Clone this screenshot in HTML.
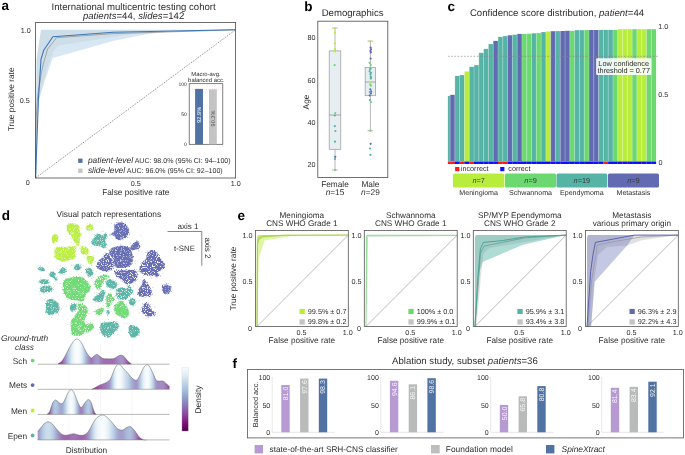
<!DOCTYPE html>
<html><head><meta charset="utf-8"><style>html,body{margin:0;padding:0;background:#fff;}svg{display:block;}</style></head>
<body>
<svg width="685" height="455" viewBox="0 0 685 455" font-family='"Liberation Sans", sans-serif' text-rendering="geometricPrecision">
<style>text{opacity:0.995}text[font-weight=bold],text.ns{stroke:none}</style>
<rect width="685" height="455" fill="#fff"/>
<text x="1.60" y="9.60" font-size="13.5" text-anchor="start" fill="#000" font-weight="bold">a</text>
<text x="133.60" y="9.90" font-size="9.6" text-anchor="middle" fill="#2e2e2e">International multicentric testing cohort</text>
<text x="133.60" y="19.20" font-size="9.6" text-anchor="middle" fill="#2e2e2e"><tspan font-style="italic">patients</tspan>=44, <tspan font-style="italic">slides</tspan>=142</text>
<polygon points="35.60,178.00 36.20,103.90 36.60,59.44 41.00,29.80 235.60,29.80 235.60,29.80 167.60,31.28 141.00,35.14 113.00,40.91 52.80,57.96 45.00,80.19 39.00,99.45 36.80,126.13 35.80,178.00" fill="#d7e7f3" stroke="none" stroke-width="1"/>
<polygon points="35.60,178.00 36.00,103.90 36.60,59.44 41.00,29.80 235.60,29.80 235.60,29.80 135.60,33.51 58.00,45.51 53.40,51.44 47.60,66.85 39.60,96.49 36.60,126.13 35.80,178.00" fill="#a0acb6" stroke="none" stroke-width="1" fill-opacity="0.16"/>
<line x1="35.60" y1="178.00" x2="235.60" y2="29.80" stroke="#555" stroke-width="0.6" stroke-dasharray="1.6,1.2"/>
<polyline points="35.60,178.00 36.20,118.72 37.60,96.49 41.60,71.30 44.60,59.44 47.60,49.07 56.60,37.65 113.00,33.65 235.60,29.80" fill="none" stroke="#959595" stroke-width="0.8" stroke-linejoin="round"/>
<polyline points="35.60,178.00 38.40,99.45 41.00,59.44 43.60,50.55 52.80,36.77 113.00,32.32 235.60,29.80" fill="none" stroke="#3c77b5" stroke-width="1.1" stroke-linejoin="round"/>
<rect x="35.60" y="22.50" width="200.00" height="155.50" fill="none" stroke="#4a4a4a" stroke-width="0.8"/>
<text x="30.80" y="32.60" font-size="7.2" text-anchor="end" fill="#2e2e2e">1.0</text>
<text x="29.80" y="102.60" font-size="7.2" text-anchor="end" fill="#2e2e2e">0.5</text>
<text x="27.70" y="185.30" font-size="7.2" text-anchor="middle" fill="#2e2e2e">0</text>
<text x="135.80" y="186.10" font-size="7.2" text-anchor="middle" fill="#2e2e2e">0.5</text>
<text x="235.80" y="186.10" font-size="7.2" text-anchor="middle" fill="#2e2e2e">1.0</text>
<text x="135.80" y="194.60" font-size="8.3" text-anchor="middle" fill="#2e2e2e">False positive rate</text>
<text x="13.80" y="99.40" font-size="8.3" text-anchor="middle" fill="#2e2e2e" transform="rotate(-90 13.80 99.40)">True positive rate</text>
<text x="206.00" y="76.00" font-size="5.9" text-anchor="middle" fill="#2e2e2e">Macro-avg.</text>
<text x="206.30" y="82.20" font-size="5.9" text-anchor="middle" fill="#2e2e2e">balanced acc.</text>
<rect x="189.20" y="83.70" width="33.60" height="60.60" fill="#fff" stroke="#4a4a4a" stroke-width="0.7"/>
<line x1="190.00" y1="89.20" x2="222.00" y2="89.20" stroke="#f3b0b0" stroke-width="0.4" stroke-dasharray="1,1"/>
<rect x="195.10" y="88.90" width="7.90" height="55.40" fill="#5073a3" stroke="none" stroke-width="0.8"/>
<rect x="209.00" y="89.30" width="7.80" height="55.00" fill="#c4c4c4" stroke="none" stroke-width="0.8"/>
<text x="186.80" y="85.80" font-size="5.0" text-anchor="end" fill="#2e2e2e">100</text>
<text x="186.80" y="116.30" font-size="5.0" text-anchor="end" fill="#2e2e2e">50</text>
<text x="186.80" y="146.00" font-size="5.0" text-anchor="end" fill="#2e2e2e">0</text>
<text x="201.20" y="114.80" font-size="5.6" text-anchor="middle" fill="#fff" transform="rotate(-90 201.20 114.80)" class="ns">92.9%</text>
<text x="215.00" y="118.50" font-size="5.6" text-anchor="middle" fill="#555" transform="rotate(-90 215.00 118.50)" class="ns">90.3%</text>
<rect x="78.20" y="158.60" width="4.30" height="4.30" fill="#5073a3" stroke="none" stroke-width="0.8"/>
<rect x="78.20" y="168.60" width="4.30" height="4.30" fill="#c4c4c4" stroke="none" stroke-width="0.8"/>
<text x="87.90" y="163.00" font-size="7.05" text-anchor="start" fill="#2e2e2e"><tspan font-style="italic" font-size="8.4">patient-level</tspan> AUC: 98.0% (95% CI: 94–100)</text>
<text x="87.90" y="172.80" font-size="7.05" text-anchor="start" fill="#2e2e2e"><tspan font-style="italic" font-size="8.4">slide-level</tspan> AUC: 96.0% (95% CI: 92–100)</text>
<text x="304.30" y="11.20" font-size="13.5" text-anchor="start" fill="#000" font-weight="bold">b</text>
<text x="352.60" y="15.90" font-size="9.6" text-anchor="middle" fill="#2e2e2e">Demographics</text>
<text x="315.60" y="40.40" font-size="7.2" text-anchor="end" fill="#2e2e2e">80</text>
<text x="315.60" y="82.60" font-size="7.2" text-anchor="end" fill="#2e2e2e">60</text>
<text x="315.60" y="124.80" font-size="7.2" text-anchor="end" fill="#2e2e2e">40</text>
<text x="315.60" y="167.00" font-size="7.2" text-anchor="end" fill="#2e2e2e">20</text>
<text x="308.60" y="102.00" font-size="8.3" text-anchor="middle" fill="#2e2e2e" transform="rotate(-90 308.60 102.00)">Age</text>
<line x1="335.00" y1="28.10" x2="335.00" y2="50.90" stroke="#999" stroke-width="0.7"/>
<line x1="335.00" y1="149.30" x2="335.00" y2="170.00" stroke="#999" stroke-width="0.7"/>
<line x1="332.20" y1="28.10" x2="337.80" y2="28.10" stroke="#999" stroke-width="0.7"/>
<line x1="332.20" y1="170.00" x2="337.80" y2="170.00" stroke="#999" stroke-width="0.7"/>
<rect x="329.20" y="50.90" width="11.60" height="98.40" fill="#e7eef2" stroke="#999" stroke-width="0.7"/>
<line x1="329.20" y1="115.00" x2="340.80" y2="115.00" stroke="#888" stroke-width="0.7"/>
<line x1="370.40" y1="41.10" x2="370.40" y2="67.50" stroke="#999" stroke-width="0.7"/>
<line x1="370.40" y1="95.70" x2="370.40" y2="130.70" stroke="#999" stroke-width="0.7"/>
<line x1="367.60" y1="41.10" x2="373.20" y2="41.10" stroke="#999" stroke-width="0.7"/>
<line x1="367.60" y1="130.70" x2="373.20" y2="130.70" stroke="#999" stroke-width="0.7"/>
<rect x="365.15" y="67.50" width="10.50" height="28.20" fill="#e7eef2" stroke="#999" stroke-width="0.7"/>
<line x1="365.15" y1="82.00" x2="375.65" y2="82.00" stroke="#888" stroke-width="0.7"/>
<circle cx="334.79" cy="28.00" r="1.1" fill="#b9ed3b"/>
<circle cx="335.04" cy="32.60" r="1.1" fill="#b9ed3b"/>
<circle cx="334.90" cy="43.40" r="1.1" fill="#b9ed3b"/>
<circle cx="335.08" cy="49.40" r="1.1" fill="#b9ed3b"/>
<circle cx="335.10" cy="51.50" r="1.1" fill="#b9ed3b"/>
<circle cx="334.65" cy="50.50" r="1.1" fill="#b9ed3b"/>
<circle cx="334.61" cy="65.20" r="1.1" fill="#6cd870"/>
<circle cx="335.27" cy="113.10" r="1.1" fill="#6cd870"/>
<circle cx="334.81" cy="115.50" r="1.1" fill="#56b4a6"/>
<circle cx="334.79" cy="126.20" r="1.1" fill="#56b4a6"/>
<circle cx="335.40" cy="131.00" r="1.1" fill="#56b4a6"/>
<circle cx="334.98" cy="141.70" r="1.1" fill="#56b4a6"/>
<circle cx="335.27" cy="156.80" r="1.1" fill="#626ab2"/>
<circle cx="334.98" cy="159.00" r="1.1" fill="#56b4a6"/>
<circle cx="335.11" cy="170.10" r="1.1" fill="#6cd870"/>
<circle cx="369.84" cy="41.00" r="1.1" fill="#b9ed3b"/>
<circle cx="370.62" cy="47.60" r="1.1" fill="#626ab2"/>
<circle cx="370.99" cy="49.30" r="1.1" fill="#626ab2"/>
<circle cx="370.44" cy="51.00" r="1.1" fill="#626ab2"/>
<circle cx="370.79" cy="52.40" r="1.1" fill="#626ab2"/>
<circle cx="370.67" cy="58.60" r="1.1" fill="#626ab2"/>
<circle cx="369.70" cy="62.90" r="1.1" fill="#6cd870"/>
<circle cx="370.81" cy="65.00" r="1.1" fill="#6cd870"/>
<circle cx="370.55" cy="68.60" r="1.1" fill="#56b4a6"/>
<circle cx="370.08" cy="69.30" r="1.1" fill="#56b4a6"/>
<circle cx="369.65" cy="71.40" r="1.1" fill="#56b4a6"/>
<circle cx="370.98" cy="72.90" r="1.1" fill="#56b4a6"/>
<circle cx="370.36" cy="74.30" r="1.1" fill="#56b4a6"/>
<circle cx="370.75" cy="76.40" r="1.1" fill="#56b4a6"/>
<circle cx="371.01" cy="77.90" r="1.1" fill="#56b4a6"/>
<circle cx="370.74" cy="78.60" r="1.1" fill="#56b4a6"/>
<circle cx="371.07" cy="82.10" r="1.1" fill="#b9ed3b"/>
<circle cx="370.23" cy="84.30" r="1.1" fill="#6cd870"/>
<circle cx="370.88" cy="85.70" r="1.1" fill="#6cd870"/>
<circle cx="370.31" cy="89.30" r="1.1" fill="#626ab2"/>
<circle cx="371.10" cy="91.40" r="1.1" fill="#626ab2"/>
<circle cx="371.01" cy="93.40" r="1.1" fill="#626ab2"/>
<circle cx="369.76" cy="95.40" r="1.1" fill="#626ab2"/>
<circle cx="369.82" cy="92.10" r="1.1" fill="#56b4a6"/>
<circle cx="369.95" cy="100.00" r="1.1" fill="#56b4a6"/>
<circle cx="371.14" cy="102.00" r="1.1" fill="#6cd870"/>
<circle cx="370.30" cy="130.80" r="1.1" fill="#6cd870"/>
<circle cx="370.60" cy="143.80" r="1.1" fill="#626ab2"/>
<circle cx="370.08" cy="148.50" r="1.1" fill="#56b4a6"/>
<circle cx="370.41" cy="154.90" r="1.1" fill="#56b4a6"/>
<rect x="317.80" y="21.20" width="70.00" height="156.20" fill="none" stroke="#4a4a4a" stroke-width="0.8"/>
<text x="335.00" y="186.50" font-size="8.3" text-anchor="middle" fill="#2e2e2e">Female</text>
<text x="335.00" y="195.30" font-size="8.3" text-anchor="middle" fill="#2e2e2e"><tspan font-style="italic">n</tspan>=15</text>
<text x="370.40" y="186.50" font-size="8.3" text-anchor="middle" fill="#2e2e2e">Male</text>
<text x="370.40" y="195.30" font-size="8.3" text-anchor="middle" fill="#2e2e2e"><tspan font-style="italic">n</tspan>=29</text>
<text x="447.60" y="11.20" font-size="13.5" text-anchor="start" fill="#000" font-weight="bold">c</text>
<text x="557.00" y="16.10" font-size="9.6" text-anchor="middle" fill="#2e2e2e">Confidence score distribution, <tspan font-style="italic">patient</tspan>=44</text>
<rect x="447.90" y="95.90" width="2.20" height="65.40" fill="#56b4a6" stroke="none" stroke-width="0.8"/>
<rect x="450.10" y="94.80" width="4.79" height="66.50" fill="#626ab2" stroke="none" stroke-width="0.8"/>
<line x1="450.10" y1="94.80" x2="450.10" y2="161.30" stroke="#fff" stroke-width="0.45" stroke-opacity="0.55"/>
<rect x="454.89" y="75.90" width="4.79" height="85.40" fill="#56b4a6" stroke="none" stroke-width="0.8"/>
<line x1="454.89" y1="75.90" x2="454.89" y2="161.30" stroke="#fff" stroke-width="0.45" stroke-opacity="0.55"/>
<rect x="459.68" y="75.10" width="4.79" height="86.20" fill="#56b4a6" stroke="none" stroke-width="0.8"/>
<line x1="459.68" y1="75.10" x2="459.68" y2="161.30" stroke="#fff" stroke-width="0.45" stroke-opacity="0.55"/>
<rect x="464.47" y="71.50" width="4.79" height="89.80" fill="#b9ed3b" stroke="none" stroke-width="0.8"/>
<line x1="464.47" y1="71.50" x2="464.47" y2="161.30" stroke="#fff" stroke-width="0.45" stroke-opacity="0.55"/>
<rect x="469.26" y="66.80" width="4.79" height="94.50" fill="#56b4a6" stroke="none" stroke-width="0.8"/>
<line x1="469.26" y1="66.80" x2="469.26" y2="161.30" stroke="#fff" stroke-width="0.45" stroke-opacity="0.55"/>
<rect x="474.05" y="65.20" width="4.79" height="96.10" fill="#56b4a6" stroke="none" stroke-width="0.8"/>
<line x1="474.05" y1="65.20" x2="474.05" y2="161.30" stroke="#fff" stroke-width="0.45" stroke-opacity="0.55"/>
<rect x="478.84" y="52.80" width="4.79" height="108.50" fill="#56b4a6" stroke="none" stroke-width="0.8"/>
<line x1="478.84" y1="52.80" x2="478.84" y2="161.30" stroke="#fff" stroke-width="0.45" stroke-opacity="0.55"/>
<rect x="483.63" y="48.90" width="4.79" height="112.40" fill="#56b4a6" stroke="none" stroke-width="0.8"/>
<line x1="483.63" y1="48.90" x2="483.63" y2="161.30" stroke="#fff" stroke-width="0.45" stroke-opacity="0.55"/>
<rect x="488.42" y="44.10" width="4.79" height="117.20" fill="#56b4a6" stroke="none" stroke-width="0.8"/>
<line x1="488.42" y1="44.10" x2="488.42" y2="161.30" stroke="#fff" stroke-width="0.45" stroke-opacity="0.55"/>
<rect x="493.21" y="40.90" width="4.79" height="120.40" fill="#626ab2" stroke="none" stroke-width="0.8"/>
<line x1="493.21" y1="40.90" x2="493.21" y2="161.30" stroke="#fff" stroke-width="0.45" stroke-opacity="0.55"/>
<rect x="498.00" y="36.90" width="4.79" height="124.40" fill="#56b4a6" stroke="none" stroke-width="0.8"/>
<line x1="498.00" y1="36.90" x2="498.00" y2="161.30" stroke="#fff" stroke-width="0.45" stroke-opacity="0.55"/>
<rect x="502.79" y="36.10" width="4.79" height="125.20" fill="#56b4a6" stroke="none" stroke-width="0.8"/>
<line x1="502.79" y1="36.10" x2="502.79" y2="161.30" stroke="#fff" stroke-width="0.45" stroke-opacity="0.55"/>
<rect x="507.58" y="35.30" width="4.79" height="126.00" fill="#626ab2" stroke="none" stroke-width="0.8"/>
<line x1="507.58" y1="35.30" x2="507.58" y2="161.30" stroke="#fff" stroke-width="0.45" stroke-opacity="0.55"/>
<rect x="512.37" y="34.70" width="4.79" height="126.60" fill="#56b4a6" stroke="none" stroke-width="0.8"/>
<line x1="512.37" y1="34.70" x2="512.37" y2="161.30" stroke="#fff" stroke-width="0.45" stroke-opacity="0.55"/>
<rect x="517.16" y="33.90" width="4.79" height="127.40" fill="#626ab2" stroke="none" stroke-width="0.8"/>
<line x1="517.16" y1="33.90" x2="517.16" y2="161.30" stroke="#fff" stroke-width="0.45" stroke-opacity="0.55"/>
<rect x="521.95" y="33.90" width="4.79" height="127.40" fill="#6cd870" stroke="none" stroke-width="0.8"/>
<line x1="521.95" y1="33.90" x2="521.95" y2="161.30" stroke="#fff" stroke-width="0.45" stroke-opacity="0.55"/>
<rect x="526.74" y="33.70" width="4.79" height="127.60" fill="#6cd870" stroke="none" stroke-width="0.8"/>
<line x1="526.74" y1="33.70" x2="526.74" y2="161.30" stroke="#fff" stroke-width="0.45" stroke-opacity="0.55"/>
<rect x="531.53" y="33.30" width="4.79" height="128.00" fill="#56b4a6" stroke="none" stroke-width="0.8"/>
<line x1="531.53" y1="33.30" x2="531.53" y2="161.30" stroke="#fff" stroke-width="0.45" stroke-opacity="0.55"/>
<rect x="536.32" y="33.10" width="4.79" height="128.20" fill="#6cd870" stroke="none" stroke-width="0.8"/>
<line x1="536.32" y1="33.10" x2="536.32" y2="161.30" stroke="#fff" stroke-width="0.45" stroke-opacity="0.55"/>
<rect x="541.11" y="32.10" width="4.79" height="129.20" fill="#56b4a6" stroke="none" stroke-width="0.8"/>
<line x1="541.11" y1="32.10" x2="541.11" y2="161.30" stroke="#fff" stroke-width="0.45" stroke-opacity="0.55"/>
<rect x="545.90" y="31.50" width="4.79" height="129.80" fill="#b9ed3b" stroke="none" stroke-width="0.8"/>
<line x1="545.90" y1="31.50" x2="545.90" y2="161.30" stroke="#fff" stroke-width="0.45" stroke-opacity="0.55"/>
<rect x="550.69" y="31.20" width="4.79" height="130.10" fill="#626ab2" stroke="none" stroke-width="0.8"/>
<line x1="550.69" y1="31.20" x2="550.69" y2="161.30" stroke="#fff" stroke-width="0.45" stroke-opacity="0.55"/>
<rect x="555.48" y="31.10" width="4.79" height="130.20" fill="#56b4a6" stroke="none" stroke-width="0.8"/>
<line x1="555.48" y1="31.10" x2="555.48" y2="161.30" stroke="#fff" stroke-width="0.45" stroke-opacity="0.55"/>
<rect x="560.27" y="31.00" width="4.79" height="130.30" fill="#626ab2" stroke="none" stroke-width="0.8"/>
<line x1="560.27" y1="31.00" x2="560.27" y2="161.30" stroke="#fff" stroke-width="0.45" stroke-opacity="0.55"/>
<rect x="565.06" y="30.80" width="4.79" height="130.50" fill="#626ab2" stroke="none" stroke-width="0.8"/>
<line x1="565.06" y1="30.80" x2="565.06" y2="161.30" stroke="#fff" stroke-width="0.45" stroke-opacity="0.55"/>
<rect x="569.85" y="30.80" width="4.79" height="130.50" fill="#6cd870" stroke="none" stroke-width="0.8"/>
<line x1="569.85" y1="30.80" x2="569.85" y2="161.30" stroke="#fff" stroke-width="0.45" stroke-opacity="0.55"/>
<rect x="574.64" y="30.20" width="4.79" height="131.10" fill="#56b4a6" stroke="none" stroke-width="0.8"/>
<line x1="574.64" y1="30.20" x2="574.64" y2="161.30" stroke="#fff" stroke-width="0.45" stroke-opacity="0.55"/>
<rect x="579.43" y="30.20" width="4.79" height="131.10" fill="#56b4a6" stroke="none" stroke-width="0.8"/>
<line x1="579.43" y1="30.20" x2="579.43" y2="161.30" stroke="#fff" stroke-width="0.45" stroke-opacity="0.55"/>
<rect x="584.22" y="30.10" width="4.79" height="131.20" fill="#6cd870" stroke="none" stroke-width="0.8"/>
<line x1="584.22" y1="30.10" x2="584.22" y2="161.30" stroke="#fff" stroke-width="0.45" stroke-opacity="0.55"/>
<rect x="589.01" y="30.00" width="4.79" height="131.30" fill="#626ab2" stroke="none" stroke-width="0.8"/>
<line x1="589.01" y1="30.00" x2="589.01" y2="161.30" stroke="#fff" stroke-width="0.45" stroke-opacity="0.55"/>
<rect x="593.80" y="30.00" width="4.79" height="131.30" fill="#626ab2" stroke="none" stroke-width="0.8"/>
<line x1="593.80" y1="30.00" x2="593.80" y2="161.30" stroke="#fff" stroke-width="0.45" stroke-opacity="0.55"/>
<rect x="598.59" y="29.90" width="4.79" height="131.40" fill="#56b4a6" stroke="none" stroke-width="0.8"/>
<line x1="598.59" y1="29.90" x2="598.59" y2="161.30" stroke="#fff" stroke-width="0.45" stroke-opacity="0.55"/>
<rect x="603.38" y="29.90" width="4.79" height="131.40" fill="#56b4a6" stroke="none" stroke-width="0.8"/>
<line x1="603.38" y1="29.90" x2="603.38" y2="161.30" stroke="#fff" stroke-width="0.45" stroke-opacity="0.55"/>
<rect x="608.17" y="29.90" width="4.79" height="131.40" fill="#56b4a6" stroke="none" stroke-width="0.8"/>
<line x1="608.17" y1="29.90" x2="608.17" y2="161.30" stroke="#fff" stroke-width="0.45" stroke-opacity="0.55"/>
<rect x="612.96" y="29.90" width="4.79" height="131.40" fill="#6cd870" stroke="none" stroke-width="0.8"/>
<line x1="612.96" y1="29.90" x2="612.96" y2="161.30" stroke="#fff" stroke-width="0.45" stroke-opacity="0.55"/>
<rect x="617.75" y="29.20" width="4.79" height="132.10" fill="#b9ed3b" stroke="none" stroke-width="0.8"/>
<line x1="617.75" y1="29.20" x2="617.75" y2="161.30" stroke="#fff" stroke-width="0.45" stroke-opacity="0.55"/>
<rect x="622.54" y="29.20" width="4.79" height="132.10" fill="#b9ed3b" stroke="none" stroke-width="0.8"/>
<line x1="622.54" y1="29.20" x2="622.54" y2="161.30" stroke="#fff" stroke-width="0.45" stroke-opacity="0.55"/>
<rect x="627.33" y="29.20" width="4.79" height="132.10" fill="#b9ed3b" stroke="none" stroke-width="0.8"/>
<line x1="627.33" y1="29.20" x2="627.33" y2="161.30" stroke="#fff" stroke-width="0.45" stroke-opacity="0.55"/>
<rect x="632.12" y="29.20" width="4.79" height="132.10" fill="#6cd870" stroke="none" stroke-width="0.8"/>
<line x1="632.12" y1="29.20" x2="632.12" y2="161.30" stroke="#fff" stroke-width="0.45" stroke-opacity="0.55"/>
<rect x="636.91" y="29.20" width="4.79" height="132.10" fill="#b9ed3b" stroke="none" stroke-width="0.8"/>
<line x1="636.91" y1="29.20" x2="636.91" y2="161.30" stroke="#fff" stroke-width="0.45" stroke-opacity="0.55"/>
<rect x="641.70" y="29.20" width="4.79" height="132.10" fill="#b9ed3b" stroke="none" stroke-width="0.8"/>
<line x1="641.70" y1="29.20" x2="641.70" y2="161.30" stroke="#fff" stroke-width="0.45" stroke-opacity="0.55"/>
<rect x="646.49" y="29.20" width="4.79" height="132.10" fill="#6cd870" stroke="none" stroke-width="0.8"/>
<line x1="646.49" y1="29.20" x2="646.49" y2="161.30" stroke="#fff" stroke-width="0.45" stroke-opacity="0.55"/>
<rect x="651.28" y="29.20" width="4.79" height="132.10" fill="#6cd870" stroke="none" stroke-width="0.8"/>
<line x1="651.28" y1="29.20" x2="651.28" y2="161.30" stroke="#fff" stroke-width="0.45" stroke-opacity="0.55"/>
<rect x="447.85" y="161.50" width="2.30" height="2.50" fill="#ff1a1a" stroke="none" stroke-width="0.8"/>
<rect x="450.05" y="161.50" width="4.89" height="2.50" fill="#ff1a1a" stroke="none" stroke-width="0.8"/>
<rect x="454.84" y="161.50" width="4.89" height="2.50" fill="#1010ff" stroke="none" stroke-width="0.8"/>
<rect x="459.63" y="161.50" width="4.89" height="2.50" fill="#ff1a1a" stroke="none" stroke-width="0.8"/>
<rect x="464.42" y="161.50" width="4.89" height="2.50" fill="#1010ff" stroke="none" stroke-width="0.8"/>
<rect x="469.21" y="161.50" width="4.89" height="2.50" fill="#ff1a1a" stroke="none" stroke-width="0.8"/>
<rect x="474.00" y="161.50" width="4.89" height="2.50" fill="#1010ff" stroke="none" stroke-width="0.8"/>
<rect x="478.79" y="161.50" width="4.89" height="2.50" fill="#1010ff" stroke="none" stroke-width="0.8"/>
<rect x="483.58" y="161.50" width="4.89" height="2.50" fill="#1010ff" stroke="none" stroke-width="0.8"/>
<rect x="488.37" y="161.50" width="4.89" height="2.50" fill="#1010ff" stroke="none" stroke-width="0.8"/>
<rect x="493.16" y="161.50" width="4.89" height="2.50" fill="#1010ff" stroke="none" stroke-width="0.8"/>
<rect x="497.95" y="161.50" width="4.89" height="2.50" fill="#ff1a1a" stroke="none" stroke-width="0.8"/>
<rect x="502.74" y="161.50" width="4.89" height="2.50" fill="#ff1a1a" stroke="none" stroke-width="0.8"/>
<rect x="507.53" y="161.50" width="4.89" height="2.50" fill="#1010ff" stroke="none" stroke-width="0.8"/>
<rect x="512.32" y="161.50" width="4.89" height="2.50" fill="#1010ff" stroke="none" stroke-width="0.8"/>
<rect x="517.11" y="161.50" width="4.89" height="2.50" fill="#1010ff" stroke="none" stroke-width="0.8"/>
<rect x="521.90" y="161.50" width="4.89" height="2.50" fill="#1010ff" stroke="none" stroke-width="0.8"/>
<rect x="526.69" y="161.50" width="4.89" height="2.50" fill="#1010ff" stroke="none" stroke-width="0.8"/>
<rect x="531.48" y="161.50" width="4.89" height="2.50" fill="#1010ff" stroke="none" stroke-width="0.8"/>
<rect x="536.27" y="161.50" width="4.89" height="2.50" fill="#1010ff" stroke="none" stroke-width="0.8"/>
<rect x="541.06" y="161.50" width="4.89" height="2.50" fill="#1010ff" stroke="none" stroke-width="0.8"/>
<rect x="545.85" y="161.50" width="4.89" height="2.50" fill="#1010ff" stroke="none" stroke-width="0.8"/>
<rect x="550.64" y="161.50" width="4.89" height="2.50" fill="#1010ff" stroke="none" stroke-width="0.8"/>
<rect x="555.43" y="161.50" width="4.89" height="2.50" fill="#1010ff" stroke="none" stroke-width="0.8"/>
<rect x="560.22" y="161.50" width="4.89" height="2.50" fill="#1010ff" stroke="none" stroke-width="0.8"/>
<rect x="565.01" y="161.50" width="4.89" height="2.50" fill="#1010ff" stroke="none" stroke-width="0.8"/>
<rect x="569.80" y="161.50" width="4.89" height="2.50" fill="#1010ff" stroke="none" stroke-width="0.8"/>
<rect x="574.59" y="161.50" width="4.89" height="2.50" fill="#1010ff" stroke="none" stroke-width="0.8"/>
<rect x="579.38" y="161.50" width="4.89" height="2.50" fill="#1010ff" stroke="none" stroke-width="0.8"/>
<rect x="584.17" y="161.50" width="4.89" height="2.50" fill="#1010ff" stroke="none" stroke-width="0.8"/>
<rect x="588.96" y="161.50" width="4.89" height="2.50" fill="#1010ff" stroke="none" stroke-width="0.8"/>
<rect x="593.75" y="161.50" width="4.89" height="2.50" fill="#1010ff" stroke="none" stroke-width="0.8"/>
<rect x="598.54" y="161.50" width="4.89" height="2.50" fill="#1010ff" stroke="none" stroke-width="0.8"/>
<rect x="603.33" y="161.50" width="4.89" height="2.50" fill="#ff1a1a" stroke="none" stroke-width="0.8"/>
<rect x="608.12" y="161.50" width="4.89" height="2.50" fill="#1010ff" stroke="none" stroke-width="0.8"/>
<rect x="612.91" y="161.50" width="4.89" height="2.50" fill="#1010ff" stroke="none" stroke-width="0.8"/>
<rect x="617.70" y="161.50" width="4.89" height="2.50" fill="#1010ff" stroke="none" stroke-width="0.8"/>
<rect x="622.49" y="161.50" width="4.89" height="2.50" fill="#1010ff" stroke="none" stroke-width="0.8"/>
<rect x="627.28" y="161.50" width="4.89" height="2.50" fill="#1010ff" stroke="none" stroke-width="0.8"/>
<rect x="632.07" y="161.50" width="4.89" height="2.50" fill="#1010ff" stroke="none" stroke-width="0.8"/>
<rect x="636.86" y="161.50" width="4.89" height="2.50" fill="#1010ff" stroke="none" stroke-width="0.8"/>
<rect x="641.65" y="161.50" width="4.89" height="2.50" fill="#1010ff" stroke="none" stroke-width="0.8"/>
<rect x="646.44" y="161.50" width="4.89" height="2.50" fill="#1010ff" stroke="none" stroke-width="0.8"/>
<rect x="651.23" y="161.50" width="4.89" height="2.50" fill="#1010ff" stroke="none" stroke-width="0.8"/>
<line x1="448.00" y1="56.30" x2="658.00" y2="56.30" stroke="#888" stroke-width="0.6" stroke-dasharray="1.8,1.4"/>
<rect x="596.1" y="58.2" width="55.2" height="16.9" rx="1" fill="#fff" fill-opacity="0.88"/>
<text x="623.70" y="66.20" font-size="7.3" text-anchor="middle" fill="#2e2e2e">Low confidence</text>
<text x="623.70" y="72.90" font-size="7.3" text-anchor="middle" fill="#2e2e2e">threshold = 0.77</text>
<text x="658.20" y="28.70" font-size="7.2" text-anchor="start" fill="#2e2e2e">1.0</text>
<text x="658.20" y="96.60" font-size="7.2" text-anchor="start" fill="#2e2e2e">0.5</text>
<text x="658.40" y="165.30" font-size="7.2" text-anchor="start" fill="#2e2e2e">0</text>
<rect x="455.10" y="167.00" width="4.30" height="4.20" fill="#ff1a1a" stroke="none" stroke-width="0.8"/>
<text x="460.80" y="171.20" font-size="7.25" text-anchor="start" fill="#2e2e2e">incorrect</text>
<rect x="500.20" y="167.00" width="4.20" height="4.20" fill="#1010ff" stroke="none" stroke-width="0.8"/>
<text x="508.30" y="171.20" font-size="7.25" text-anchor="start" fill="#2e2e2e">correct</text>
<rect x="452.90" y="173.4" width="51.50" height="14.1" rx="1.6" fill="#b9ed3b"/>
<text x="478.65" y="183.10" font-size="7.3" text-anchor="middle" fill="#3a3a3a" class="ns"><tspan font-style="italic">n</tspan>=7</text>
<text x="478.65" y="195.30" font-size="7.1" text-anchor="middle" fill="#2e2e2e">Meningioma</text>
<rect x="505.00" y="173.4" width="51.10" height="14.1" rx="1.6" fill="#6cd870"/>
<text x="530.55" y="183.10" font-size="7.3" text-anchor="middle" fill="#3a3a3a" class="ns"><tspan font-style="italic">n</tspan>=9</text>
<text x="530.55" y="195.30" font-size="7.1" text-anchor="middle" fill="#2e2e2e">Schwannoma</text>
<rect x="556.50" y="173.4" width="50.70" height="14.1" rx="1.6" fill="#56b4a6"/>
<text x="581.85" y="183.10" font-size="7.3" text-anchor="middle" fill="#3a3a3a" class="ns"><tspan font-style="italic">n</tspan>=19</text>
<text x="581.85" y="195.30" font-size="7.1" text-anchor="middle" fill="#2e2e2e">Ependymoma</text>
<rect x="607.90" y="173.4" width="51.10" height="14.1" rx="1.6" fill="#626ab2"/>
<text x="633.45" y="183.10" font-size="7.3" text-anchor="middle" fill="#3a3a3a" class="ns"><tspan font-style="italic">n</tspan>=9</text>
<text x="633.45" y="195.30" font-size="7.1" text-anchor="middle" fill="#2e2e2e">Metastasis</text>
<text x="1.80" y="219.50" font-size="13.5" text-anchor="start" fill="#000" font-weight="bold">d</text>
<text x="108.80" y="217.30" font-size="8.3" text-anchor="middle" fill="#2e2e2e">Visual patch representations</text>
<line x1="167.50" y1="231.50" x2="201.80" y2="231.50" stroke="#555" stroke-width="0.7"/>
<line x1="201.80" y1="231.50" x2="201.80" y2="265.80" stroke="#555" stroke-width="0.7"/>
<text x="187.90" y="229.10" font-size="8.0" text-anchor="middle" fill="#2e2e2e">axis 1</text>
<text x="184.50" y="250.90" font-size="7.8" text-anchor="middle" fill="#2e2e2e">t-SNE</text>
<text x="205.00" y="248.00" font-size="8.0" text-anchor="middle" fill="#2e2e2e" transform="rotate(90 205.00 248.00)">axis 2</text>
<defs><filter id="tsf2" x="-5%" y="-5%" width="110%" height="110%" filterUnits="objectBoundingBox"><feTurbulence type="fractalNoise" baseFrequency="0.9" numOctaves="2" seed="8" result="n"/><feDisplacementMap in="SourceGraphic" in2="n" scale="3.2" xChannelSelector="R" yChannelSelector="G" result="d"/><feTurbulence type="fractalNoise" baseFrequency="0.8" numOctaves="2" seed="21" result="n2"/><feColorMatrix in="n2" type="matrix" values="0 0 0 0 1  0 0 0 0 1  0 0 0 0 1  -10 0 0 0 4.3" result="sp"/><feComposite in="sp" in2="d" operator="in" result="spi"/><feMerge><feMergeNode in="d"/><feMergeNode in="spi"/></feMerge></filter><filter id="tsf" x="-5%" y="-5%" width="110%" height="110%" filterUnits="objectBoundingBox"><feTurbulence type="fractalNoise" baseFrequency="0.9" numOctaves="2" seed="5" result="n"/><feDisplacementMap in="SourceGraphic" in2="n" scale="2.6" xChannelSelector="R" yChannelSelector="G" result="d"/><feTurbulence type="fractalNoise" baseFrequency="1.6" numOctaves="1" seed="11" result="n2"/><feColorMatrix in="n2" type="matrix" values="0 0 0 0 1  0 0 0 0 1  0 0 0 0 1  -3 0 0 0 1.35" result="sp"/><feComposite in="sp" in2="d" operator="in" result="spi"/><feMerge><feMergeNode in="d"/><feMergeNode in="spi"/></feMerge></filter></defs>
<g filter="url(#tsf)">
<path d="M67.1,225.0 L67.6,224.5 L68.3,224.0 L69.2,223.6 L70.1,223.3 L71.1,223.2 L72.2,223.3 L73.4,223.5 L74.5,223.7 L75.6,224.0 L76.7,224.4 L77.7,224.9 L78.5,225.5 L79.0,226.2 L79.2,226.9 L79.3,227.7 L79.4,228.5 L79.5,229.4 L79.5,230.3 L79.6,231.3 L79.8,232.1 L80.2,232.8 L80.8,233.3 L81.3,233.8 L81.6,234.3 L81.5,234.6 L81.1,234.8 L80.6,235.1 L80.3,235.6 L80.1,236.5 L80.0,237.7 L79.9,238.9 L79.8,240.0 L79.7,241.0 L79.7,241.9 L79.6,242.8 L79.4,243.5 L79.1,244.1 L78.8,244.6 L78.5,245.0 L78.1,245.2 L77.7,245.2 L77.2,245.1 L76.8,244.8 L76.3,244.4 L75.8,243.9 L75.4,243.2 L74.9,242.4 L74.5,241.7 L74.1,241.1 L73.6,240.4 L73.2,239.8 L72.8,239.1 L72.4,238.3 L71.9,237.4 L71.5,236.4 L71.0,235.6 L70.5,234.9 L69.9,234.2 L69.3,233.5 L68.8,232.9 L68.3,232.3 L67.8,231.7 L67.4,231.0 L67.1,230.3 L66.9,229.4 L66.8,228.5 L66.8,227.6 L66.8,226.8 L66.8,226.2 L66.7,225.8 L66.8,225.4Z" fill="#b9ed3b" fill-opacity="0.96"/>
<path d="M52.1,236.9 L52.3,236.3 L52.7,235.8 L53.1,235.4 L53.5,235.1 L54.0,234.9 L54.6,234.7 L55.2,234.6 L55.7,234.7 L56.2,234.9 L56.7,235.2 L57.1,235.5 L57.4,236.0 L57.7,236.6 L57.9,237.3 L58.0,238.0 L58.0,238.7 L57.9,239.3 L57.7,239.8 L57.4,240.3 L57.0,240.8 L56.5,241.2 L56.0,241.6 L55.4,241.9 L54.8,242.2 L54.3,242.5 L53.8,242.8 L53.4,243.0 L53.0,243.0 L52.7,242.7 L52.4,242.2 L52.2,241.5 L52.1,240.8 L52.0,239.9 L52.0,238.8 L52.0,237.8Z" fill="#b9ed3b" fill-opacity="0.96"/>
<path d="M54.8,249.2 L55.4,248.4 L56.2,247.8 L57.2,247.3 L58.3,247.0 L59.6,246.9 L61.0,246.9 L62.5,247.0 L64.0,247.0 L65.5,246.9 L67.1,246.8 L68.6,246.7 L70.1,246.6 L71.6,246.4 L73.1,246.2 L74.4,246.0 L75.4,246.1 L76.0,246.4 L76.3,246.9 L76.3,247.5 L76.3,248.3 L76.1,249.3 L75.7,250.6 L75.3,251.9 L75.0,253.1 L75.1,254.1 L75.3,255.1 L75.5,256.0 L75.4,256.8 L74.8,257.6 L73.9,258.3 L72.9,258.9 L71.9,259.4 L71.0,259.7 L70.2,260.0 L69.3,260.1 L68.4,260.3 L67.5,260.5 L66.6,260.8 L65.7,261.0 L64.9,261.2 L64.2,261.5 L63.5,261.8 L62.8,262.0 L62.2,262.0 L61.6,261.8 L61.0,261.3 L60.3,260.8 L59.6,260.3 L58.7,259.9 L57.8,259.6 L56.9,259.1 L56.1,258.5 L55.5,257.6 L55.1,256.4 L54.8,255.2 L54.6,254.0 L54.5,252.8 L54.4,251.5 L54.5,250.2Z" fill="#b9ed3b" fill-opacity="0.96"/>
<path d="M86.2,226.8 L86.6,226.2 L87.1,225.6 L87.7,225.1 L88.3,224.6 L89.0,224.2 L89.7,223.9 L90.4,223.7 L91.0,223.7 L91.5,223.9 L92.0,224.4 L92.4,224.9 L92.7,225.5 L93.0,226.1 L93.2,226.8 L93.3,227.5 L93.2,228.1 L92.9,228.7 L92.5,229.3 L92.0,229.9 L91.4,230.3 L90.7,230.6 L89.9,230.7 L89.0,230.8 L88.3,230.7 L87.7,230.4 L87.1,230.0 L86.6,229.5 L86.2,229.0 L86.0,228.5 L85.9,227.9 L86.0,227.4Z" fill="#b9ed3b" fill-opacity="0.96"/>
<path d="M81.0,247.0 L81.5,246.5 L82.1,246.3 L82.8,246.2 L83.5,246.2 L84.2,246.3 L85.0,246.6 L85.8,247.0 L86.5,247.5 L87.1,248.0 L87.7,248.6 L88.1,249.3 L88.4,250.0 L88.5,250.9 L88.5,251.8 L88.3,252.7 L88.0,253.5 L87.5,254.1 L86.9,254.5 L86.2,254.8 L85.5,255.0 L84.8,255.0 L84.0,254.8 L83.2,254.4 L82.5,254.0 L81.9,253.4 L81.4,252.7 L81.1,251.9 L80.8,251.0 L80.7,250.0 L80.6,248.9 L80.7,247.8Z" fill="#b9ed3b" fill-opacity="0.96"/>
<path d="M87.0,256.3 L87.5,256.1 L88.1,255.9 L88.9,255.9 L89.7,255.9 L90.6,255.9 L91.6,255.9 L92.5,256.1 L93.2,256.3 L93.6,256.7 L93.9,257.3 L94.1,257.9 L94.1,258.5 L94.0,259.1 L93.8,259.8 L93.5,260.5 L93.2,261.2 L93.0,261.9 L92.9,262.7 L92.7,263.3 L92.3,263.8 L91.5,264.0 L90.5,264.1 L89.6,264.0 L88.8,263.8 L88.4,263.3 L88.2,262.7 L88.1,261.9 L87.9,261.2 L87.7,260.5 L87.4,259.8 L87.2,259.1 L87.0,258.5 L86.9,257.9 L86.8,257.3 L86.8,256.7Z" fill="#b9ed3b" fill-opacity="0.96"/>
<path d="M91.4,241.7 L91.7,241.0 L92.1,240.4 L92.7,239.7 L93.2,239.1 L93.7,238.5 L94.3,237.8 L94.9,237.2 L95.4,236.5 L95.8,235.8 L96.2,235.0 L96.6,234.3 L97.1,233.8 L97.7,233.7 L98.4,233.8 L99.1,234.0 L99.8,234.3 L100.4,234.6 L100.9,235.1 L101.4,235.5 L102.0,235.6 L102.6,235.3 L103.3,234.8 L104.0,234.2 L104.6,233.8 L105.2,233.7 L105.9,233.8 L106.4,233.9 L106.8,234.3 L106.9,234.9 L106.8,235.7 L106.6,236.5 L106.4,237.3 L106.1,238.0 L105.6,238.6 L105.2,239.3 L105.0,240.0 L105.1,240.8 L105.4,241.7 L105.7,242.6 L105.9,243.5 L105.9,244.4 L105.9,245.4 L105.8,246.3 L105.5,247.0 L105.1,247.5 L104.6,247.8 L104.0,247.9 L103.3,247.9 L102.6,247.6 L101.8,247.1 L101.0,246.5 L100.2,246.1 L99.5,246.0 L98.9,246.0 L98.2,246.1 L97.6,246.1 L96.9,245.9 L96.2,245.7 L95.6,245.4 L94.9,245.2 L94.2,245.0 L93.5,244.9 L92.8,244.7 L92.3,244.4 L91.9,243.9 L91.6,243.2 L91.4,242.4Z" fill="#56b4a6" fill-opacity="0.96"/>
<path d="M38.5,268.2 L38.8,267.9 L39.2,267.6 L39.8,267.4 L40.3,267.3 L40.9,267.3 L41.6,267.3 L42.3,267.5 L42.9,267.7 L43.5,268.1 L44.0,268.5 L44.5,269.1 L44.7,269.5 L44.7,269.9 L44.6,270.3 L44.2,270.6 L43.8,270.8 L43.2,270.9 L42.3,271.0 L41.5,270.9 L40.7,270.8 L40.0,270.6 L39.4,270.2 L38.9,269.9 L38.5,269.5 L38.3,269.2 L38.3,268.8 L38.3,268.5Z" fill="#56b4a6" fill-opacity="0.96"/>
<path d="M49.5,273.9 L49.8,273.4 L50.2,272.9 L50.7,272.5 L51.3,272.1 L51.9,271.8 L52.6,271.6 L53.3,271.6 L53.9,271.7 L54.4,272.1 L54.7,272.6 L55.0,273.3 L55.2,273.9 L55.2,274.6 L55.0,275.3 L54.8,275.9 L54.8,276.5 L55.1,276.9 L55.6,277.2 L56.1,277.5 L56.5,277.8 L56.8,278.2 L57.2,278.7 L57.4,279.1 L57.4,279.5 L57.1,279.9 L56.6,280.3 L56.0,280.5 L55.5,280.5 L55.0,280.0 L54.5,279.3 L54.0,278.4 L53.5,277.8 L53.0,277.5 L52.6,277.3 L52.1,277.2 L51.7,277.0 L51.2,276.7 L50.7,276.4 L50.3,276.1 L49.9,275.7 L49.6,275.3 L49.5,274.8 L49.4,274.4Z" fill="#56b4a6" fill-opacity="0.96"/>
<path d="M59.2,271.7 L59.5,271.1 L59.9,270.4 L60.4,269.7 L60.9,269.1 L61.4,268.6 L62.0,268.2 L62.5,267.9 L63.1,267.7 L63.7,267.7 L64.3,267.9 L64.8,268.3 L65.3,268.6 L65.7,269.0 L66.0,269.4 L66.2,269.9 L66.2,270.4 L66.1,271.0 L65.8,271.6 L65.4,272.1 L64.9,272.6 L64.3,272.9 L63.6,273.2 L62.9,273.4 L62.2,273.5 L61.5,273.5 L60.8,273.4 L60.1,273.2 L59.6,273.0 L59.3,272.8 L59.1,272.5 L59.1,272.1Z" fill="#56b4a6" fill-opacity="0.96"/>
<path d="M74.1,267.3 L74.4,266.7 L74.8,265.9 L75.3,265.2 L75.9,264.7 L76.5,264.3 L77.2,264.0 L77.9,263.8 L78.5,263.8 L79.0,264.0 L79.5,264.4 L80.0,264.9 L80.3,265.5 L80.6,266.1 L80.7,266.9 L80.8,267.6 L80.7,268.2 L80.4,268.7 L80.0,269.2 L79.5,269.6 L78.9,269.9 L78.3,270.0 L77.6,270.1 L76.9,270.0 L76.3,269.9 L75.8,269.8 L75.3,269.6 L74.8,269.4 L74.5,269.1 L74.2,268.7 L74.1,268.3 L74.0,267.8Z" fill="#56b4a6" fill-opacity="0.96"/>
<path d="M39.4,281.4 L39.7,280.9 L40.2,280.4 L40.9,280.0 L41.6,279.6 L42.3,279.4 L43.1,279.2 L43.9,279.1 L44.7,279.2 L45.6,279.4 L46.6,279.7 L47.5,280.0 L48.2,280.5 L48.7,281.1 L49.0,281.8 L49.2,282.5 L49.1,283.1 L48.7,283.5 L48.0,283.7 L47.2,283.9 L46.4,284.0 L45.6,284.1 L44.6,284.1 L43.7,284.1 L42.9,284.0 L42.1,283.9 L41.4,283.7 L40.8,283.4 L40.3,283.1 L39.9,282.7 L39.5,282.3 L39.4,281.9Z" fill="#56b4a6" fill-opacity="0.96"/>
<path d="M40.3,288.4 L40.6,287.9 L41.0,287.4 L41.5,287.0 L42.0,286.6 L42.6,286.3 L43.3,286.1 L44.0,285.9 L44.7,285.8 L45.4,285.8 L46.0,286.0 L46.7,286.1 L47.3,286.2 L48.0,286.2 L48.6,286.1 L49.3,286.1 L49.9,286.2 L50.5,286.6 L51.2,287.1 L51.7,287.8 L52.1,288.4 L52.3,289.1 L52.4,289.8 L52.3,290.5 L52.1,291.0 L51.7,291.4 L51.2,291.6 L50.6,291.8 L49.9,291.9 L49.1,291.9 L48.2,291.9 L47.3,291.9 L46.4,291.9 L45.5,292.1 L44.6,292.5 L43.7,292.7 L42.9,292.8 L42.1,292.6 L41.4,292.1 L40.7,291.6 L40.3,291.0 L40.1,290.4 L40.0,289.7 L40.1,289.0Z" fill="#56b4a6" fill-opacity="0.96"/>
<path d="M86.2,269.9 L86.5,269.4 L86.9,268.9 L87.4,268.5 L87.9,268.2 L88.5,268.0 L89.2,268.0 L89.9,268.0 L90.5,268.2 L91.0,268.6 L91.5,269.1 L91.9,269.7 L92.3,270.4 L92.7,271.1 L93.0,271.9 L93.2,272.7 L93.2,273.5 L93.0,274.2 L92.5,275.0 L92.0,275.6 L91.4,276.1 L90.8,276.4 L90.1,276.6 L89.4,276.6 L88.8,276.5 L88.4,276.1 L88.1,275.5 L87.8,274.9 L87.5,274.3 L87.1,273.9 L86.8,273.5 L86.4,273.1 L86.2,272.6 L86.1,272.0 L86.0,271.2 L86.0,270.5Z" fill="#56b4a6" fill-opacity="0.96"/>
<path d="M106.4,281.4 L106.9,280.8 L107.6,280.3 L108.3,279.9 L109.0,279.6 L109.5,279.4 L110.0,279.2 L110.4,279.1 L110.8,279.2 L111.0,279.4 L111.1,279.8 L111.2,280.2 L111.6,280.5 L112.3,280.7 L113.3,280.9 L114.3,281.1 L115.1,281.4 L115.7,281.9 L116.3,282.5 L116.7,283.2 L116.9,284.0 L116.9,284.9 L116.8,285.9 L116.5,286.8 L116.0,287.5 L115.3,288.0 L114.4,288.2 L113.4,288.4 L112.5,288.4 L111.6,288.3 L110.7,288.2 L109.8,287.9 L109.0,287.5 L108.2,287.0 L107.5,286.4 L106.8,285.7 L106.4,284.9 L106.2,284.0 L106.1,283.1 L106.2,282.2Z" fill="#56b4a6" fill-opacity="0.96"/>
<path d="M100.2,291.9 L100.7,291.4 L101.4,290.8 L102.1,290.3 L102.8,290.1 L103.6,290.3 L104.4,290.7 L105.1,291.3 L105.5,291.9 L105.5,292.5 L105.3,293.0 L104.9,293.7 L104.6,294.4 L104.4,295.2 L104.2,296.1 L104.0,297.1 L103.7,297.9 L103.4,298.6 L103.0,299.3 L102.5,299.9 L102.0,300.5 L101.4,301.1 L100.7,301.6 L100.0,302.1 L99.3,302.3 L98.7,302.3 L98.0,302.0 L97.4,301.7 L96.7,301.4 L95.9,301.2 L95.0,301.0 L94.2,300.8 L93.6,300.5 L93.2,300.2 L93.0,299.8 L93.0,299.3 L93.2,298.8 L93.6,298.2 L94.3,297.6 L95.0,296.9 L95.8,296.2 L96.7,295.5 L97.7,294.8 L98.6,294.1 L99.3,293.5 L99.7,293.0 L99.8,292.6 L99.9,292.3Z" fill="#56b4a6" fill-opacity="0.96"/>
<path d="M46.4,301.4 L46.9,300.5 L47.6,299.9 L48.3,299.5 L49.1,299.2 L49.9,299.0 L50.8,298.9 L51.7,299.0 L52.6,299.2 L53.5,299.6 L54.4,300.1 L55.3,300.7 L56.1,301.4 L56.9,302.2 L57.6,303.1 L58.2,304.0 L58.7,304.9 L59.1,305.8 L59.4,306.7 L59.6,307.6 L59.6,308.5 L59.4,309.4 L59.0,310.3 L58.5,311.2 L57.8,312.0 L56.9,312.7 L55.8,313.3 L54.6,313.8 L53.5,314.2 L52.4,314.5 L51.2,314.6 L50.1,314.7 L49.1,314.6 L48.3,314.4 L47.5,314.1 L46.9,313.5 L46.4,312.8 L46.1,311.8 L46.0,310.5 L46.0,309.1 L46.0,307.6 L46.0,306.0 L46.0,304.3 L46.1,302.7Z" fill="#56b4a6" fill-opacity="0.96"/>
<path d="M70.1,306.7 L70.4,306.0 L70.8,305.3 L71.4,304.6 L71.9,304.1 L72.5,303.7 L73.2,303.4 L73.9,303.2 L74.5,303.2 L75.0,303.4 L75.6,303.8 L76.0,304.3 L76.3,304.9 L76.5,305.7 L76.5,306.7 L76.5,307.7 L76.3,308.5 L75.9,309.2 L75.4,309.8 L74.7,310.3 L74.1,310.7 L73.5,311.1 L72.7,311.4 L72.1,311.5 L71.5,311.5 L71.0,311.2 L70.6,310.6 L70.3,309.9 L70.1,309.3 L70.0,308.7 L69.9,308.0 L69.9,307.4Z" fill="#56b4a6" fill-opacity="0.96"/>
<path d="M106.8,311.1 L107.0,310.7 L107.4,310.4 L107.7,310.2 L108.1,310.2 L108.5,310.3 L108.8,310.7 L109.2,311.1 L109.4,311.5 L109.5,312.0 L109.6,312.6 L109.6,313.2 L109.4,313.7 L109.1,314.1 L108.6,314.4 L108.1,314.6 L107.7,314.6 L107.4,314.5 L107.1,314.1 L106.9,313.7 L106.8,313.3 L106.7,312.8 L106.7,312.2 L106.7,311.6Z" fill="#56b4a6" fill-opacity="0.96"/>
<path d="M129.0,301.4 L129.2,300.7 L129.6,300.0 L130.2,299.3 L130.7,298.8 L131.3,298.5 L132.0,298.3 L132.7,298.2 L133.3,298.3 L133.9,298.6 L134.6,299.1 L135.2,299.8 L135.5,300.5 L135.5,301.4 L135.4,302.4 L135.1,303.3 L134.7,304.1 L134.3,304.6 L133.7,305.1 L133.1,305.3 L132.5,305.4 L131.8,305.3 L131.1,305.0 L130.4,304.6 L129.8,304.1 L129.4,303.5 L129.1,302.8 L129.0,302.1Z" fill="#56b4a6" fill-opacity="0.96"/>
<path d="M100.3,325.8 L100.7,324.8 L101.3,324.0 L102.2,323.4 L103.2,322.9 L104.4,322.6 L105.9,322.4 L107.5,322.3 L109.0,322.2 L110.5,322.1 L112.1,322.0 L113.6,322.0 L114.9,322.2 L116.1,322.5 L117.1,323.0 L118.0,323.6 L118.5,324.4 L118.7,325.4 L118.6,326.6 L118.2,327.8 L117.8,328.8 L117.2,329.6 L116.5,330.3 L115.7,331.0 L114.9,331.7 L114.2,332.4 L113.4,333.1 L112.6,333.9 L111.9,334.6 L111.2,335.4 L110.5,336.3 L109.8,337.1 L109.0,337.5 L108.0,337.5 L106.8,337.2 L105.7,336.7 L104.6,336.1 L103.6,335.4 L102.6,334.6 L101.7,333.6 L101.0,332.4 L100.5,330.9 L100.2,329.0 L100.2,327.3Z" fill="#56b4a6" fill-opacity="0.96"/>
<path d="M128.7,327.3 L129.0,326.5 L129.5,326.1 L130.1,325.9 L130.9,325.8 L131.9,325.6 L133.0,325.5 L134.2,325.6 L135.3,325.8 L136.3,326.3 L137.3,327.1 L138.2,327.9 L138.9,328.8 L139.4,329.7 L139.7,330.6 L139.8,331.5 L139.7,332.4 L139.3,333.4 L138.6,334.4 L137.7,335.3 L136.8,336.1 L135.8,336.7 L134.6,337.2 L133.4,337.5 L132.4,337.5 L131.5,337.2 L130.7,336.6 L130.0,335.7 L129.5,334.6 L129.1,332.9 L128.8,330.9 L128.6,328.8Z" fill="#56b4a6" fill-opacity="0.96"/>
<path d="M63.6,281.4 L64.1,280.6 L64.8,279.9 L65.6,279.3 L66.6,278.7 L67.8,278.3 L69.1,277.9 L70.5,277.6 L71.9,277.4 L73.2,277.2 L74.6,277.1 L75.9,277.0 L77.2,277.0 L78.6,277.0 L80.0,277.0 L81.4,277.2 L82.5,277.4 L83.4,277.8 L84.0,278.2 L84.6,278.9 L85.3,279.6 L86.2,280.6 L87.1,281.7 L88.0,282.9 L88.8,284.0 L89.4,284.9 L90.0,285.8 L90.4,286.6 L90.5,287.5 L90.3,288.6 L89.9,289.8 L89.4,291.0 L88.8,291.9 L88.2,292.4 L87.5,292.6 L86.8,292.9 L86.2,293.5 L85.7,294.6 L85.3,296.1 L84.9,297.6 L84.4,298.8 L83.9,299.7 L83.3,300.5 L82.6,301.1 L81.8,301.4 L80.8,301.4 L79.7,301.2 L78.4,300.8 L77.2,300.5 L75.9,300.3 L74.5,300.2 L73.2,300.0 L71.9,299.7 L70.7,299.4 L69.5,299.0 L68.5,298.5 L67.5,297.9 L66.7,297.2 L66.0,296.3 L65.5,295.4 L64.9,294.4 L64.4,293.4 L63.9,292.4 L63.4,291.3 L63.1,290.1 L62.9,288.8 L62.8,287.5 L62.8,286.2 L62.8,285.0 L62.9,284.0 L63.0,283.0 L63.2,282.2Z" fill="#6cd870" fill-opacity="0.96"/>
<path d="M70.9,321.3 L71.5,320.0 L72.5,318.8 L73.5,317.7 L74.5,316.5 L75.3,315.2 L76.1,313.9 L77.0,312.7 L78.1,311.6 L79.5,310.7 L81.1,310.0 L82.8,309.4 L84.2,309.2 L85.4,309.3 L86.5,309.6 L87.3,310.2 L87.8,311.0 L87.7,312.1 L87.2,313.5 L86.6,315.0 L86.0,316.4 L85.5,317.7 L84.9,319.0 L84.4,320.2 L84.2,321.3 L84.5,322.2 L85.0,323.0 L85.6,323.9 L86.0,324.9 L86.1,326.3 L86.0,327.9 L85.8,329.5 L85.4,330.9 L84.7,332.0 L83.9,333.0 L82.9,333.8 L81.8,334.5 L80.7,335.1 L79.4,335.5 L78.1,335.8 L76.9,335.8 L75.6,335.5 L74.3,335.0 L73.0,334.3 L72.1,333.3 L71.5,332.0 L71.2,330.5 L71.0,328.9 L70.9,327.3 L70.7,325.8 L70.6,324.2 L70.6,322.7Z" fill="#6cd870" fill-opacity="0.96"/>
<path d="M95.4,311.1 L95.7,310.6 L96.3,310.1 L96.9,309.7 L97.6,309.3 L98.4,308.9 L99.3,308.5 L100.3,308.2 L101.1,308.0 L101.9,308.0 L102.7,308.2 L103.3,308.5 L103.7,308.9 L103.7,309.5 L103.5,310.4 L103.2,311.2 L102.8,312.0 L102.5,312.6 L102.1,313.2 L101.7,313.8 L101.1,314.2 L100.3,314.6 L99.4,314.8 L98.4,315.0 L97.6,315.0 L97.0,314.8 L96.5,314.3 L96.1,313.8 L95.8,313.3 L95.5,312.8 L95.3,312.2 L95.3,311.6Z" fill="#6cd870" fill-opacity="0.96"/>
<path d="M115.1,304.9 L115.6,304.0 L116.3,303.3 L117.0,302.8 L117.8,302.3 L118.6,301.8 L119.6,301.4 L120.5,301.1 L121.3,301.0 L122.0,301.1 L122.7,301.4 L123.3,301.8 L123.9,302.3 L124.4,303.1 L124.8,304.0 L125.3,305.0 L125.7,305.8 L126.2,306.3 L126.7,306.7 L127.2,307.1 L127.6,307.6 L127.9,308.4 L128.1,309.2 L128.3,310.2 L128.5,311.1 L128.7,312.0 L128.8,312.9 L128.9,313.8 L128.8,314.6 L128.5,315.4 L127.9,316.1 L127.3,316.7 L126.6,317.2 L125.8,317.6 L124.9,317.9 L124.0,318.1 L123.1,318.1 L122.2,317.9 L121.3,317.5 L120.4,317.0 L119.5,316.4 L118.6,315.8 L117.6,315.2 L116.7,314.5 L116.0,313.7 L115.4,312.9 L114.9,312.1 L114.5,311.2 L114.3,310.2 L114.3,308.9 L114.4,307.5 L114.7,306.1Z" fill="#6cd870" fill-opacity="0.96"/>
<path d="M114.3,225.9 L114.5,225.1 L114.8,224.4 L115.3,223.8 L116.0,223.3 L116.9,222.9 L118.1,222.6 L119.3,222.5 L120.4,222.4 L121.4,222.5 L122.3,222.6 L123.1,222.9 L123.9,223.3 L124.6,223.8 L125.3,224.4 L126.0,225.1 L126.6,225.9 L127.2,226.7 L127.9,227.6 L128.5,228.5 L128.8,229.4 L128.9,230.3 L128.7,231.2 L128.5,232.1 L128.3,232.9 L128.1,233.7 L128.0,234.4 L127.8,235.0 L127.5,235.6 L127.2,236.1 L126.8,236.5 L126.3,236.9 L125.7,237.3 L124.9,237.8 L124.1,238.2 L123.1,238.7 L122.2,239.1 L121.3,239.5 L120.4,239.8 L119.5,240.0 L118.7,240.0 L117.9,239.8 L117.2,239.3 L116.6,238.8 L116.0,238.2 L115.6,237.6 L115.3,236.8 L115.1,236.1 L114.7,235.6 L114.2,235.2 L113.7,235.0 L113.1,234.8 L112.5,234.7 L111.8,234.6 L111.1,234.5 L110.5,234.5 L110.3,234.3 L110.5,234.0 L111.1,233.7 L111.8,233.4 L112.5,232.9 L113.1,232.4 L113.8,231.8 L114.3,231.1 L114.7,230.3 L114.7,229.3 L114.5,228.1 L114.3,226.9Z" fill="#626ab2" fill-opacity="0.96"/>
<path d="M114.2,247.3 L115.6,246.8 L117.1,246.3 L118.7,245.9 L120.3,245.7 L122.0,245.8 L123.8,246.0 L125.5,246.4 L126.9,246.8 L128.0,247.2 L128.8,247.6 L129.5,248.2 L130.2,249.0 L130.9,250.1 L131.5,251.5 L132.0,253.0 L132.4,254.5 L132.7,255.9 L132.9,257.3 L133.0,258.7 L132.9,260.0 L132.7,261.2 L132.3,262.4 L131.9,263.5 L131.3,264.4 L130.6,265.1 L129.9,265.7 L129.0,266.2 L128.0,266.6 L126.8,267.0 L125.4,267.3 L123.9,267.5 L122.5,267.7 L121.0,267.8 L119.5,267.9 L118.1,267.9 L117.0,267.7 L116.2,267.4 L115.6,266.9 L115.2,266.3 L114.8,265.5 L114.5,264.3 L114.2,262.8 L114.0,261.3 L113.7,260.0 L113.2,259.0 L112.7,258.2 L112.1,257.5 L111.5,256.7 L110.9,255.9 L110.2,255.1 L109.6,254.3 L109.3,253.4 L109.3,252.3 L109.5,251.1 L109.9,249.9 L110.4,249.0 L111.1,248.4 L112.0,248.0 L113.0,247.7Z" fill="#626ab2" fill-opacity="0.96"/>
<path d="M130.2,247.9 L130.6,246.9 L131.5,245.7 L132.5,244.5 L133.5,243.5 L134.4,242.7 L135.2,242.1 L136.1,241.6 L136.8,241.3 L137.5,241.3 L138.0,241.4 L138.6,241.8 L139.0,242.4 L139.4,243.3 L139.8,244.5 L140.1,245.8 L140.1,246.8 L139.9,247.5 L139.4,248.1 L138.8,248.6 L137.9,249.0 L136.7,249.4 L135.2,249.8 L133.6,250.1 L132.4,250.1 L131.5,249.8 L130.8,249.3 L130.3,248.7Z" fill="#626ab2" fill-opacity="0.96"/>
<path d="M161.9,286.6 L162.3,285.9 L162.9,285.5 L163.7,285.1 L164.5,284.9 L165.4,284.7 L166.3,284.6 L167.2,284.7 L168.1,284.9 L168.9,285.3 L169.6,286.0 L170.3,286.7 L170.7,287.5 L170.9,288.3 L171.0,289.3 L170.9,290.2 L170.7,291.0 L170.3,291.7 L169.6,292.3 L168.9,292.8 L168.1,293.2 L167.2,293.5 L166.2,293.8 L165.3,293.8 L164.5,293.7 L163.9,293.3 L163.5,292.7 L163.1,291.9 L162.8,291.0 L162.4,290.0 L162.1,288.7 L161.9,287.6Z" fill="#626ab2" fill-opacity="0.96"/>
</g><g filter="url(#tsf2)">
<path d="M116.9,289.3 L117.7,288.7 L118.9,288.2 L120.1,287.7 L121.3,287.5 L122.4,287.6 L123.6,288.0 L124.7,288.4 L125.7,288.4 L126.5,287.9 L127.2,287.0 L127.8,286.2 L128.5,285.8 L129.4,286.1 L130.4,286.7 L131.3,287.6 L132.0,288.4 L132.5,289.2 L132.9,290.1 L133.0,291.0 L132.9,291.9 L132.5,292.8 L131.7,293.6 L130.8,294.4 L130.0,295.3 L129.2,296.2 L128.4,297.2 L127.5,298.1 L126.6,298.8 L125.5,299.3 L124.4,299.5 L123.3,299.7 L122.2,299.7 L121.2,299.6 L120.3,299.5 L119.5,299.2 L118.7,298.8 L118.0,298.3 L117.4,297.7 L116.9,297.0 L116.5,296.2 L116.3,295.2 L116.3,294.1 L116.4,293.0 L116.5,292.0 L116.5,291.2 L116.4,290.5 L116.5,289.9Z" fill="#56b4a6" fill-opacity="0.96"/>
<path d="M77.5,304.5 L78.1,303.9 L79.0,303.6 L80.0,303.5 L81.0,303.5 L81.9,303.7 L82.8,304.0 L83.7,304.4 L84.5,305.0 L85.4,305.7 L86.3,306.7 L87.1,307.6 L87.5,308.5 L87.5,309.4 L87.2,310.2 L86.7,311.0 L86.0,311.5 L85.2,311.7 L84.1,311.8 L83.0,311.7 L82.0,311.5 L81.0,311.3 L80.1,311.1 L79.2,310.7 L78.5,310.0 L78.0,308.8 L77.6,307.2 L77.4,305.7Z" fill="#6cd870" fill-opacity="0.96"/>
<path d="M84.5,326.0 L85.0,325.0 L85.9,324.3 L86.9,323.8 L88.0,323.5 L89.1,323.3 L90.4,323.3 L91.6,323.6 L92.5,324.0 L93.0,324.8 L93.2,325.8 L93.2,327.0 L93.0,328.0 L92.5,328.9 L91.8,329.7 L90.9,330.4 L90.0,331.0 L89.0,331.7 L87.9,332.3 L86.8,332.7 L86.0,332.5 L85.3,331.3 L84.8,329.5 L84.5,327.5Z" fill="#6cd870" fill-opacity="0.96"/>
<path d="M94.9,281.4 L95.4,280.5 L96.1,279.5 L96.8,278.6 L97.6,277.8 L98.4,277.2 L99.3,276.8 L100.2,276.5 L101.1,276.1 L102.0,275.7 L102.8,275.3 L103.7,275.0 L104.6,274.8 L105.5,274.7 L106.5,274.8 L107.4,275.0 L108.1,275.2 L108.6,275.6 L108.9,276.0 L109.1,276.5 L109.0,277.0 L108.6,277.4 L107.9,277.8 L107.1,278.2 L106.4,278.7 L105.7,279.3 L105.0,279.9 L104.3,280.6 L103.7,281.4 L103.2,282.2 L102.8,283.1 L102.4,284.0 L102.0,284.9 L101.6,285.8 L101.2,286.8 L100.7,287.7 L100.2,288.4 L99.6,288.9 L98.9,289.2 L98.2,289.4 L97.6,289.3 L97.0,288.9 L96.4,288.2 L95.8,287.4 L95.4,286.6 L95.1,285.9 L94.8,285.3 L94.6,284.6 L94.5,284.0 L94.5,283.4 L94.5,282.8 L94.6,282.1Z" fill="#6cd870" fill-opacity="0.96"/>
<path d="M106.4,297.0 L106.7,296.2 L107.1,295.5 L107.6,294.9 L108.1,294.4 L108.7,294.0 L109.4,293.6 L110.1,293.4 L110.8,293.5 L111.5,294.1 L112.2,295.0 L112.9,296.1 L113.4,297.0 L113.8,297.7 L114.2,298.4 L114.4,299.0 L114.3,299.7 L113.9,300.5 L113.1,301.5 L112.3,302.4 L111.6,303.2 L111.1,303.9 L110.7,304.6 L110.3,305.2 L109.9,305.8 L109.5,306.4 L109.0,307.0 L108.5,307.5 L108.1,307.6 L107.6,307.3 L107.1,306.6 L106.7,305.8 L106.4,304.9 L106.3,303.9 L106.3,302.8 L106.4,301.6 L106.4,300.5 L106.4,299.5 L106.3,298.6 L106.3,297.8Z" fill="#6cd870" fill-opacity="0.96"/>
<path d="M97.2,263.3 L97.5,262.4 L98.0,261.6 L98.6,260.8 L99.4,260.0 L100.4,259.2 L101.6,258.4 L102.8,257.5 L103.8,256.7 L104.5,255.8 L105.0,254.8 L105.4,253.9 L106.0,253.4 L106.7,253.2 L107.6,253.3 L108.4,253.7 L109.3,254.5 L110.2,255.8 L111.1,257.6 L111.9,259.5 L112.6,261.1 L113.1,262.4 L113.5,263.4 L113.7,264.5 L113.7,265.5 L113.5,266.7 L113.0,267.9 L112.4,269.0 L111.5,269.9 L110.4,270.5 L109.0,270.8 L107.5,271.0 L106.0,271.0 L104.6,270.9 L103.1,270.7 L101.7,270.3 L100.5,269.9 L99.4,269.5 L98.5,269.0 L97.7,268.4 L97.2,267.7 L96.9,266.7 L96.9,265.6 L97.0,264.4Z" fill="#626ab2" fill-opacity="0.96"/>
<path d="M114.8,271.0 L115.5,270.5 L116.5,270.1 L117.8,270.0 L119.2,269.9 L120.7,269.9 L122.4,270.1 L124.2,270.3 L125.8,270.4 L127.3,270.3 L128.7,270.1 L130.0,269.9 L131.3,269.9 L132.5,270.0 L133.7,270.2 L134.8,270.5 L135.7,271.0 L136.3,271.6 L136.8,272.4 L137.1,273.3 L137.3,274.3 L137.4,275.3 L137.4,276.5 L137.2,277.7 L136.8,278.7 L136.2,279.6 L135.4,280.5 L134.5,281.3 L133.5,282.0 L132.5,282.7 L131.4,283.4 L130.2,283.9 L129.1,284.2 L128.0,284.2 L126.8,284.0 L125.7,283.6 L124.7,283.1 L123.8,282.4 L122.9,281.5 L122.1,280.6 L121.4,279.8 L120.8,279.2 L120.3,278.6 L119.8,278.1 L119.2,277.6 L118.4,277.1 L117.5,276.6 L116.6,276.1 L115.9,275.4 L115.3,274.4 L114.9,273.1 L114.6,271.9Z" fill="#626ab2" fill-opacity="0.96"/>
<path d="M147.4,253.1 L147.9,252.3 L148.4,251.8 L149.0,251.4 L149.6,251.0 L150.2,250.6 L150.8,250.3 L151.5,250.1 L152.2,250.1 L152.9,250.2 L153.7,250.5 L154.5,250.9 L155.3,251.4 L156.0,251.9 L156.8,252.6 L157.4,253.3 L158.0,254.0 L158.4,254.7 L158.7,255.5 L158.9,256.3 L159.3,257.1 L159.9,257.9 L160.5,258.7 L161.2,259.5 L161.9,260.3 L162.6,261.1 L163.4,262.0 L164.1,262.9 L164.5,263.8 L164.6,264.9 L164.5,266.1 L164.2,267.2 L163.7,268.2 L163.0,269.0 L162.0,269.7 L161.0,270.2 L160.1,270.8 L159.3,271.3 L158.5,271.7 L157.8,272.1 L157.5,272.6 L157.7,273.2 L158.4,273.9 L159.0,274.6 L159.3,275.2 L159.2,275.7 L158.8,276.0 L158.2,276.3 L157.5,276.5 L156.6,276.5 L155.4,276.4 L154.2,276.3 L153.1,276.1 L152.2,275.9 L151.4,275.7 L150.6,275.4 L149.6,275.2 L148.4,275.0 L147.0,274.8 L145.5,274.6 L144.3,274.3 L143.2,274.0 L142.3,273.6 L141.5,273.2 L140.8,272.6 L140.3,271.9 L139.9,271.0 L139.6,270.0 L139.5,269.1 L139.6,268.2 L139.9,267.3 L140.3,266.4 L140.8,265.5 L141.4,264.6 L142.1,263.7 L142.8,262.9 L143.5,262.0 L144.2,261.2 L144.9,260.4 L145.5,259.5 L146.1,258.5 L146.5,257.2 L146.8,255.7 L147.0,254.3Z" fill="#626ab2" fill-opacity="0.96"/>
<path d="M142.6,281.4 L142.8,280.9 L143.0,280.5 L143.2,280.2 L143.5,280.0 L143.9,279.9 L144.3,280.0 L144.7,280.2 L145.2,280.5 L145.6,281.0 L146.0,281.6 L146.5,282.3 L147.0,283.1 L147.6,283.9 L148.3,284.8 L149.0,285.7 L149.6,286.6 L150.1,287.5 L150.6,288.4 L151.1,289.2 L151.4,290.1 L151.6,291.0 L151.8,291.9 L151.9,292.7 L151.8,293.5 L151.7,294.2 L151.5,294.8 L151.1,295.3 L150.5,295.7 L149.6,295.9 L148.4,296.1 L147.2,296.1 L146.1,296.2 L145.2,296.3 L144.3,296.5 L143.4,296.6 L142.6,296.6 L141.8,296.6 L140.9,296.6 L140.1,296.5 L139.5,296.2 L139.0,295.7 L138.7,295.0 L138.4,294.3 L138.2,293.5 L138.0,292.7 L138.0,291.9 L138.0,291.0 L138.2,290.1 L138.7,289.2 L139.4,288.3 L140.2,287.4 L140.8,286.6 L141.2,285.9 L141.6,285.2 L141.9,284.6 L142.1,284.0 L142.3,283.3 L142.4,282.6 L142.5,282.0Z" fill="#626ab2" fill-opacity="0.96"/>
<path d="M143.5,304.9 L143.7,304.3 L143.8,303.8 L144.0,303.5 L144.3,303.2 L144.9,303.1 L145.6,303.0 L146.4,303.1 L147.0,303.2 L147.5,303.4 L147.9,303.7 L148.3,304.0 L148.7,304.5 L149.1,305.1 L149.6,305.9 L150.1,306.8 L150.5,307.6 L150.9,308.5 L151.3,309.4 L151.7,310.3 L152.2,311.1 L152.9,311.6 L153.7,312.0 L154.4,312.3 L154.9,312.8 L155.2,313.5 L155.3,314.2 L155.2,315.0 L154.9,315.5 L154.3,315.8 L153.4,315.8 L152.4,315.8 L151.4,315.9 L150.5,316.1 L149.5,316.3 L148.6,316.4 L147.8,316.4 L147.1,316.1 L146.5,315.7 L145.9,315.2 L145.2,314.6 L144.3,313.9 L143.2,313.1 L142.3,312.3 L141.7,311.5 L141.6,310.8 L141.9,310.0 L142.3,309.3 L142.6,308.5 L142.8,307.6 L143.1,306.6 L143.3,305.7Z" fill="#626ab2" fill-opacity="0.96"/>
</g><g>
<circle cx="66.9" cy="225.3" r="0.45" fill="#b9ed3b" fill-opacity="0.8"/>
<circle cx="68.2" cy="223.8" r="0.45" fill="#b9ed3b" fill-opacity="0.8"/>
<circle cx="69.5" cy="223.2" r="0.45" fill="#b9ed3b" fill-opacity="0.8"/>
<circle cx="72.9" cy="223.5" r="0.45" fill="#b9ed3b" fill-opacity="0.8"/>
<circle cx="75.1" cy="223.8" r="0.45" fill="#b9ed3b" fill-opacity="0.8"/>
<circle cx="77.0" cy="224.5" r="0.45" fill="#b9ed3b" fill-opacity="0.8"/>
<circle cx="77.5" cy="226.0" r="0.45" fill="#b9ed3b" fill-opacity="0.8"/>
<circle cx="79.5" cy="227.2" r="0.45" fill="#b9ed3b" fill-opacity="0.8"/>
<circle cx="78.4" cy="227.5" r="0.45" fill="#b9ed3b" fill-opacity="0.8"/>
<circle cx="79.0" cy="230.1" r="0.45" fill="#b9ed3b" fill-opacity="0.8"/>
<circle cx="80.0" cy="232.1" r="0.45" fill="#b9ed3b" fill-opacity="0.8"/>
<circle cx="81.1" cy="233.0" r="0.45" fill="#b9ed3b" fill-opacity="0.8"/>
<circle cx="81.8" cy="234.5" r="0.45" fill="#b9ed3b" fill-opacity="0.8"/>
<circle cx="80.7" cy="235.8" r="0.45" fill="#b9ed3b" fill-opacity="0.8"/>
<circle cx="80.6" cy="236.3" r="0.45" fill="#b9ed3b" fill-opacity="0.8"/>
<circle cx="79.6" cy="237.2" r="0.45" fill="#b9ed3b" fill-opacity="0.8"/>
<circle cx="79.6" cy="239.9" r="0.45" fill="#b9ed3b" fill-opacity="0.8"/>
<circle cx="80.0" cy="242.1" r="0.45" fill="#b9ed3b" fill-opacity="0.8"/>
<circle cx="79.1" cy="242.9" r="0.45" fill="#b9ed3b" fill-opacity="0.8"/>
<circle cx="78.5" cy="245.4" r="0.45" fill="#b9ed3b" fill-opacity="0.8"/>
<circle cx="77.6" cy="245.3" r="0.45" fill="#b9ed3b" fill-opacity="0.8"/>
<circle cx="77.5" cy="244.2" r="0.45" fill="#b9ed3b" fill-opacity="0.8"/>
<circle cx="76.3" cy="245.2" r="0.45" fill="#b9ed3b" fill-opacity="0.8"/>
<circle cx="74.2" cy="243.0" r="0.45" fill="#b9ed3b" fill-opacity="0.8"/>
<circle cx="74.4" cy="241.2" r="0.45" fill="#b9ed3b" fill-opacity="0.8"/>
<circle cx="73.9" cy="240.4" r="0.45" fill="#b9ed3b" fill-opacity="0.8"/>
<circle cx="71.9" cy="239.6" r="0.45" fill="#b9ed3b" fill-opacity="0.8"/>
<circle cx="72.3" cy="237.9" r="0.45" fill="#b9ed3b" fill-opacity="0.8"/>
<circle cx="71.9" cy="235.8" r="0.45" fill="#b9ed3b" fill-opacity="0.8"/>
<circle cx="70.0" cy="233.4" r="0.45" fill="#b9ed3b" fill-opacity="0.8"/>
<circle cx="69.2" cy="232.5" r="0.45" fill="#b9ed3b" fill-opacity="0.8"/>
<circle cx="67.6" cy="230.9" r="0.45" fill="#b9ed3b" fill-opacity="0.8"/>
<circle cx="66.5" cy="230.0" r="0.45" fill="#b9ed3b" fill-opacity="0.8"/>
<circle cx="67.6" cy="227.3" r="0.45" fill="#b9ed3b" fill-opacity="0.8"/>
<circle cx="65.9" cy="226.9" r="0.45" fill="#b9ed3b" fill-opacity="0.8"/>
<circle cx="67.6" cy="226.1" r="0.45" fill="#b9ed3b" fill-opacity="0.8"/>
<circle cx="62.9" cy="219.5" r="0.4" fill="#b9ed3b" fill-opacity="0.8"/>
<circle cx="71.9" cy="221.6" r="0.4" fill="#b9ed3b" fill-opacity="0.8"/>
<circle cx="74.3" cy="226.6" r="0.4" fill="#b9ed3b" fill-opacity="0.8"/>
<circle cx="81.7" cy="228.0" r="0.4" fill="#b9ed3b" fill-opacity="0.8"/>
<circle cx="80.3" cy="233.1" r="0.4" fill="#b9ed3b" fill-opacity="0.8"/>
<circle cx="85.0" cy="236.0" r="0.4" fill="#b9ed3b" fill-opacity="0.8"/>
<circle cx="81.1" cy="238.9" r="0.4" fill="#b9ed3b" fill-opacity="0.8"/>
<circle cx="76.1" cy="245.6" r="0.4" fill="#b9ed3b" fill-opacity="0.8"/>
<circle cx="80.2" cy="246.4" r="0.4" fill="#b9ed3b" fill-opacity="0.8"/>
<circle cx="71.5" cy="242.5" r="0.4" fill="#b9ed3b" fill-opacity="0.8"/>
<circle cx="75.5" cy="236.5" r="0.4" fill="#b9ed3b" fill-opacity="0.8"/>
<circle cx="71.1" cy="238.7" r="0.4" fill="#b9ed3b" fill-opacity="0.8"/>
<circle cx="65.9" cy="236.4" r="0.4" fill="#b9ed3b" fill-opacity="0.8"/>
<circle cx="68.1" cy="229.1" r="0.4" fill="#b9ed3b" fill-opacity="0.8"/>
<circle cx="67.5" cy="227.2" r="0.4" fill="#b9ed3b" fill-opacity="0.8"/>
<circle cx="52.2" cy="237.6" r="0.45" fill="#b9ed3b" fill-opacity="0.8"/>
<circle cx="52.3" cy="235.5" r="0.45" fill="#b9ed3b" fill-opacity="0.8"/>
<circle cx="54.1" cy="235.1" r="0.45" fill="#b9ed3b" fill-opacity="0.8"/>
<circle cx="54.1" cy="235.3" r="0.45" fill="#b9ed3b" fill-opacity="0.8"/>
<circle cx="56.6" cy="234.4" r="0.45" fill="#b9ed3b" fill-opacity="0.8"/>
<circle cx="55.8" cy="235.1" r="0.45" fill="#b9ed3b" fill-opacity="0.8"/>
<circle cx="57.3" cy="235.8" r="0.45" fill="#b9ed3b" fill-opacity="0.8"/>
<circle cx="58.7" cy="236.7" r="0.45" fill="#b9ed3b" fill-opacity="0.8"/>
<circle cx="58.8" cy="237.9" r="0.45" fill="#b9ed3b" fill-opacity="0.8"/>
<circle cx="57.2" cy="240.2" r="0.45" fill="#b9ed3b" fill-opacity="0.8"/>
<circle cx="57.7" cy="241.3" r="0.45" fill="#b9ed3b" fill-opacity="0.8"/>
<circle cx="56.2" cy="241.7" r="0.45" fill="#b9ed3b" fill-opacity="0.8"/>
<circle cx="54.9" cy="242.5" r="0.45" fill="#b9ed3b" fill-opacity="0.8"/>
<circle cx="53.7" cy="243.0" r="0.45" fill="#b9ed3b" fill-opacity="0.8"/>
<circle cx="53.3" cy="243.0" r="0.45" fill="#b9ed3b" fill-opacity="0.8"/>
<circle cx="52.9" cy="242.5" r="0.45" fill="#b9ed3b" fill-opacity="0.8"/>
<circle cx="53.3" cy="241.0" r="0.45" fill="#b9ed3b" fill-opacity="0.8"/>
<circle cx="51.7" cy="238.6" r="0.45" fill="#b9ed3b" fill-opacity="0.8"/>
<circle cx="52.1" cy="238.9" r="0.4" fill="#b9ed3b" fill-opacity="0.8"/>
<circle cx="53.3" cy="235.7" r="0.4" fill="#b9ed3b" fill-opacity="0.8"/>
<circle cx="60.7" cy="229.5" r="0.4" fill="#b9ed3b" fill-opacity="0.8"/>
<circle cx="55.5" cy="238.6" r="0.4" fill="#b9ed3b" fill-opacity="0.8"/>
<circle cx="57.9" cy="241.3" r="0.4" fill="#b9ed3b" fill-opacity="0.8"/>
<circle cx="53.4" cy="244.0" r="0.4" fill="#b9ed3b" fill-opacity="0.8"/>
<circle cx="53.1" cy="241.0" r="0.4" fill="#b9ed3b" fill-opacity="0.8"/>
<circle cx="57.3" cy="238.5" r="0.4" fill="#b9ed3b" fill-opacity="0.8"/>
<circle cx="54.5" cy="249.1" r="0.45" fill="#b9ed3b" fill-opacity="0.8"/>
<circle cx="56.1" cy="247.8" r="0.45" fill="#b9ed3b" fill-opacity="0.8"/>
<circle cx="56.7" cy="246.7" r="0.45" fill="#b9ed3b" fill-opacity="0.8"/>
<circle cx="61.6" cy="246.2" r="0.45" fill="#b9ed3b" fill-opacity="0.8"/>
<circle cx="64.0" cy="247.6" r="0.45" fill="#b9ed3b" fill-opacity="0.8"/>
<circle cx="67.6" cy="247.7" r="0.45" fill="#b9ed3b" fill-opacity="0.8"/>
<circle cx="69.1" cy="246.4" r="0.45" fill="#b9ed3b" fill-opacity="0.8"/>
<circle cx="72.9" cy="246.6" r="0.45" fill="#b9ed3b" fill-opacity="0.8"/>
<circle cx="76.1" cy="244.5" r="0.45" fill="#b9ed3b" fill-opacity="0.8"/>
<circle cx="76.9" cy="246.0" r="0.45" fill="#b9ed3b" fill-opacity="0.8"/>
<circle cx="76.7" cy="247.4" r="0.45" fill="#b9ed3b" fill-opacity="0.8"/>
<circle cx="75.8" cy="251.3" r="0.45" fill="#b9ed3b" fill-opacity="0.8"/>
<circle cx="74.9" cy="253.2" r="0.45" fill="#b9ed3b" fill-opacity="0.8"/>
<circle cx="75.8" cy="255.2" r="0.45" fill="#b9ed3b" fill-opacity="0.8"/>
<circle cx="75.3" cy="257.7" r="0.45" fill="#b9ed3b" fill-opacity="0.8"/>
<circle cx="74.5" cy="258.1" r="0.45" fill="#b9ed3b" fill-opacity="0.8"/>
<circle cx="73.5" cy="258.7" r="0.45" fill="#b9ed3b" fill-opacity="0.8"/>
<circle cx="70.7" cy="259.8" r="0.45" fill="#b9ed3b" fill-opacity="0.8"/>
<circle cx="68.5" cy="260.7" r="0.45" fill="#b9ed3b" fill-opacity="0.8"/>
<circle cx="66.7" cy="261.1" r="0.45" fill="#b9ed3b" fill-opacity="0.8"/>
<circle cx="64.0" cy="260.3" r="0.45" fill="#b9ed3b" fill-opacity="0.8"/>
<circle cx="63.9" cy="261.2" r="0.45" fill="#b9ed3b" fill-opacity="0.8"/>
<circle cx="61.6" cy="261.1" r="0.45" fill="#b9ed3b" fill-opacity="0.8"/>
<circle cx="61.7" cy="261.8" r="0.45" fill="#b9ed3b" fill-opacity="0.8"/>
<circle cx="60.5" cy="259.7" r="0.45" fill="#b9ed3b" fill-opacity="0.8"/>
<circle cx="57.8" cy="258.9" r="0.45" fill="#b9ed3b" fill-opacity="0.8"/>
<circle cx="56.6" cy="259.5" r="0.45" fill="#b9ed3b" fill-opacity="0.8"/>
<circle cx="54.6" cy="257.4" r="0.45" fill="#b9ed3b" fill-opacity="0.8"/>
<circle cx="55.2" cy="253.9" r="0.45" fill="#b9ed3b" fill-opacity="0.8"/>
<circle cx="53.2" cy="252.3" r="0.45" fill="#b9ed3b" fill-opacity="0.8"/>
<circle cx="54.6" cy="247.9" r="0.4" fill="#b9ed3b" fill-opacity="0.8"/>
<circle cx="60.4" cy="247.8" r="0.4" fill="#b9ed3b" fill-opacity="0.8"/>
<circle cx="70.4" cy="244.6" r="0.4" fill="#b9ed3b" fill-opacity="0.8"/>
<circle cx="76.9" cy="249.3" r="0.4" fill="#b9ed3b" fill-opacity="0.8"/>
<circle cx="79.5" cy="247.9" r="0.4" fill="#b9ed3b" fill-opacity="0.8"/>
<circle cx="73.4" cy="256.4" r="0.4" fill="#b9ed3b" fill-opacity="0.8"/>
<circle cx="74.1" cy="258.5" r="0.4" fill="#b9ed3b" fill-opacity="0.8"/>
<circle cx="72.4" cy="259.5" r="0.4" fill="#b9ed3b" fill-opacity="0.8"/>
<circle cx="59.8" cy="260.3" r="0.4" fill="#b9ed3b" fill-opacity="0.8"/>
<circle cx="57.5" cy="263.6" r="0.4" fill="#b9ed3b" fill-opacity="0.8"/>
<circle cx="58.5" cy="258.2" r="0.4" fill="#b9ed3b" fill-opacity="0.8"/>
<circle cx="54.8" cy="257.0" r="0.4" fill="#b9ed3b" fill-opacity="0.8"/>
<circle cx="86.2" cy="227.6" r="0.45" fill="#b9ed3b" fill-opacity="0.8"/>
<circle cx="87.0" cy="226.2" r="0.45" fill="#b9ed3b" fill-opacity="0.8"/>
<circle cx="89.2" cy="225.6" r="0.45" fill="#b9ed3b" fill-opacity="0.8"/>
<circle cx="89.3" cy="224.4" r="0.45" fill="#b9ed3b" fill-opacity="0.8"/>
<circle cx="89.9" cy="223.0" r="0.45" fill="#b9ed3b" fill-opacity="0.8"/>
<circle cx="90.8" cy="225.0" r="0.45" fill="#b9ed3b" fill-opacity="0.8"/>
<circle cx="92.0" cy="225.5" r="0.45" fill="#b9ed3b" fill-opacity="0.8"/>
<circle cx="93.1" cy="226.8" r="0.45" fill="#b9ed3b" fill-opacity="0.8"/>
<circle cx="92.8" cy="228.2" r="0.45" fill="#b9ed3b" fill-opacity="0.8"/>
<circle cx="93.6" cy="229.4" r="0.45" fill="#b9ed3b" fill-opacity="0.8"/>
<circle cx="91.7" cy="230.9" r="0.45" fill="#b9ed3b" fill-opacity="0.8"/>
<circle cx="89.7" cy="230.0" r="0.45" fill="#b9ed3b" fill-opacity="0.8"/>
<circle cx="88.0" cy="231.3" r="0.45" fill="#b9ed3b" fill-opacity="0.8"/>
<circle cx="86.1" cy="229.7" r="0.45" fill="#b9ed3b" fill-opacity="0.8"/>
<circle cx="86.8" cy="229.5" r="0.45" fill="#b9ed3b" fill-opacity="0.8"/>
<circle cx="85.9" cy="228.4" r="0.45" fill="#b9ed3b" fill-opacity="0.8"/>
<circle cx="86.6" cy="224.2" r="0.4" fill="#b9ed3b" fill-opacity="0.8"/>
<circle cx="85.5" cy="222.8" r="0.4" fill="#b9ed3b" fill-opacity="0.8"/>
<circle cx="94.0" cy="223.1" r="0.4" fill="#b9ed3b" fill-opacity="0.8"/>
<circle cx="91.3" cy="225.8" r="0.4" fill="#b9ed3b" fill-opacity="0.8"/>
<circle cx="88.0" cy="230.0" r="0.4" fill="#b9ed3b" fill-opacity="0.8"/>
<circle cx="85.1" cy="231.2" r="0.4" fill="#b9ed3b" fill-opacity="0.8"/>
<circle cx="80.7" cy="228.7" r="0.4" fill="#b9ed3b" fill-opacity="0.8"/>
<circle cx="80.6" cy="245.8" r="0.45" fill="#b9ed3b" fill-opacity="0.8"/>
<circle cx="82.5" cy="246.1" r="0.45" fill="#b9ed3b" fill-opacity="0.8"/>
<circle cx="82.2" cy="245.7" r="0.45" fill="#b9ed3b" fill-opacity="0.8"/>
<circle cx="85.2" cy="246.4" r="0.45" fill="#b9ed3b" fill-opacity="0.8"/>
<circle cx="87.0" cy="247.9" r="0.45" fill="#b9ed3b" fill-opacity="0.8"/>
<circle cx="88.1" cy="248.8" r="0.45" fill="#b9ed3b" fill-opacity="0.8"/>
<circle cx="89.2" cy="250.4" r="0.45" fill="#b9ed3b" fill-opacity="0.8"/>
<circle cx="88.7" cy="250.6" r="0.45" fill="#b9ed3b" fill-opacity="0.8"/>
<circle cx="88.5" cy="254.3" r="0.45" fill="#b9ed3b" fill-opacity="0.8"/>
<circle cx="86.7" cy="254.2" r="0.45" fill="#b9ed3b" fill-opacity="0.8"/>
<circle cx="86.7" cy="253.9" r="0.45" fill="#b9ed3b" fill-opacity="0.8"/>
<circle cx="84.2" cy="256.2" r="0.45" fill="#b9ed3b" fill-opacity="0.8"/>
<circle cx="81.9" cy="254.4" r="0.45" fill="#b9ed3b" fill-opacity="0.8"/>
<circle cx="82.6" cy="252.6" r="0.45" fill="#b9ed3b" fill-opacity="0.8"/>
<circle cx="81.1" cy="251.5" r="0.45" fill="#b9ed3b" fill-opacity="0.8"/>
<circle cx="80.1" cy="248.8" r="0.45" fill="#b9ed3b" fill-opacity="0.8"/>
<circle cx="81.6" cy="248.8" r="0.4" fill="#b9ed3b" fill-opacity="0.8"/>
<circle cx="84.2" cy="245.9" r="0.4" fill="#b9ed3b" fill-opacity="0.8"/>
<circle cx="85.4" cy="247.8" r="0.4" fill="#b9ed3b" fill-opacity="0.8"/>
<circle cx="90.3" cy="253.0" r="0.4" fill="#b9ed3b" fill-opacity="0.8"/>
<circle cx="83.6" cy="253.1" r="0.4" fill="#b9ed3b" fill-opacity="0.8"/>
<circle cx="87.8" cy="255.9" r="0.4" fill="#b9ed3b" fill-opacity="0.8"/>
<circle cx="82.0" cy="243.2" r="0.4" fill="#b9ed3b" fill-opacity="0.8"/>
<circle cx="87.4" cy="256.6" r="0.45" fill="#b9ed3b" fill-opacity="0.8"/>
<circle cx="89.1" cy="256.2" r="0.45" fill="#b9ed3b" fill-opacity="0.8"/>
<circle cx="89.7" cy="256.2" r="0.45" fill="#b9ed3b" fill-opacity="0.8"/>
<circle cx="90.4" cy="256.6" r="0.45" fill="#b9ed3b" fill-opacity="0.8"/>
<circle cx="93.4" cy="255.9" r="0.45" fill="#b9ed3b" fill-opacity="0.8"/>
<circle cx="94.7" cy="258.3" r="0.45" fill="#b9ed3b" fill-opacity="0.8"/>
<circle cx="93.3" cy="258.1" r="0.45" fill="#b9ed3b" fill-opacity="0.8"/>
<circle cx="93.9" cy="259.9" r="0.45" fill="#b9ed3b" fill-opacity="0.8"/>
<circle cx="93.0" cy="260.6" r="0.45" fill="#b9ed3b" fill-opacity="0.8"/>
<circle cx="94.2" cy="263.3" r="0.45" fill="#b9ed3b" fill-opacity="0.8"/>
<circle cx="91.6" cy="263.0" r="0.45" fill="#b9ed3b" fill-opacity="0.8"/>
<circle cx="91.6" cy="264.7" r="0.45" fill="#b9ed3b" fill-opacity="0.8"/>
<circle cx="89.9" cy="264.3" r="0.45" fill="#b9ed3b" fill-opacity="0.8"/>
<circle cx="87.7" cy="262.8" r="0.45" fill="#b9ed3b" fill-opacity="0.8"/>
<circle cx="86.6" cy="260.8" r="0.45" fill="#b9ed3b" fill-opacity="0.8"/>
<circle cx="87.4" cy="260.1" r="0.45" fill="#b9ed3b" fill-opacity="0.8"/>
<circle cx="86.6" cy="258.4" r="0.45" fill="#b9ed3b" fill-opacity="0.8"/>
<circle cx="87.1" cy="257.5" r="0.45" fill="#b9ed3b" fill-opacity="0.8"/>
<circle cx="88.4" cy="256.8" r="0.4" fill="#b9ed3b" fill-opacity="0.8"/>
<circle cx="89.9" cy="257.6" r="0.4" fill="#b9ed3b" fill-opacity="0.8"/>
<circle cx="94.0" cy="255.4" r="0.4" fill="#b9ed3b" fill-opacity="0.8"/>
<circle cx="92.1" cy="260.5" r="0.4" fill="#b9ed3b" fill-opacity="0.8"/>
<circle cx="92.1" cy="264.1" r="0.4" fill="#b9ed3b" fill-opacity="0.8"/>
<circle cx="88.4" cy="263.7" r="0.4" fill="#b9ed3b" fill-opacity="0.8"/>
<circle cx="87.1" cy="257.1" r="0.4" fill="#b9ed3b" fill-opacity="0.8"/>
<circle cx="87.7" cy="259.0" r="0.4" fill="#b9ed3b" fill-opacity="0.8"/>
<circle cx="91.7" cy="241.6" r="0.45" fill="#56b4a6" fill-opacity="0.8"/>
<circle cx="92.4" cy="239.8" r="0.45" fill="#56b4a6" fill-opacity="0.8"/>
<circle cx="92.1" cy="239.1" r="0.45" fill="#56b4a6" fill-opacity="0.8"/>
<circle cx="93.7" cy="238.3" r="0.45" fill="#56b4a6" fill-opacity="0.8"/>
<circle cx="94.7" cy="234.9" r="0.45" fill="#56b4a6" fill-opacity="0.8"/>
<circle cx="95.6" cy="235.9" r="0.45" fill="#56b4a6" fill-opacity="0.8"/>
<circle cx="96.9" cy="233.0" r="0.45" fill="#56b4a6" fill-opacity="0.8"/>
<circle cx="98.0" cy="234.1" r="0.45" fill="#56b4a6" fill-opacity="0.8"/>
<circle cx="100.1" cy="234.4" r="0.45" fill="#56b4a6" fill-opacity="0.8"/>
<circle cx="101.8" cy="235.5" r="0.45" fill="#56b4a6" fill-opacity="0.8"/>
<circle cx="102.0" cy="236.0" r="0.45" fill="#56b4a6" fill-opacity="0.8"/>
<circle cx="104.3" cy="235.3" r="0.45" fill="#56b4a6" fill-opacity="0.8"/>
<circle cx="105.2" cy="233.2" r="0.45" fill="#56b4a6" fill-opacity="0.8"/>
<circle cx="105.8" cy="234.2" r="0.45" fill="#56b4a6" fill-opacity="0.8"/>
<circle cx="106.6" cy="234.9" r="0.45" fill="#56b4a6" fill-opacity="0.8"/>
<circle cx="107.2" cy="236.2" r="0.45" fill="#56b4a6" fill-opacity="0.8"/>
<circle cx="106.3" cy="238.8" r="0.45" fill="#56b4a6" fill-opacity="0.8"/>
<circle cx="106.4" cy="238.5" r="0.45" fill="#56b4a6" fill-opacity="0.8"/>
<circle cx="105.1" cy="241.6" r="0.45" fill="#56b4a6" fill-opacity="0.8"/>
<circle cx="105.2" cy="242.2" r="0.45" fill="#56b4a6" fill-opacity="0.8"/>
<circle cx="106.5" cy="243.5" r="0.45" fill="#56b4a6" fill-opacity="0.8"/>
<circle cx="105.2" cy="245.5" r="0.45" fill="#56b4a6" fill-opacity="0.8"/>
<circle cx="105.7" cy="247.7" r="0.45" fill="#56b4a6" fill-opacity="0.8"/>
<circle cx="105.0" cy="247.8" r="0.45" fill="#56b4a6" fill-opacity="0.8"/>
<circle cx="103.8" cy="248.2" r="0.45" fill="#56b4a6" fill-opacity="0.8"/>
<circle cx="101.9" cy="247.1" r="0.45" fill="#56b4a6" fill-opacity="0.8"/>
<circle cx="100.1" cy="246.5" r="0.45" fill="#56b4a6" fill-opacity="0.8"/>
<circle cx="98.2" cy="245.7" r="0.45" fill="#56b4a6" fill-opacity="0.8"/>
<circle cx="97.6" cy="245.2" r="0.45" fill="#56b4a6" fill-opacity="0.8"/>
<circle cx="96.0" cy="244.5" r="0.45" fill="#56b4a6" fill-opacity="0.8"/>
<circle cx="94.5" cy="245.5" r="0.45" fill="#56b4a6" fill-opacity="0.8"/>
<circle cx="93.8" cy="244.9" r="0.45" fill="#56b4a6" fill-opacity="0.8"/>
<circle cx="92.2" cy="243.5" r="0.45" fill="#56b4a6" fill-opacity="0.8"/>
<circle cx="92.7" cy="243.5" r="0.45" fill="#56b4a6" fill-opacity="0.8"/>
<circle cx="93.8" cy="239.8" r="0.4" fill="#56b4a6" fill-opacity="0.8"/>
<circle cx="93.3" cy="234.4" r="0.4" fill="#56b4a6" fill-opacity="0.8"/>
<circle cx="97.9" cy="237.0" r="0.4" fill="#56b4a6" fill-opacity="0.8"/>
<circle cx="95.0" cy="233.9" r="0.4" fill="#56b4a6" fill-opacity="0.8"/>
<circle cx="103.4" cy="231.7" r="0.4" fill="#56b4a6" fill-opacity="0.8"/>
<circle cx="101.2" cy="231.4" r="0.4" fill="#56b4a6" fill-opacity="0.8"/>
<circle cx="105.4" cy="232.6" r="0.4" fill="#56b4a6" fill-opacity="0.8"/>
<circle cx="105.3" cy="239.8" r="0.4" fill="#56b4a6" fill-opacity="0.8"/>
<circle cx="107.3" cy="245.0" r="0.4" fill="#56b4a6" fill-opacity="0.8"/>
<circle cx="108.4" cy="250.0" r="0.4" fill="#56b4a6" fill-opacity="0.8"/>
<circle cx="98.9" cy="245.9" r="0.4" fill="#56b4a6" fill-opacity="0.8"/>
<circle cx="95.9" cy="243.8" r="0.4" fill="#56b4a6" fill-opacity="0.8"/>
<circle cx="94.7" cy="245.2" r="0.4" fill="#56b4a6" fill-opacity="0.8"/>
<circle cx="93.0" cy="240.4" r="0.4" fill="#56b4a6" fill-opacity="0.8"/>
<circle cx="37.8" cy="268.2" r="0.45" fill="#56b4a6" fill-opacity="0.8"/>
<circle cx="39.1" cy="267.5" r="0.45" fill="#56b4a6" fill-opacity="0.8"/>
<circle cx="40.3" cy="266.8" r="0.45" fill="#56b4a6" fill-opacity="0.8"/>
<circle cx="42.0" cy="267.5" r="0.45" fill="#56b4a6" fill-opacity="0.8"/>
<circle cx="42.8" cy="267.3" r="0.45" fill="#56b4a6" fill-opacity="0.8"/>
<circle cx="43.9" cy="266.9" r="0.45" fill="#56b4a6" fill-opacity="0.8"/>
<circle cx="44.1" cy="269.5" r="0.45" fill="#56b4a6" fill-opacity="0.8"/>
<circle cx="43.7" cy="270.4" r="0.45" fill="#56b4a6" fill-opacity="0.8"/>
<circle cx="43.9" cy="270.0" r="0.45" fill="#56b4a6" fill-opacity="0.8"/>
<circle cx="42.2" cy="270.8" r="0.45" fill="#56b4a6" fill-opacity="0.8"/>
<circle cx="41.0" cy="271.2" r="0.45" fill="#56b4a6" fill-opacity="0.8"/>
<circle cx="39.4" cy="269.7" r="0.45" fill="#56b4a6" fill-opacity="0.8"/>
<circle cx="38.4" cy="269.5" r="0.45" fill="#56b4a6" fill-opacity="0.8"/>
<circle cx="38.7" cy="269.0" r="0.45" fill="#56b4a6" fill-opacity="0.8"/>
<circle cx="36.9" cy="265.2" r="0.4" fill="#56b4a6" fill-opacity="0.8"/>
<circle cx="40.1" cy="265.6" r="0.4" fill="#56b4a6" fill-opacity="0.8"/>
<circle cx="41.6" cy="268.3" r="0.4" fill="#56b4a6" fill-opacity="0.8"/>
<circle cx="43.2" cy="270.8" r="0.4" fill="#56b4a6" fill-opacity="0.8"/>
<circle cx="41.9" cy="269.9" r="0.4" fill="#56b4a6" fill-opacity="0.8"/>
<circle cx="43.4" cy="268.5" r="0.4" fill="#56b4a6" fill-opacity="0.8"/>
<circle cx="50.2" cy="274.0" r="0.45" fill="#56b4a6" fill-opacity="0.8"/>
<circle cx="50.9" cy="271.5" r="0.45" fill="#56b4a6" fill-opacity="0.8"/>
<circle cx="50.8" cy="272.2" r="0.45" fill="#56b4a6" fill-opacity="0.8"/>
<circle cx="53.0" cy="273.1" r="0.45" fill="#56b4a6" fill-opacity="0.8"/>
<circle cx="54.1" cy="272.5" r="0.45" fill="#56b4a6" fill-opacity="0.8"/>
<circle cx="55.2" cy="273.2" r="0.45" fill="#56b4a6" fill-opacity="0.8"/>
<circle cx="55.5" cy="273.8" r="0.45" fill="#56b4a6" fill-opacity="0.8"/>
<circle cx="55.3" cy="274.6" r="0.45" fill="#56b4a6" fill-opacity="0.8"/>
<circle cx="55.5" cy="275.9" r="0.45" fill="#56b4a6" fill-opacity="0.8"/>
<circle cx="55.7" cy="278.5" r="0.45" fill="#56b4a6" fill-opacity="0.8"/>
<circle cx="56.4" cy="277.8" r="0.45" fill="#56b4a6" fill-opacity="0.8"/>
<circle cx="57.9" cy="278.7" r="0.45" fill="#56b4a6" fill-opacity="0.8"/>
<circle cx="56.9" cy="279.7" r="0.45" fill="#56b4a6" fill-opacity="0.8"/>
<circle cx="57.0" cy="280.7" r="0.45" fill="#56b4a6" fill-opacity="0.8"/>
<circle cx="55.0" cy="281.6" r="0.45" fill="#56b4a6" fill-opacity="0.8"/>
<circle cx="55.5" cy="279.3" r="0.45" fill="#56b4a6" fill-opacity="0.8"/>
<circle cx="53.7" cy="277.5" r="0.45" fill="#56b4a6" fill-opacity="0.8"/>
<circle cx="53.4" cy="276.9" r="0.45" fill="#56b4a6" fill-opacity="0.8"/>
<circle cx="52.1" cy="276.7" r="0.45" fill="#56b4a6" fill-opacity="0.8"/>
<circle cx="50.3" cy="276.8" r="0.45" fill="#56b4a6" fill-opacity="0.8"/>
<circle cx="50.7" cy="275.7" r="0.45" fill="#56b4a6" fill-opacity="0.8"/>
<circle cx="49.1" cy="275.3" r="0.45" fill="#56b4a6" fill-opacity="0.8"/>
<circle cx="49.4" cy="274.6" r="0.4" fill="#56b4a6" fill-opacity="0.8"/>
<circle cx="55.3" cy="274.3" r="0.4" fill="#56b4a6" fill-opacity="0.8"/>
<circle cx="53.6" cy="277.6" r="0.4" fill="#56b4a6" fill-opacity="0.8"/>
<circle cx="54.8" cy="277.7" r="0.4" fill="#56b4a6" fill-opacity="0.8"/>
<circle cx="55.1" cy="277.7" r="0.4" fill="#56b4a6" fill-opacity="0.8"/>
<circle cx="53.3" cy="283.8" r="0.4" fill="#56b4a6" fill-opacity="0.8"/>
<circle cx="57.5" cy="276.6" r="0.4" fill="#56b4a6" fill-opacity="0.8"/>
<circle cx="48.8" cy="273.6" r="0.4" fill="#56b4a6" fill-opacity="0.8"/>
<circle cx="52.5" cy="274.7" r="0.4" fill="#56b4a6" fill-opacity="0.8"/>
<circle cx="59.2" cy="271.5" r="0.45" fill="#56b4a6" fill-opacity="0.8"/>
<circle cx="59.8" cy="269.8" r="0.45" fill="#56b4a6" fill-opacity="0.8"/>
<circle cx="60.9" cy="268.2" r="0.45" fill="#56b4a6" fill-opacity="0.8"/>
<circle cx="61.9" cy="268.4" r="0.45" fill="#56b4a6" fill-opacity="0.8"/>
<circle cx="63.4" cy="267.6" r="0.45" fill="#56b4a6" fill-opacity="0.8"/>
<circle cx="63.7" cy="268.0" r="0.45" fill="#56b4a6" fill-opacity="0.8"/>
<circle cx="65.0" cy="269.5" r="0.45" fill="#56b4a6" fill-opacity="0.8"/>
<circle cx="66.4" cy="269.3" r="0.45" fill="#56b4a6" fill-opacity="0.8"/>
<circle cx="65.9" cy="270.0" r="0.45" fill="#56b4a6" fill-opacity="0.8"/>
<circle cx="65.2" cy="271.3" r="0.45" fill="#56b4a6" fill-opacity="0.8"/>
<circle cx="65.1" cy="272.9" r="0.45" fill="#56b4a6" fill-opacity="0.8"/>
<circle cx="64.0" cy="274.5" r="0.45" fill="#56b4a6" fill-opacity="0.8"/>
<circle cx="61.8" cy="273.5" r="0.45" fill="#56b4a6" fill-opacity="0.8"/>
<circle cx="62.4" cy="272.3" r="0.45" fill="#56b4a6" fill-opacity="0.8"/>
<circle cx="59.3" cy="273.1" r="0.45" fill="#56b4a6" fill-opacity="0.8"/>
<circle cx="59.2" cy="272.7" r="0.45" fill="#56b4a6" fill-opacity="0.8"/>
<circle cx="58.7" cy="272.5" r="0.4" fill="#56b4a6" fill-opacity="0.8"/>
<circle cx="61.5" cy="270.3" r="0.4" fill="#56b4a6" fill-opacity="0.8"/>
<circle cx="60.1" cy="266.0" r="0.4" fill="#56b4a6" fill-opacity="0.8"/>
<circle cx="66.2" cy="267.6" r="0.4" fill="#56b4a6" fill-opacity="0.8"/>
<circle cx="62.6" cy="274.0" r="0.4" fill="#56b4a6" fill-opacity="0.8"/>
<circle cx="60.1" cy="274.9" r="0.4" fill="#56b4a6" fill-opacity="0.8"/>
<circle cx="60.8" cy="273.2" r="0.4" fill="#56b4a6" fill-opacity="0.8"/>
<circle cx="74.4" cy="267.2" r="0.45" fill="#56b4a6" fill-opacity="0.8"/>
<circle cx="74.0" cy="265.9" r="0.45" fill="#56b4a6" fill-opacity="0.8"/>
<circle cx="76.2" cy="264.4" r="0.45" fill="#56b4a6" fill-opacity="0.8"/>
<circle cx="77.1" cy="264.4" r="0.45" fill="#56b4a6" fill-opacity="0.8"/>
<circle cx="78.0" cy="264.2" r="0.45" fill="#56b4a6" fill-opacity="0.8"/>
<circle cx="80.7" cy="264.1" r="0.45" fill="#56b4a6" fill-opacity="0.8"/>
<circle cx="80.4" cy="265.4" r="0.45" fill="#56b4a6" fill-opacity="0.8"/>
<circle cx="81.6" cy="267.0" r="0.45" fill="#56b4a6" fill-opacity="0.8"/>
<circle cx="81.2" cy="267.8" r="0.45" fill="#56b4a6" fill-opacity="0.8"/>
<circle cx="80.0" cy="269.2" r="0.45" fill="#56b4a6" fill-opacity="0.8"/>
<circle cx="77.8" cy="270.8" r="0.45" fill="#56b4a6" fill-opacity="0.8"/>
<circle cx="78.1" cy="269.0" r="0.45" fill="#56b4a6" fill-opacity="0.8"/>
<circle cx="76.7" cy="269.8" r="0.45" fill="#56b4a6" fill-opacity="0.8"/>
<circle cx="75.5" cy="269.8" r="0.45" fill="#56b4a6" fill-opacity="0.8"/>
<circle cx="73.6" cy="269.0" r="0.45" fill="#56b4a6" fill-opacity="0.8"/>
<circle cx="75.0" cy="268.0" r="0.45" fill="#56b4a6" fill-opacity="0.8"/>
<circle cx="71.8" cy="264.3" r="0.4" fill="#56b4a6" fill-opacity="0.8"/>
<circle cx="73.8" cy="265.0" r="0.4" fill="#56b4a6" fill-opacity="0.8"/>
<circle cx="83.3" cy="265.4" r="0.4" fill="#56b4a6" fill-opacity="0.8"/>
<circle cx="81.3" cy="272.5" r="0.4" fill="#56b4a6" fill-opacity="0.8"/>
<circle cx="77.8" cy="268.4" r="0.4" fill="#56b4a6" fill-opacity="0.8"/>
<circle cx="76.9" cy="271.0" r="0.4" fill="#56b4a6" fill-opacity="0.8"/>
<circle cx="71.8" cy="265.7" r="0.4" fill="#56b4a6" fill-opacity="0.8"/>
<circle cx="39.6" cy="281.5" r="0.45" fill="#56b4a6" fill-opacity="0.8"/>
<circle cx="39.5" cy="280.3" r="0.45" fill="#56b4a6" fill-opacity="0.8"/>
<circle cx="41.3" cy="279.9" r="0.45" fill="#56b4a6" fill-opacity="0.8"/>
<circle cx="43.0" cy="279.2" r="0.45" fill="#56b4a6" fill-opacity="0.8"/>
<circle cx="44.5" cy="279.8" r="0.45" fill="#56b4a6" fill-opacity="0.8"/>
<circle cx="47.4" cy="279.4" r="0.45" fill="#56b4a6" fill-opacity="0.8"/>
<circle cx="48.7" cy="280.0" r="0.45" fill="#56b4a6" fill-opacity="0.8"/>
<circle cx="49.1" cy="282.3" r="0.45" fill="#56b4a6" fill-opacity="0.8"/>
<circle cx="50.0" cy="282.9" r="0.45" fill="#56b4a6" fill-opacity="0.8"/>
<circle cx="48.0" cy="283.8" r="0.45" fill="#56b4a6" fill-opacity="0.8"/>
<circle cx="45.5" cy="284.0" r="0.45" fill="#56b4a6" fill-opacity="0.8"/>
<circle cx="44.2" cy="284.3" r="0.45" fill="#56b4a6" fill-opacity="0.8"/>
<circle cx="42.2" cy="282.8" r="0.45" fill="#56b4a6" fill-opacity="0.8"/>
<circle cx="41.5" cy="283.8" r="0.45" fill="#56b4a6" fill-opacity="0.8"/>
<circle cx="40.0" cy="283.6" r="0.45" fill="#56b4a6" fill-opacity="0.8"/>
<circle cx="39.4" cy="281.9" r="0.45" fill="#56b4a6" fill-opacity="0.8"/>
<circle cx="40.5" cy="277.9" r="0.4" fill="#56b4a6" fill-opacity="0.8"/>
<circle cx="40.8" cy="279.3" r="0.4" fill="#56b4a6" fill-opacity="0.8"/>
<circle cx="48.5" cy="279.3" r="0.4" fill="#56b4a6" fill-opacity="0.8"/>
<circle cx="49.9" cy="281.1" r="0.4" fill="#56b4a6" fill-opacity="0.8"/>
<circle cx="47.1" cy="287.7" r="0.4" fill="#56b4a6" fill-opacity="0.8"/>
<circle cx="40.6" cy="289.1" r="0.4" fill="#56b4a6" fill-opacity="0.8"/>
<circle cx="38.1" cy="282.3" r="0.4" fill="#56b4a6" fill-opacity="0.8"/>
<circle cx="40.4" cy="289.0" r="0.45" fill="#56b4a6" fill-opacity="0.8"/>
<circle cx="40.2" cy="286.1" r="0.45" fill="#56b4a6" fill-opacity="0.8"/>
<circle cx="42.4" cy="287.1" r="0.45" fill="#56b4a6" fill-opacity="0.8"/>
<circle cx="43.7" cy="287.6" r="0.45" fill="#56b4a6" fill-opacity="0.8"/>
<circle cx="44.8" cy="286.0" r="0.45" fill="#56b4a6" fill-opacity="0.8"/>
<circle cx="46.6" cy="286.2" r="0.45" fill="#56b4a6" fill-opacity="0.8"/>
<circle cx="48.3" cy="285.5" r="0.45" fill="#56b4a6" fill-opacity="0.8"/>
<circle cx="48.4" cy="284.0" r="0.45" fill="#56b4a6" fill-opacity="0.8"/>
<circle cx="50.4" cy="286.0" r="0.45" fill="#56b4a6" fill-opacity="0.8"/>
<circle cx="51.7" cy="288.4" r="0.45" fill="#56b4a6" fill-opacity="0.8"/>
<circle cx="52.1" cy="288.2" r="0.45" fill="#56b4a6" fill-opacity="0.8"/>
<circle cx="52.1" cy="289.3" r="0.45" fill="#56b4a6" fill-opacity="0.8"/>
<circle cx="51.7" cy="291.4" r="0.45" fill="#56b4a6" fill-opacity="0.8"/>
<circle cx="51.2" cy="291.7" r="0.45" fill="#56b4a6" fill-opacity="0.8"/>
<circle cx="49.8" cy="292.4" r="0.45" fill="#56b4a6" fill-opacity="0.8"/>
<circle cx="48.5" cy="291.8" r="0.45" fill="#56b4a6" fill-opacity="0.8"/>
<circle cx="46.8" cy="291.8" r="0.45" fill="#56b4a6" fill-opacity="0.8"/>
<circle cx="43.9" cy="293.3" r="0.45" fill="#56b4a6" fill-opacity="0.8"/>
<circle cx="43.2" cy="292.2" r="0.45" fill="#56b4a6" fill-opacity="0.8"/>
<circle cx="42.0" cy="292.3" r="0.45" fill="#56b4a6" fill-opacity="0.8"/>
<circle cx="39.4" cy="292.0" r="0.45" fill="#56b4a6" fill-opacity="0.8"/>
<circle cx="40.2" cy="290.2" r="0.45" fill="#56b4a6" fill-opacity="0.8"/>
<circle cx="40.7" cy="288.1" r="0.4" fill="#56b4a6" fill-opacity="0.8"/>
<circle cx="39.2" cy="288.4" r="0.4" fill="#56b4a6" fill-opacity="0.8"/>
<circle cx="46.1" cy="285.3" r="0.4" fill="#56b4a6" fill-opacity="0.8"/>
<circle cx="50.1" cy="286.2" r="0.4" fill="#56b4a6" fill-opacity="0.8"/>
<circle cx="53.6" cy="287.6" r="0.4" fill="#56b4a6" fill-opacity="0.8"/>
<circle cx="51.7" cy="286.7" r="0.4" fill="#56b4a6" fill-opacity="0.8"/>
<circle cx="47.3" cy="293.4" r="0.4" fill="#56b4a6" fill-opacity="0.8"/>
<circle cx="46.7" cy="291.9" r="0.4" fill="#56b4a6" fill-opacity="0.8"/>
<circle cx="40.0" cy="294.5" r="0.4" fill="#56b4a6" fill-opacity="0.8"/>
<circle cx="86.0" cy="270.3" r="0.45" fill="#56b4a6" fill-opacity="0.8"/>
<circle cx="87.9" cy="268.9" r="0.45" fill="#56b4a6" fill-opacity="0.8"/>
<circle cx="88.6" cy="267.8" r="0.45" fill="#56b4a6" fill-opacity="0.8"/>
<circle cx="89.3" cy="267.9" r="0.45" fill="#56b4a6" fill-opacity="0.8"/>
<circle cx="90.6" cy="268.9" r="0.45" fill="#56b4a6" fill-opacity="0.8"/>
<circle cx="92.9" cy="268.7" r="0.45" fill="#56b4a6" fill-opacity="0.8"/>
<circle cx="92.0" cy="270.7" r="0.45" fill="#56b4a6" fill-opacity="0.8"/>
<circle cx="92.3" cy="272.2" r="0.45" fill="#56b4a6" fill-opacity="0.8"/>
<circle cx="93.5" cy="273.3" r="0.45" fill="#56b4a6" fill-opacity="0.8"/>
<circle cx="92.8" cy="274.0" r="0.45" fill="#56b4a6" fill-opacity="0.8"/>
<circle cx="91.9" cy="275.2" r="0.45" fill="#56b4a6" fill-opacity="0.8"/>
<circle cx="89.7" cy="276.3" r="0.45" fill="#56b4a6" fill-opacity="0.8"/>
<circle cx="88.6" cy="277.0" r="0.45" fill="#56b4a6" fill-opacity="0.8"/>
<circle cx="88.1" cy="275.3" r="0.45" fill="#56b4a6" fill-opacity="0.8"/>
<circle cx="87.8" cy="275.2" r="0.45" fill="#56b4a6" fill-opacity="0.8"/>
<circle cx="86.8" cy="273.7" r="0.45" fill="#56b4a6" fill-opacity="0.8"/>
<circle cx="86.9" cy="272.8" r="0.45" fill="#56b4a6" fill-opacity="0.8"/>
<circle cx="85.2" cy="272.7" r="0.45" fill="#56b4a6" fill-opacity="0.8"/>
<circle cx="91.1" cy="265.5" r="0.4" fill="#56b4a6" fill-opacity="0.8"/>
<circle cx="88.4" cy="268.9" r="0.4" fill="#56b4a6" fill-opacity="0.8"/>
<circle cx="93.6" cy="270.6" r="0.4" fill="#56b4a6" fill-opacity="0.8"/>
<circle cx="92.6" cy="270.4" r="0.4" fill="#56b4a6" fill-opacity="0.8"/>
<circle cx="91.6" cy="278.4" r="0.4" fill="#56b4a6" fill-opacity="0.8"/>
<circle cx="86.0" cy="273.9" r="0.4" fill="#56b4a6" fill-opacity="0.8"/>
<circle cx="86.7" cy="269.2" r="0.4" fill="#56b4a6" fill-opacity="0.8"/>
<circle cx="85.5" cy="269.6" r="0.4" fill="#56b4a6" fill-opacity="0.8"/>
<circle cx="106.7" cy="281.0" r="0.45" fill="#56b4a6" fill-opacity="0.8"/>
<circle cx="107.1" cy="280.1" r="0.45" fill="#56b4a6" fill-opacity="0.8"/>
<circle cx="109.0" cy="279.2" r="0.45" fill="#56b4a6" fill-opacity="0.8"/>
<circle cx="110.0" cy="279.7" r="0.45" fill="#56b4a6" fill-opacity="0.8"/>
<circle cx="111.5" cy="280.2" r="0.45" fill="#56b4a6" fill-opacity="0.8"/>
<circle cx="110.6" cy="279.5" r="0.45" fill="#56b4a6" fill-opacity="0.8"/>
<circle cx="110.1" cy="281.6" r="0.45" fill="#56b4a6" fill-opacity="0.8"/>
<circle cx="112.9" cy="280.8" r="0.45" fill="#56b4a6" fill-opacity="0.8"/>
<circle cx="115.4" cy="280.6" r="0.45" fill="#56b4a6" fill-opacity="0.8"/>
<circle cx="116.6" cy="282.5" r="0.45" fill="#56b4a6" fill-opacity="0.8"/>
<circle cx="115.8" cy="284.2" r="0.45" fill="#56b4a6" fill-opacity="0.8"/>
<circle cx="117.5" cy="284.7" r="0.45" fill="#56b4a6" fill-opacity="0.8"/>
<circle cx="116.5" cy="287.6" r="0.45" fill="#56b4a6" fill-opacity="0.8"/>
<circle cx="114.7" cy="288.5" r="0.45" fill="#56b4a6" fill-opacity="0.8"/>
<circle cx="113.3" cy="288.3" r="0.45" fill="#56b4a6" fill-opacity="0.8"/>
<circle cx="111.2" cy="287.9" r="0.45" fill="#56b4a6" fill-opacity="0.8"/>
<circle cx="109.4" cy="287.0" r="0.45" fill="#56b4a6" fill-opacity="0.8"/>
<circle cx="107.4" cy="287.4" r="0.45" fill="#56b4a6" fill-opacity="0.8"/>
<circle cx="106.7" cy="284.8" r="0.45" fill="#56b4a6" fill-opacity="0.8"/>
<circle cx="105.4" cy="282.6" r="0.45" fill="#56b4a6" fill-opacity="0.8"/>
<circle cx="106.8" cy="283.5" r="0.4" fill="#56b4a6" fill-opacity="0.8"/>
<circle cx="110.5" cy="280.5" r="0.4" fill="#56b4a6" fill-opacity="0.8"/>
<circle cx="111.0" cy="282.7" r="0.4" fill="#56b4a6" fill-opacity="0.8"/>
<circle cx="113.4" cy="279.9" r="0.4" fill="#56b4a6" fill-opacity="0.8"/>
<circle cx="118.9" cy="284.1" r="0.4" fill="#56b4a6" fill-opacity="0.8"/>
<circle cx="114.7" cy="286.7" r="0.4" fill="#56b4a6" fill-opacity="0.8"/>
<circle cx="110.1" cy="289.5" r="0.4" fill="#56b4a6" fill-opacity="0.8"/>
<circle cx="107.6" cy="283.0" r="0.4" fill="#56b4a6" fill-opacity="0.8"/>
<circle cx="117.2" cy="289.4" r="0.45" fill="#56b4a6" fill-opacity="0.8"/>
<circle cx="118.2" cy="288.6" r="0.45" fill="#56b4a6" fill-opacity="0.8"/>
<circle cx="121.1" cy="287.3" r="0.45" fill="#56b4a6" fill-opacity="0.8"/>
<circle cx="124.1" cy="288.8" r="0.45" fill="#56b4a6" fill-opacity="0.8"/>
<circle cx="125.3" cy="288.7" r="0.45" fill="#56b4a6" fill-opacity="0.8"/>
<circle cx="126.6" cy="288.4" r="0.45" fill="#56b4a6" fill-opacity="0.8"/>
<circle cx="128.2" cy="286.5" r="0.45" fill="#56b4a6" fill-opacity="0.8"/>
<circle cx="130.0" cy="287.2" r="0.45" fill="#56b4a6" fill-opacity="0.8"/>
<circle cx="133.3" cy="286.9" r="0.45" fill="#56b4a6" fill-opacity="0.8"/>
<circle cx="132.6" cy="290.4" r="0.45" fill="#56b4a6" fill-opacity="0.8"/>
<circle cx="132.8" cy="291.5" r="0.45" fill="#56b4a6" fill-opacity="0.8"/>
<circle cx="133.0" cy="293.6" r="0.45" fill="#56b4a6" fill-opacity="0.8"/>
<circle cx="129.0" cy="295.8" r="0.45" fill="#56b4a6" fill-opacity="0.8"/>
<circle cx="127.4" cy="297.9" r="0.45" fill="#56b4a6" fill-opacity="0.8"/>
<circle cx="126.3" cy="298.9" r="0.45" fill="#56b4a6" fill-opacity="0.8"/>
<circle cx="125.2" cy="299.6" r="0.45" fill="#56b4a6" fill-opacity="0.8"/>
<circle cx="121.4" cy="298.7" r="0.45" fill="#56b4a6" fill-opacity="0.8"/>
<circle cx="121.0" cy="299.9" r="0.45" fill="#56b4a6" fill-opacity="0.8"/>
<circle cx="118.2" cy="299.3" r="0.45" fill="#56b4a6" fill-opacity="0.8"/>
<circle cx="117.7" cy="298.1" r="0.45" fill="#56b4a6" fill-opacity="0.8"/>
<circle cx="115.1" cy="296.0" r="0.45" fill="#56b4a6" fill-opacity="0.8"/>
<circle cx="116.9" cy="294.5" r="0.45" fill="#56b4a6" fill-opacity="0.8"/>
<circle cx="117.0" cy="290.5" r="0.45" fill="#56b4a6" fill-opacity="0.8"/>
<circle cx="116.5" cy="290.8" r="0.45" fill="#56b4a6" fill-opacity="0.8"/>
<circle cx="122.5" cy="287.2" r="0.4" fill="#56b4a6" fill-opacity="0.8"/>
<circle cx="121.7" cy="287.7" r="0.4" fill="#56b4a6" fill-opacity="0.8"/>
<circle cx="129.1" cy="286.0" r="0.4" fill="#56b4a6" fill-opacity="0.8"/>
<circle cx="133.8" cy="285.8" r="0.4" fill="#56b4a6" fill-opacity="0.8"/>
<circle cx="133.5" cy="290.7" r="0.4" fill="#56b4a6" fill-opacity="0.8"/>
<circle cx="129.6" cy="294.7" r="0.4" fill="#56b4a6" fill-opacity="0.8"/>
<circle cx="120.9" cy="301.9" r="0.4" fill="#56b4a6" fill-opacity="0.8"/>
<circle cx="120.1" cy="298.0" r="0.4" fill="#56b4a6" fill-opacity="0.8"/>
<circle cx="116.9" cy="298.4" r="0.4" fill="#56b4a6" fill-opacity="0.8"/>
<circle cx="114.3" cy="291.0" r="0.4" fill="#56b4a6" fill-opacity="0.8"/>
<circle cx="100.5" cy="292.2" r="0.45" fill="#56b4a6" fill-opacity="0.8"/>
<circle cx="101.2" cy="289.5" r="0.45" fill="#56b4a6" fill-opacity="0.8"/>
<circle cx="103.5" cy="290.3" r="0.45" fill="#56b4a6" fill-opacity="0.8"/>
<circle cx="104.4" cy="290.6" r="0.45" fill="#56b4a6" fill-opacity="0.8"/>
<circle cx="105.7" cy="291.6" r="0.45" fill="#56b4a6" fill-opacity="0.8"/>
<circle cx="104.7" cy="292.6" r="0.45" fill="#56b4a6" fill-opacity="0.8"/>
<circle cx="104.2" cy="294.0" r="0.45" fill="#56b4a6" fill-opacity="0.8"/>
<circle cx="103.5" cy="296.5" r="0.45" fill="#56b4a6" fill-opacity="0.8"/>
<circle cx="102.9" cy="298.3" r="0.45" fill="#56b4a6" fill-opacity="0.8"/>
<circle cx="102.4" cy="299.5" r="0.45" fill="#56b4a6" fill-opacity="0.8"/>
<circle cx="102.8" cy="300.6" r="0.45" fill="#56b4a6" fill-opacity="0.8"/>
<circle cx="100.3" cy="301.6" r="0.45" fill="#56b4a6" fill-opacity="0.8"/>
<circle cx="99.4" cy="301.3" r="0.45" fill="#56b4a6" fill-opacity="0.8"/>
<circle cx="97.7" cy="302.1" r="0.45" fill="#56b4a6" fill-opacity="0.8"/>
<circle cx="96.4" cy="301.4" r="0.45" fill="#56b4a6" fill-opacity="0.8"/>
<circle cx="95.5" cy="301.5" r="0.45" fill="#56b4a6" fill-opacity="0.8"/>
<circle cx="94.1" cy="300.9" r="0.45" fill="#56b4a6" fill-opacity="0.8"/>
<circle cx="92.9" cy="299.7" r="0.45" fill="#56b4a6" fill-opacity="0.8"/>
<circle cx="93.0" cy="298.6" r="0.45" fill="#56b4a6" fill-opacity="0.8"/>
<circle cx="94.1" cy="296.5" r="0.45" fill="#56b4a6" fill-opacity="0.8"/>
<circle cx="95.6" cy="296.2" r="0.45" fill="#56b4a6" fill-opacity="0.8"/>
<circle cx="97.1" cy="294.8" r="0.45" fill="#56b4a6" fill-opacity="0.8"/>
<circle cx="99.6" cy="293.4" r="0.45" fill="#56b4a6" fill-opacity="0.8"/>
<circle cx="101.1" cy="291.1" r="0.45" fill="#56b4a6" fill-opacity="0.8"/>
<circle cx="99.7" cy="287.9" r="0.4" fill="#56b4a6" fill-opacity="0.8"/>
<circle cx="105.7" cy="296.1" r="0.4" fill="#56b4a6" fill-opacity="0.8"/>
<circle cx="99.8" cy="293.3" r="0.4" fill="#56b4a6" fill-opacity="0.8"/>
<circle cx="105.1" cy="296.4" r="0.4" fill="#56b4a6" fill-opacity="0.8"/>
<circle cx="103.2" cy="295.6" r="0.4" fill="#56b4a6" fill-opacity="0.8"/>
<circle cx="100.5" cy="303.1" r="0.4" fill="#56b4a6" fill-opacity="0.8"/>
<circle cx="95.1" cy="299.7" r="0.4" fill="#56b4a6" fill-opacity="0.8"/>
<circle cx="94.4" cy="298.2" r="0.4" fill="#56b4a6" fill-opacity="0.8"/>
<circle cx="96.3" cy="295.1" r="0.4" fill="#56b4a6" fill-opacity="0.8"/>
<circle cx="94.7" cy="293.0" r="0.4" fill="#56b4a6" fill-opacity="0.8"/>
<circle cx="46.5" cy="301.9" r="0.45" fill="#56b4a6" fill-opacity="0.8"/>
<circle cx="47.0" cy="299.9" r="0.45" fill="#56b4a6" fill-opacity="0.8"/>
<circle cx="49.5" cy="299.3" r="0.45" fill="#56b4a6" fill-opacity="0.8"/>
<circle cx="51.5" cy="300.1" r="0.45" fill="#56b4a6" fill-opacity="0.8"/>
<circle cx="52.1" cy="298.0" r="0.45" fill="#56b4a6" fill-opacity="0.8"/>
<circle cx="54.9" cy="301.0" r="0.45" fill="#56b4a6" fill-opacity="0.8"/>
<circle cx="56.7" cy="301.9" r="0.45" fill="#56b4a6" fill-opacity="0.8"/>
<circle cx="57.2" cy="302.6" r="0.45" fill="#56b4a6" fill-opacity="0.8"/>
<circle cx="59.2" cy="304.4" r="0.45" fill="#56b4a6" fill-opacity="0.8"/>
<circle cx="58.3" cy="306.1" r="0.45" fill="#56b4a6" fill-opacity="0.8"/>
<circle cx="61.1" cy="309.7" r="0.45" fill="#56b4a6" fill-opacity="0.8"/>
<circle cx="58.6" cy="309.9" r="0.45" fill="#56b4a6" fill-opacity="0.8"/>
<circle cx="57.9" cy="311.6" r="0.45" fill="#56b4a6" fill-opacity="0.8"/>
<circle cx="56.6" cy="313.2" r="0.45" fill="#56b4a6" fill-opacity="0.8"/>
<circle cx="52.8" cy="315.0" r="0.45" fill="#56b4a6" fill-opacity="0.8"/>
<circle cx="50.9" cy="314.8" r="0.45" fill="#56b4a6" fill-opacity="0.8"/>
<circle cx="49.1" cy="314.4" r="0.45" fill="#56b4a6" fill-opacity="0.8"/>
<circle cx="47.7" cy="313.6" r="0.45" fill="#56b4a6" fill-opacity="0.8"/>
<circle cx="45.3" cy="311.5" r="0.45" fill="#56b4a6" fill-opacity="0.8"/>
<circle cx="45.2" cy="310.0" r="0.45" fill="#56b4a6" fill-opacity="0.8"/>
<circle cx="46.0" cy="307.6" r="0.45" fill="#56b4a6" fill-opacity="0.8"/>
<circle cx="46.3" cy="304.4" r="0.45" fill="#56b4a6" fill-opacity="0.8"/>
<circle cx="44.7" cy="299.8" r="0.4" fill="#56b4a6" fill-opacity="0.8"/>
<circle cx="45.3" cy="298.6" r="0.4" fill="#56b4a6" fill-opacity="0.8"/>
<circle cx="55.5" cy="301.2" r="0.4" fill="#56b4a6" fill-opacity="0.8"/>
<circle cx="57.9" cy="303.6" r="0.4" fill="#56b4a6" fill-opacity="0.8"/>
<circle cx="61.7" cy="308.5" r="0.4" fill="#56b4a6" fill-opacity="0.8"/>
<circle cx="58.5" cy="314.0" r="0.4" fill="#56b4a6" fill-opacity="0.8"/>
<circle cx="51.7" cy="317.5" r="0.4" fill="#56b4a6" fill-opacity="0.8"/>
<circle cx="45.6" cy="312.8" r="0.4" fill="#56b4a6" fill-opacity="0.8"/>
<circle cx="44.2" cy="305.8" r="0.4" fill="#56b4a6" fill-opacity="0.8"/>
<circle cx="71.0" cy="307.8" r="0.45" fill="#56b4a6" fill-opacity="0.8"/>
<circle cx="70.9" cy="305.6" r="0.45" fill="#56b4a6" fill-opacity="0.8"/>
<circle cx="72.6" cy="304.6" r="0.45" fill="#56b4a6" fill-opacity="0.8"/>
<circle cx="73.9" cy="302.6" r="0.45" fill="#56b4a6" fill-opacity="0.8"/>
<circle cx="74.1" cy="303.5" r="0.45" fill="#56b4a6" fill-opacity="0.8"/>
<circle cx="76.4" cy="303.8" r="0.45" fill="#56b4a6" fill-opacity="0.8"/>
<circle cx="75.8" cy="304.7" r="0.45" fill="#56b4a6" fill-opacity="0.8"/>
<circle cx="76.2" cy="306.2" r="0.45" fill="#56b4a6" fill-opacity="0.8"/>
<circle cx="77.2" cy="308.1" r="0.45" fill="#56b4a6" fill-opacity="0.8"/>
<circle cx="75.4" cy="311.1" r="0.45" fill="#56b4a6" fill-opacity="0.8"/>
<circle cx="74.8" cy="310.9" r="0.45" fill="#56b4a6" fill-opacity="0.8"/>
<circle cx="72.4" cy="311.6" r="0.45" fill="#56b4a6" fill-opacity="0.8"/>
<circle cx="72.5" cy="311.9" r="0.45" fill="#56b4a6" fill-opacity="0.8"/>
<circle cx="71.4" cy="310.7" r="0.45" fill="#56b4a6" fill-opacity="0.8"/>
<circle cx="70.4" cy="309.2" r="0.45" fill="#56b4a6" fill-opacity="0.8"/>
<circle cx="70.2" cy="308.8" r="0.45" fill="#56b4a6" fill-opacity="0.8"/>
<circle cx="67.0" cy="306.6" r="0.4" fill="#56b4a6" fill-opacity="0.8"/>
<circle cx="73.0" cy="302.4" r="0.4" fill="#56b4a6" fill-opacity="0.8"/>
<circle cx="74.9" cy="305.5" r="0.4" fill="#56b4a6" fill-opacity="0.8"/>
<circle cx="80.9" cy="309.0" r="0.4" fill="#56b4a6" fill-opacity="0.8"/>
<circle cx="74.8" cy="307.3" r="0.4" fill="#56b4a6" fill-opacity="0.8"/>
<circle cx="75.3" cy="311.3" r="0.4" fill="#56b4a6" fill-opacity="0.8"/>
<circle cx="69.8" cy="305.6" r="0.4" fill="#56b4a6" fill-opacity="0.8"/>
<circle cx="106.8" cy="310.4" r="0.45" fill="#56b4a6" fill-opacity="0.8"/>
<circle cx="107.4" cy="310.7" r="0.45" fill="#56b4a6" fill-opacity="0.8"/>
<circle cx="108.1" cy="310.4" r="0.45" fill="#56b4a6" fill-opacity="0.8"/>
<circle cx="108.3" cy="311.5" r="0.45" fill="#56b4a6" fill-opacity="0.8"/>
<circle cx="109.0" cy="310.4" r="0.45" fill="#56b4a6" fill-opacity="0.8"/>
<circle cx="109.5" cy="312.2" r="0.45" fill="#56b4a6" fill-opacity="0.8"/>
<circle cx="108.8" cy="313.5" r="0.45" fill="#56b4a6" fill-opacity="0.8"/>
<circle cx="108.8" cy="313.7" r="0.45" fill="#56b4a6" fill-opacity="0.8"/>
<circle cx="107.6" cy="315.5" r="0.45" fill="#56b4a6" fill-opacity="0.8"/>
<circle cx="107.6" cy="314.1" r="0.45" fill="#56b4a6" fill-opacity="0.8"/>
<circle cx="106.9" cy="313.2" r="0.45" fill="#56b4a6" fill-opacity="0.8"/>
<circle cx="106.6" cy="312.6" r="0.45" fill="#56b4a6" fill-opacity="0.8"/>
<circle cx="106.6" cy="305.8" r="0.4" fill="#56b4a6" fill-opacity="0.8"/>
<circle cx="108.4" cy="308.4" r="0.4" fill="#56b4a6" fill-opacity="0.8"/>
<circle cx="111.0" cy="311.3" r="0.4" fill="#56b4a6" fill-opacity="0.8"/>
<circle cx="108.4" cy="319.4" r="0.4" fill="#56b4a6" fill-opacity="0.8"/>
<circle cx="104.5" cy="310.8" r="0.4" fill="#56b4a6" fill-opacity="0.8"/>
<circle cx="128.2" cy="300.0" r="0.45" fill="#56b4a6" fill-opacity="0.8"/>
<circle cx="128.5" cy="300.2" r="0.45" fill="#56b4a6" fill-opacity="0.8"/>
<circle cx="130.3" cy="297.7" r="0.45" fill="#56b4a6" fill-opacity="0.8"/>
<circle cx="131.1" cy="298.6" r="0.45" fill="#56b4a6" fill-opacity="0.8"/>
<circle cx="132.8" cy="298.1" r="0.45" fill="#56b4a6" fill-opacity="0.8"/>
<circle cx="134.8" cy="300.0" r="0.45" fill="#56b4a6" fill-opacity="0.8"/>
<circle cx="136.7" cy="301.1" r="0.45" fill="#56b4a6" fill-opacity="0.8"/>
<circle cx="135.5" cy="302.5" r="0.45" fill="#56b4a6" fill-opacity="0.8"/>
<circle cx="135.8" cy="305.0" r="0.45" fill="#56b4a6" fill-opacity="0.8"/>
<circle cx="133.5" cy="305.3" r="0.45" fill="#56b4a6" fill-opacity="0.8"/>
<circle cx="132.7" cy="305.4" r="0.45" fill="#56b4a6" fill-opacity="0.8"/>
<circle cx="130.8" cy="304.2" r="0.45" fill="#56b4a6" fill-opacity="0.8"/>
<circle cx="129.5" cy="303.2" r="0.45" fill="#56b4a6" fill-opacity="0.8"/>
<circle cx="129.9" cy="303.2" r="0.45" fill="#56b4a6" fill-opacity="0.8"/>
<circle cx="126.3" cy="304.5" r="0.4" fill="#56b4a6" fill-opacity="0.8"/>
<circle cx="133.3" cy="294.3" r="0.4" fill="#56b4a6" fill-opacity="0.8"/>
<circle cx="138.7" cy="300.9" r="0.4" fill="#56b4a6" fill-opacity="0.8"/>
<circle cx="139.6" cy="300.6" r="0.4" fill="#56b4a6" fill-opacity="0.8"/>
<circle cx="133.7" cy="306.3" r="0.4" fill="#56b4a6" fill-opacity="0.8"/>
<circle cx="129.9" cy="303.9" r="0.4" fill="#56b4a6" fill-opacity="0.8"/>
<circle cx="100.9" cy="324.9" r="0.45" fill="#56b4a6" fill-opacity="0.8"/>
<circle cx="100.6" cy="323.1" r="0.45" fill="#56b4a6" fill-opacity="0.8"/>
<circle cx="102.9" cy="322.5" r="0.45" fill="#56b4a6" fill-opacity="0.8"/>
<circle cx="106.1" cy="322.5" r="0.45" fill="#56b4a6" fill-opacity="0.8"/>
<circle cx="109.0" cy="321.8" r="0.45" fill="#56b4a6" fill-opacity="0.8"/>
<circle cx="111.8" cy="322.6" r="0.45" fill="#56b4a6" fill-opacity="0.8"/>
<circle cx="115.4" cy="322.3" r="0.45" fill="#56b4a6" fill-opacity="0.8"/>
<circle cx="116.9" cy="324.0" r="0.45" fill="#56b4a6" fill-opacity="0.8"/>
<circle cx="118.1" cy="324.8" r="0.45" fill="#56b4a6" fill-opacity="0.8"/>
<circle cx="119.2" cy="326.4" r="0.45" fill="#56b4a6" fill-opacity="0.8"/>
<circle cx="118.3" cy="328.1" r="0.45" fill="#56b4a6" fill-opacity="0.8"/>
<circle cx="117.1" cy="330.5" r="0.45" fill="#56b4a6" fill-opacity="0.8"/>
<circle cx="113.9" cy="332.1" r="0.45" fill="#56b4a6" fill-opacity="0.8"/>
<circle cx="112.9" cy="333.9" r="0.45" fill="#56b4a6" fill-opacity="0.8"/>
<circle cx="111.5" cy="334.5" r="0.45" fill="#56b4a6" fill-opacity="0.8"/>
<circle cx="110.7" cy="336.1" r="0.45" fill="#56b4a6" fill-opacity="0.8"/>
<circle cx="109.2" cy="337.2" r="0.45" fill="#56b4a6" fill-opacity="0.8"/>
<circle cx="107.2" cy="337.2" r="0.45" fill="#56b4a6" fill-opacity="0.8"/>
<circle cx="104.7" cy="334.4" r="0.45" fill="#56b4a6" fill-opacity="0.8"/>
<circle cx="103.3" cy="334.6" r="0.45" fill="#56b4a6" fill-opacity="0.8"/>
<circle cx="99.9" cy="332.5" r="0.45" fill="#56b4a6" fill-opacity="0.8"/>
<circle cx="100.5" cy="329.7" r="0.45" fill="#56b4a6" fill-opacity="0.8"/>
<circle cx="97.9" cy="329.2" r="0.4" fill="#56b4a6" fill-opacity="0.8"/>
<circle cx="104.1" cy="327.8" r="0.4" fill="#56b4a6" fill-opacity="0.8"/>
<circle cx="111.8" cy="323.5" r="0.4" fill="#56b4a6" fill-opacity="0.8"/>
<circle cx="117.1" cy="321.2" r="0.4" fill="#56b4a6" fill-opacity="0.8"/>
<circle cx="120.2" cy="330.8" r="0.4" fill="#56b4a6" fill-opacity="0.8"/>
<circle cx="117.5" cy="334.3" r="0.4" fill="#56b4a6" fill-opacity="0.8"/>
<circle cx="109.3" cy="332.7" r="0.4" fill="#56b4a6" fill-opacity="0.8"/>
<circle cx="104.2" cy="335.2" r="0.4" fill="#56b4a6" fill-opacity="0.8"/>
<circle cx="99.2" cy="333.7" r="0.4" fill="#56b4a6" fill-opacity="0.8"/>
<circle cx="128.9" cy="327.1" r="0.45" fill="#56b4a6" fill-opacity="0.8"/>
<circle cx="129.6" cy="326.0" r="0.45" fill="#56b4a6" fill-opacity="0.8"/>
<circle cx="131.0" cy="326.3" r="0.45" fill="#56b4a6" fill-opacity="0.8"/>
<circle cx="133.6" cy="325.1" r="0.45" fill="#56b4a6" fill-opacity="0.8"/>
<circle cx="134.4" cy="326.7" r="0.45" fill="#56b4a6" fill-opacity="0.8"/>
<circle cx="137.4" cy="327.7" r="0.45" fill="#56b4a6" fill-opacity="0.8"/>
<circle cx="137.9" cy="328.6" r="0.45" fill="#56b4a6" fill-opacity="0.8"/>
<circle cx="139.7" cy="329.7" r="0.45" fill="#56b4a6" fill-opacity="0.8"/>
<circle cx="139.4" cy="332.8" r="0.45" fill="#56b4a6" fill-opacity="0.8"/>
<circle cx="139.2" cy="335.3" r="0.45" fill="#56b4a6" fill-opacity="0.8"/>
<circle cx="136.3" cy="335.3" r="0.45" fill="#56b4a6" fill-opacity="0.8"/>
<circle cx="134.9" cy="337.8" r="0.45" fill="#56b4a6" fill-opacity="0.8"/>
<circle cx="132.5" cy="336.7" r="0.45" fill="#56b4a6" fill-opacity="0.8"/>
<circle cx="131.2" cy="337.1" r="0.45" fill="#56b4a6" fill-opacity="0.8"/>
<circle cx="129.8" cy="334.3" r="0.45" fill="#56b4a6" fill-opacity="0.8"/>
<circle cx="129.0" cy="331.3" r="0.45" fill="#56b4a6" fill-opacity="0.8"/>
<circle cx="127.5" cy="323.2" r="0.4" fill="#56b4a6" fill-opacity="0.8"/>
<circle cx="132.6" cy="326.7" r="0.4" fill="#56b4a6" fill-opacity="0.8"/>
<circle cx="137.4" cy="329.0" r="0.4" fill="#56b4a6" fill-opacity="0.8"/>
<circle cx="138.5" cy="331.3" r="0.4" fill="#56b4a6" fill-opacity="0.8"/>
<circle cx="136.1" cy="337.4" r="0.4" fill="#56b4a6" fill-opacity="0.8"/>
<circle cx="135.0" cy="336.6" r="0.4" fill="#56b4a6" fill-opacity="0.8"/>
<circle cx="133.3" cy="334.2" r="0.4" fill="#56b4a6" fill-opacity="0.8"/>
<circle cx="64.1" cy="281.8" r="0.45" fill="#6cd870" fill-opacity="0.8"/>
<circle cx="65.9" cy="279.8" r="0.45" fill="#6cd870" fill-opacity="0.8"/>
<circle cx="66.5" cy="278.1" r="0.45" fill="#6cd870" fill-opacity="0.8"/>
<circle cx="69.4" cy="278.7" r="0.45" fill="#6cd870" fill-opacity="0.8"/>
<circle cx="72.2" cy="277.7" r="0.45" fill="#6cd870" fill-opacity="0.8"/>
<circle cx="74.4" cy="277.2" r="0.45" fill="#6cd870" fill-opacity="0.8"/>
<circle cx="76.3" cy="277.6" r="0.45" fill="#6cd870" fill-opacity="0.8"/>
<circle cx="79.8" cy="276.4" r="0.45" fill="#6cd870" fill-opacity="0.8"/>
<circle cx="82.0" cy="276.9" r="0.45" fill="#6cd870" fill-opacity="0.8"/>
<circle cx="84.5" cy="278.9" r="0.45" fill="#6cd870" fill-opacity="0.8"/>
<circle cx="84.5" cy="280.2" r="0.45" fill="#6cd870" fill-opacity="0.8"/>
<circle cx="87.7" cy="281.4" r="0.45" fill="#6cd870" fill-opacity="0.8"/>
<circle cx="87.9" cy="283.6" r="0.45" fill="#6cd870" fill-opacity="0.8"/>
<circle cx="89.6" cy="286.0" r="0.45" fill="#6cd870" fill-opacity="0.8"/>
<circle cx="90.3" cy="286.3" r="0.45" fill="#6cd870" fill-opacity="0.8"/>
<circle cx="90.1" cy="288.9" r="0.45" fill="#6cd870" fill-opacity="0.8"/>
<circle cx="89.3" cy="291.2" r="0.45" fill="#6cd870" fill-opacity="0.8"/>
<circle cx="87.1" cy="292.1" r="0.45" fill="#6cd870" fill-opacity="0.8"/>
<circle cx="85.9" cy="294.3" r="0.45" fill="#6cd870" fill-opacity="0.8"/>
<circle cx="85.8" cy="296.4" r="0.45" fill="#6cd870" fill-opacity="0.8"/>
<circle cx="84.6" cy="297.9" r="0.45" fill="#6cd870" fill-opacity="0.8"/>
<circle cx="83.0" cy="300.2" r="0.45" fill="#6cd870" fill-opacity="0.8"/>
<circle cx="81.2" cy="301.7" r="0.45" fill="#6cd870" fill-opacity="0.8"/>
<circle cx="79.2" cy="300.7" r="0.45" fill="#6cd870" fill-opacity="0.8"/>
<circle cx="76.6" cy="299.3" r="0.45" fill="#6cd870" fill-opacity="0.8"/>
<circle cx="74.9" cy="301.0" r="0.45" fill="#6cd870" fill-opacity="0.8"/>
<circle cx="72.0" cy="299.1" r="0.45" fill="#6cd870" fill-opacity="0.8"/>
<circle cx="67.9" cy="299.1" r="0.45" fill="#6cd870" fill-opacity="0.8"/>
<circle cx="68.2" cy="298.1" r="0.45" fill="#6cd870" fill-opacity="0.8"/>
<circle cx="66.6" cy="297.2" r="0.45" fill="#6cd870" fill-opacity="0.8"/>
<circle cx="65.6" cy="294.1" r="0.45" fill="#6cd870" fill-opacity="0.8"/>
<circle cx="64.5" cy="292.8" r="0.45" fill="#6cd870" fill-opacity="0.8"/>
<circle cx="62.2" cy="289.9" r="0.45" fill="#6cd870" fill-opacity="0.8"/>
<circle cx="61.9" cy="287.4" r="0.45" fill="#6cd870" fill-opacity="0.8"/>
<circle cx="63.1" cy="284.4" r="0.45" fill="#6cd870" fill-opacity="0.8"/>
<circle cx="61.8" cy="283.8" r="0.45" fill="#6cd870" fill-opacity="0.8"/>
<circle cx="64.4" cy="284.6" r="0.4" fill="#6cd870" fill-opacity="0.8"/>
<circle cx="64.9" cy="280.6" r="0.4" fill="#6cd870" fill-opacity="0.8"/>
<circle cx="79.1" cy="281.5" r="0.4" fill="#6cd870" fill-opacity="0.8"/>
<circle cx="80.9" cy="277.7" r="0.4" fill="#6cd870" fill-opacity="0.8"/>
<circle cx="85.0" cy="281.8" r="0.4" fill="#6cd870" fill-opacity="0.8"/>
<circle cx="91.7" cy="285.1" r="0.4" fill="#6cd870" fill-opacity="0.8"/>
<circle cx="86.9" cy="291.4" r="0.4" fill="#6cd870" fill-opacity="0.8"/>
<circle cx="85.8" cy="294.3" r="0.4" fill="#6cd870" fill-opacity="0.8"/>
<circle cx="85.0" cy="302.4" r="0.4" fill="#6cd870" fill-opacity="0.8"/>
<circle cx="83.3" cy="300.4" r="0.4" fill="#6cd870" fill-opacity="0.8"/>
<circle cx="75.3" cy="304.0" r="0.4" fill="#6cd870" fill-opacity="0.8"/>
<circle cx="67.3" cy="299.4" r="0.4" fill="#6cd870" fill-opacity="0.8"/>
<circle cx="67.5" cy="297.2" r="0.4" fill="#6cd870" fill-opacity="0.8"/>
<circle cx="64.0" cy="285.9" r="0.4" fill="#6cd870" fill-opacity="0.8"/>
<circle cx="60.2" cy="283.6" r="0.4" fill="#6cd870" fill-opacity="0.8"/>
<circle cx="71.1" cy="322.8" r="0.45" fill="#6cd870" fill-opacity="0.8"/>
<circle cx="72.0" cy="319.5" r="0.45" fill="#6cd870" fill-opacity="0.8"/>
<circle cx="75.0" cy="315.5" r="0.45" fill="#6cd870" fill-opacity="0.8"/>
<circle cx="75.7" cy="314.0" r="0.45" fill="#6cd870" fill-opacity="0.8"/>
<circle cx="77.8" cy="311.5" r="0.45" fill="#6cd870" fill-opacity="0.8"/>
<circle cx="81.4" cy="309.5" r="0.45" fill="#6cd870" fill-opacity="0.8"/>
<circle cx="84.5" cy="308.8" r="0.45" fill="#6cd870" fill-opacity="0.8"/>
<circle cx="86.2" cy="309.9" r="0.45" fill="#6cd870" fill-opacity="0.8"/>
<circle cx="87.5" cy="311.2" r="0.45" fill="#6cd870" fill-opacity="0.8"/>
<circle cx="88.2" cy="313.5" r="0.45" fill="#6cd870" fill-opacity="0.8"/>
<circle cx="85.9" cy="316.8" r="0.45" fill="#6cd870" fill-opacity="0.8"/>
<circle cx="84.7" cy="319.6" r="0.45" fill="#6cd870" fill-opacity="0.8"/>
<circle cx="83.4" cy="321.7" r="0.45" fill="#6cd870" fill-opacity="0.8"/>
<circle cx="84.7" cy="322.6" r="0.45" fill="#6cd870" fill-opacity="0.8"/>
<circle cx="87.1" cy="324.4" r="0.45" fill="#6cd870" fill-opacity="0.8"/>
<circle cx="87.1" cy="328.3" r="0.45" fill="#6cd870" fill-opacity="0.8"/>
<circle cx="86.3" cy="330.3" r="0.45" fill="#6cd870" fill-opacity="0.8"/>
<circle cx="84.6" cy="333.9" r="0.45" fill="#6cd870" fill-opacity="0.8"/>
<circle cx="81.7" cy="334.4" r="0.45" fill="#6cd870" fill-opacity="0.8"/>
<circle cx="80.9" cy="335.6" r="0.45" fill="#6cd870" fill-opacity="0.8"/>
<circle cx="76.6" cy="335.4" r="0.45" fill="#6cd870" fill-opacity="0.8"/>
<circle cx="74.5" cy="335.2" r="0.45" fill="#6cd870" fill-opacity="0.8"/>
<circle cx="72.2" cy="334.3" r="0.45" fill="#6cd870" fill-opacity="0.8"/>
<circle cx="71.0" cy="330.8" r="0.45" fill="#6cd870" fill-opacity="0.8"/>
<circle cx="71.8" cy="326.7" r="0.45" fill="#6cd870" fill-opacity="0.8"/>
<circle cx="71.2" cy="325.3" r="0.45" fill="#6cd870" fill-opacity="0.8"/>
<circle cx="67.9" cy="318.9" r="0.4" fill="#6cd870" fill-opacity="0.8"/>
<circle cx="73.1" cy="311.2" r="0.4" fill="#6cd870" fill-opacity="0.8"/>
<circle cx="82.1" cy="305.9" r="0.4" fill="#6cd870" fill-opacity="0.8"/>
<circle cx="88.4" cy="313.4" r="0.4" fill="#6cd870" fill-opacity="0.8"/>
<circle cx="82.4" cy="315.7" r="0.4" fill="#6cd870" fill-opacity="0.8"/>
<circle cx="80.2" cy="323.9" r="0.4" fill="#6cd870" fill-opacity="0.8"/>
<circle cx="84.4" cy="327.3" r="0.4" fill="#6cd870" fill-opacity="0.8"/>
<circle cx="83.0" cy="335.0" r="0.4" fill="#6cd870" fill-opacity="0.8"/>
<circle cx="76.1" cy="335.8" r="0.4" fill="#6cd870" fill-opacity="0.8"/>
<circle cx="70.3" cy="332.3" r="0.4" fill="#6cd870" fill-opacity="0.8"/>
<circle cx="68.0" cy="324.4" r="0.4" fill="#6cd870" fill-opacity="0.8"/>
<circle cx="76.3" cy="304.2" r="0.45" fill="#6cd870" fill-opacity="0.8"/>
<circle cx="80.1" cy="303.6" r="0.45" fill="#6cd870" fill-opacity="0.8"/>
<circle cx="80.2" cy="303.7" r="0.45" fill="#6cd870" fill-opacity="0.8"/>
<circle cx="82.2" cy="303.0" r="0.45" fill="#6cd870" fill-opacity="0.8"/>
<circle cx="84.1" cy="305.4" r="0.45" fill="#6cd870" fill-opacity="0.8"/>
<circle cx="86.5" cy="306.6" r="0.45" fill="#6cd870" fill-opacity="0.8"/>
<circle cx="86.9" cy="307.9" r="0.45" fill="#6cd870" fill-opacity="0.8"/>
<circle cx="88.0" cy="310.4" r="0.45" fill="#6cd870" fill-opacity="0.8"/>
<circle cx="85.4" cy="310.2" r="0.45" fill="#6cd870" fill-opacity="0.8"/>
<circle cx="83.3" cy="313.3" r="0.45" fill="#6cd870" fill-opacity="0.8"/>
<circle cx="81.3" cy="311.5" r="0.45" fill="#6cd870" fill-opacity="0.8"/>
<circle cx="80.2" cy="311.0" r="0.45" fill="#6cd870" fill-opacity="0.8"/>
<circle cx="78.3" cy="309.2" r="0.45" fill="#6cd870" fill-opacity="0.8"/>
<circle cx="76.9" cy="308.2" r="0.45" fill="#6cd870" fill-opacity="0.8"/>
<circle cx="75.8" cy="306.4" r="0.4" fill="#6cd870" fill-opacity="0.8"/>
<circle cx="78.2" cy="303.0" r="0.4" fill="#6cd870" fill-opacity="0.8"/>
<circle cx="86.9" cy="308.9" r="0.4" fill="#6cd870" fill-opacity="0.8"/>
<circle cx="84.2" cy="312.3" r="0.4" fill="#6cd870" fill-opacity="0.8"/>
<circle cx="82.8" cy="309.9" r="0.4" fill="#6cd870" fill-opacity="0.8"/>
<circle cx="79.0" cy="306.8" r="0.4" fill="#6cd870" fill-opacity="0.8"/>
<circle cx="84.0" cy="326.0" r="0.45" fill="#6cd870" fill-opacity="0.8"/>
<circle cx="84.2" cy="324.2" r="0.45" fill="#6cd870" fill-opacity="0.8"/>
<circle cx="87.4" cy="322.6" r="0.45" fill="#6cd870" fill-opacity="0.8"/>
<circle cx="90.2" cy="323.8" r="0.45" fill="#6cd870" fill-opacity="0.8"/>
<circle cx="92.3" cy="324.8" r="0.45" fill="#6cd870" fill-opacity="0.8"/>
<circle cx="92.5" cy="325.1" r="0.45" fill="#6cd870" fill-opacity="0.8"/>
<circle cx="93.9" cy="328.2" r="0.45" fill="#6cd870" fill-opacity="0.8"/>
<circle cx="92.3" cy="329.2" r="0.45" fill="#6cd870" fill-opacity="0.8"/>
<circle cx="90.5" cy="331.2" r="0.45" fill="#6cd870" fill-opacity="0.8"/>
<circle cx="88.3" cy="332.4" r="0.45" fill="#6cd870" fill-opacity="0.8"/>
<circle cx="86.7" cy="332.1" r="0.45" fill="#6cd870" fill-opacity="0.8"/>
<circle cx="84.2" cy="328.6" r="0.45" fill="#6cd870" fill-opacity="0.8"/>
<circle cx="87.1" cy="324.4" r="0.4" fill="#6cd870" fill-opacity="0.8"/>
<circle cx="86.9" cy="321.3" r="0.4" fill="#6cd870" fill-opacity="0.8"/>
<circle cx="92.2" cy="323.0" r="0.4" fill="#6cd870" fill-opacity="0.8"/>
<circle cx="90.3" cy="329.0" r="0.4" fill="#6cd870" fill-opacity="0.8"/>
<circle cx="84.8" cy="330.4" r="0.4" fill="#6cd870" fill-opacity="0.8"/>
<circle cx="94.9" cy="281.1" r="0.45" fill="#6cd870" fill-opacity="0.8"/>
<circle cx="96.1" cy="279.7" r="0.45" fill="#6cd870" fill-opacity="0.8"/>
<circle cx="97.8" cy="276.5" r="0.45" fill="#6cd870" fill-opacity="0.8"/>
<circle cx="99.0" cy="276.3" r="0.45" fill="#6cd870" fill-opacity="0.8"/>
<circle cx="101.6" cy="275.2" r="0.45" fill="#6cd870" fill-opacity="0.8"/>
<circle cx="102.4" cy="275.1" r="0.45" fill="#6cd870" fill-opacity="0.8"/>
<circle cx="104.4" cy="275.4" r="0.45" fill="#6cd870" fill-opacity="0.8"/>
<circle cx="106.2" cy="275.4" r="0.45" fill="#6cd870" fill-opacity="0.8"/>
<circle cx="107.2" cy="274.1" r="0.45" fill="#6cd870" fill-opacity="0.8"/>
<circle cx="109.7" cy="276.3" r="0.45" fill="#6cd870" fill-opacity="0.8"/>
<circle cx="109.3" cy="277.1" r="0.45" fill="#6cd870" fill-opacity="0.8"/>
<circle cx="108.2" cy="277.1" r="0.45" fill="#6cd870" fill-opacity="0.8"/>
<circle cx="107.0" cy="278.4" r="0.45" fill="#6cd870" fill-opacity="0.8"/>
<circle cx="105.6" cy="280.0" r="0.45" fill="#6cd870" fill-opacity="0.8"/>
<circle cx="102.5" cy="280.6" r="0.45" fill="#6cd870" fill-opacity="0.8"/>
<circle cx="103.5" cy="283.0" r="0.45" fill="#6cd870" fill-opacity="0.8"/>
<circle cx="101.8" cy="285.0" r="0.45" fill="#6cd870" fill-opacity="0.8"/>
<circle cx="100.9" cy="286.5" r="0.45" fill="#6cd870" fill-opacity="0.8"/>
<circle cx="100.3" cy="288.5" r="0.45" fill="#6cd870" fill-opacity="0.8"/>
<circle cx="99.8" cy="289.3" r="0.45" fill="#6cd870" fill-opacity="0.8"/>
<circle cx="98.7" cy="290.4" r="0.45" fill="#6cd870" fill-opacity="0.8"/>
<circle cx="97.4" cy="288.8" r="0.45" fill="#6cd870" fill-opacity="0.8"/>
<circle cx="95.5" cy="286.7" r="0.45" fill="#6cd870" fill-opacity="0.8"/>
<circle cx="94.7" cy="284.9" r="0.45" fill="#6cd870" fill-opacity="0.8"/>
<circle cx="94.5" cy="283.6" r="0.45" fill="#6cd870" fill-opacity="0.8"/>
<circle cx="95.5" cy="283.1" r="0.45" fill="#6cd870" fill-opacity="0.8"/>
<circle cx="93.9" cy="277.2" r="0.4" fill="#6cd870" fill-opacity="0.8"/>
<circle cx="98.3" cy="276.3" r="0.4" fill="#6cd870" fill-opacity="0.8"/>
<circle cx="100.5" cy="272.8" r="0.4" fill="#6cd870" fill-opacity="0.8"/>
<circle cx="102.5" cy="276.2" r="0.4" fill="#6cd870" fill-opacity="0.8"/>
<circle cx="108.9" cy="282.7" r="0.4" fill="#6cd870" fill-opacity="0.8"/>
<circle cx="105.6" cy="279.0" r="0.4" fill="#6cd870" fill-opacity="0.8"/>
<circle cx="106.0" cy="283.4" r="0.4" fill="#6cd870" fill-opacity="0.8"/>
<circle cx="101.1" cy="286.9" r="0.4" fill="#6cd870" fill-opacity="0.8"/>
<circle cx="96.3" cy="292.6" r="0.4" fill="#6cd870" fill-opacity="0.8"/>
<circle cx="97.3" cy="289.7" r="0.4" fill="#6cd870" fill-opacity="0.8"/>
<circle cx="93.7" cy="282.8" r="0.4" fill="#6cd870" fill-opacity="0.8"/>
<circle cx="105.9" cy="297.6" r="0.45" fill="#6cd870" fill-opacity="0.8"/>
<circle cx="106.2" cy="295.9" r="0.45" fill="#6cd870" fill-opacity="0.8"/>
<circle cx="108.8" cy="295.2" r="0.45" fill="#6cd870" fill-opacity="0.8"/>
<circle cx="108.8" cy="294.2" r="0.45" fill="#6cd870" fill-opacity="0.8"/>
<circle cx="110.4" cy="293.0" r="0.45" fill="#6cd870" fill-opacity="0.8"/>
<circle cx="111.4" cy="295.7" r="0.45" fill="#6cd870" fill-opacity="0.8"/>
<circle cx="114.4" cy="296.6" r="0.45" fill="#6cd870" fill-opacity="0.8"/>
<circle cx="113.7" cy="298.1" r="0.45" fill="#6cd870" fill-opacity="0.8"/>
<circle cx="115.8" cy="300.3" r="0.45" fill="#6cd870" fill-opacity="0.8"/>
<circle cx="112.8" cy="300.4" r="0.45" fill="#6cd870" fill-opacity="0.8"/>
<circle cx="111.2" cy="303.9" r="0.45" fill="#6cd870" fill-opacity="0.8"/>
<circle cx="111.8" cy="304.4" r="0.45" fill="#6cd870" fill-opacity="0.8"/>
<circle cx="109.5" cy="305.5" r="0.45" fill="#6cd870" fill-opacity="0.8"/>
<circle cx="107.9" cy="307.6" r="0.45" fill="#6cd870" fill-opacity="0.8"/>
<circle cx="107.4" cy="308.2" r="0.45" fill="#6cd870" fill-opacity="0.8"/>
<circle cx="106.1" cy="305.9" r="0.45" fill="#6cd870" fill-opacity="0.8"/>
<circle cx="106.6" cy="304.4" r="0.45" fill="#6cd870" fill-opacity="0.8"/>
<circle cx="106.8" cy="302.8" r="0.45" fill="#6cd870" fill-opacity="0.8"/>
<circle cx="105.7" cy="300.9" r="0.45" fill="#6cd870" fill-opacity="0.8"/>
<circle cx="106.8" cy="297.5" r="0.45" fill="#6cd870" fill-opacity="0.8"/>
<circle cx="110.4" cy="298.1" r="0.4" fill="#6cd870" fill-opacity="0.8"/>
<circle cx="110.4" cy="289.9" r="0.4" fill="#6cd870" fill-opacity="0.8"/>
<circle cx="110.6" cy="294.3" r="0.4" fill="#6cd870" fill-opacity="0.8"/>
<circle cx="116.7" cy="295.8" r="0.4" fill="#6cd870" fill-opacity="0.8"/>
<circle cx="109.7" cy="298.7" r="0.4" fill="#6cd870" fill-opacity="0.8"/>
<circle cx="108.9" cy="307.2" r="0.4" fill="#6cd870" fill-opacity="0.8"/>
<circle cx="103.4" cy="305.3" r="0.4" fill="#6cd870" fill-opacity="0.8"/>
<circle cx="107.5" cy="305.1" r="0.4" fill="#6cd870" fill-opacity="0.8"/>
<circle cx="95.8" cy="310.9" r="0.45" fill="#6cd870" fill-opacity="0.8"/>
<circle cx="95.5" cy="309.6" r="0.45" fill="#6cd870" fill-opacity="0.8"/>
<circle cx="97.2" cy="309.4" r="0.45" fill="#6cd870" fill-opacity="0.8"/>
<circle cx="99.3" cy="309.5" r="0.45" fill="#6cd870" fill-opacity="0.8"/>
<circle cx="101.3" cy="307.4" r="0.45" fill="#6cd870" fill-opacity="0.8"/>
<circle cx="103.6" cy="308.7" r="0.45" fill="#6cd870" fill-opacity="0.8"/>
<circle cx="103.8" cy="308.5" r="0.45" fill="#6cd870" fill-opacity="0.8"/>
<circle cx="102.4" cy="309.8" r="0.45" fill="#6cd870" fill-opacity="0.8"/>
<circle cx="103.3" cy="311.5" r="0.45" fill="#6cd870" fill-opacity="0.8"/>
<circle cx="101.3" cy="313.4" r="0.45" fill="#6cd870" fill-opacity="0.8"/>
<circle cx="101.2" cy="314.6" r="0.45" fill="#6cd870" fill-opacity="0.8"/>
<circle cx="99.7" cy="315.7" r="0.45" fill="#6cd870" fill-opacity="0.8"/>
<circle cx="97.1" cy="315.6" r="0.45" fill="#6cd870" fill-opacity="0.8"/>
<circle cx="95.9" cy="314.8" r="0.45" fill="#6cd870" fill-opacity="0.8"/>
<circle cx="95.9" cy="313.4" r="0.45" fill="#6cd870" fill-opacity="0.8"/>
<circle cx="95.9" cy="312.2" r="0.45" fill="#6cd870" fill-opacity="0.8"/>
<circle cx="97.8" cy="313.0" r="0.4" fill="#6cd870" fill-opacity="0.8"/>
<circle cx="98.7" cy="307.6" r="0.4" fill="#6cd870" fill-opacity="0.8"/>
<circle cx="101.0" cy="307.0" r="0.4" fill="#6cd870" fill-opacity="0.8"/>
<circle cx="102.7" cy="311.2" r="0.4" fill="#6cd870" fill-opacity="0.8"/>
<circle cx="107.7" cy="315.6" r="0.4" fill="#6cd870" fill-opacity="0.8"/>
<circle cx="98.7" cy="312.9" r="0.4" fill="#6cd870" fill-opacity="0.8"/>
<circle cx="93.8" cy="311.5" r="0.4" fill="#6cd870" fill-opacity="0.8"/>
<circle cx="115.2" cy="304.3" r="0.45" fill="#6cd870" fill-opacity="0.8"/>
<circle cx="117.2" cy="303.0" r="0.45" fill="#6cd870" fill-opacity="0.8"/>
<circle cx="118.4" cy="300.9" r="0.45" fill="#6cd870" fill-opacity="0.8"/>
<circle cx="119.6" cy="301.6" r="0.45" fill="#6cd870" fill-opacity="0.8"/>
<circle cx="121.4" cy="301.4" r="0.45" fill="#6cd870" fill-opacity="0.8"/>
<circle cx="122.9" cy="301.4" r="0.45" fill="#6cd870" fill-opacity="0.8"/>
<circle cx="122.8" cy="301.9" r="0.45" fill="#6cd870" fill-opacity="0.8"/>
<circle cx="123.4" cy="304.4" r="0.45" fill="#6cd870" fill-opacity="0.8"/>
<circle cx="125.9" cy="305.7" r="0.45" fill="#6cd870" fill-opacity="0.8"/>
<circle cx="126.2" cy="306.4" r="0.45" fill="#6cd870" fill-opacity="0.8"/>
<circle cx="128.7" cy="308.6" r="0.45" fill="#6cd870" fill-opacity="0.8"/>
<circle cx="128.1" cy="310.0" r="0.45" fill="#6cd870" fill-opacity="0.8"/>
<circle cx="127.5" cy="309.9" r="0.45" fill="#6cd870" fill-opacity="0.8"/>
<circle cx="128.6" cy="312.4" r="0.45" fill="#6cd870" fill-opacity="0.8"/>
<circle cx="128.5" cy="314.7" r="0.45" fill="#6cd870" fill-opacity="0.8"/>
<circle cx="129.8" cy="315.7" r="0.45" fill="#6cd870" fill-opacity="0.8"/>
<circle cx="126.6" cy="317.4" r="0.45" fill="#6cd870" fill-opacity="0.8"/>
<circle cx="124.9" cy="318.5" r="0.45" fill="#6cd870" fill-opacity="0.8"/>
<circle cx="124.2" cy="317.4" r="0.45" fill="#6cd870" fill-opacity="0.8"/>
<circle cx="121.4" cy="317.3" r="0.45" fill="#6cd870" fill-opacity="0.8"/>
<circle cx="119.7" cy="315.5" r="0.45" fill="#6cd870" fill-opacity="0.8"/>
<circle cx="116.6" cy="313.8" r="0.45" fill="#6cd870" fill-opacity="0.8"/>
<circle cx="116.3" cy="313.8" r="0.45" fill="#6cd870" fill-opacity="0.8"/>
<circle cx="114.9" cy="310.7" r="0.45" fill="#6cd870" fill-opacity="0.8"/>
<circle cx="114.1" cy="309.7" r="0.45" fill="#6cd870" fill-opacity="0.8"/>
<circle cx="113.6" cy="306.9" r="0.45" fill="#6cd870" fill-opacity="0.8"/>
<circle cx="116.6" cy="306.1" r="0.4" fill="#6cd870" fill-opacity="0.8"/>
<circle cx="118.6" cy="303.0" r="0.4" fill="#6cd870" fill-opacity="0.8"/>
<circle cx="121.4" cy="301.5" r="0.4" fill="#6cd870" fill-opacity="0.8"/>
<circle cx="125.4" cy="306.2" r="0.4" fill="#6cd870" fill-opacity="0.8"/>
<circle cx="127.4" cy="307.3" r="0.4" fill="#6cd870" fill-opacity="0.8"/>
<circle cx="128.4" cy="310.6" r="0.4" fill="#6cd870" fill-opacity="0.8"/>
<circle cx="132.9" cy="317.2" r="0.4" fill="#6cd870" fill-opacity="0.8"/>
<circle cx="125.0" cy="323.1" r="0.4" fill="#6cd870" fill-opacity="0.8"/>
<circle cx="122.6" cy="313.0" r="0.4" fill="#6cd870" fill-opacity="0.8"/>
<circle cx="116.9" cy="314.8" r="0.4" fill="#6cd870" fill-opacity="0.8"/>
<circle cx="118.6" cy="310.4" r="0.4" fill="#6cd870" fill-opacity="0.8"/>
<circle cx="114.8" cy="225.2" r="0.45" fill="#626ab2" fill-opacity="0.8"/>
<circle cx="114.3" cy="224.5" r="0.45" fill="#626ab2" fill-opacity="0.8"/>
<circle cx="116.3" cy="222.7" r="0.45" fill="#626ab2" fill-opacity="0.8"/>
<circle cx="117.9" cy="222.4" r="0.45" fill="#626ab2" fill-opacity="0.8"/>
<circle cx="120.4" cy="222.6" r="0.45" fill="#626ab2" fill-opacity="0.8"/>
<circle cx="122.1" cy="221.9" r="0.45" fill="#626ab2" fill-opacity="0.8"/>
<circle cx="124.6" cy="224.3" r="0.45" fill="#626ab2" fill-opacity="0.8"/>
<circle cx="125.3" cy="225.1" r="0.45" fill="#626ab2" fill-opacity="0.8"/>
<circle cx="126.9" cy="226.3" r="0.45" fill="#626ab2" fill-opacity="0.8"/>
<circle cx="128.2" cy="227.1" r="0.45" fill="#626ab2" fill-opacity="0.8"/>
<circle cx="129.1" cy="230.0" r="0.45" fill="#626ab2" fill-opacity="0.8"/>
<circle cx="128.2" cy="232.4" r="0.45" fill="#626ab2" fill-opacity="0.8"/>
<circle cx="129.6" cy="234.0" r="0.45" fill="#626ab2" fill-opacity="0.8"/>
<circle cx="129.2" cy="234.8" r="0.45" fill="#626ab2" fill-opacity="0.8"/>
<circle cx="127.3" cy="235.2" r="0.45" fill="#626ab2" fill-opacity="0.8"/>
<circle cx="126.3" cy="236.6" r="0.45" fill="#626ab2" fill-opacity="0.8"/>
<circle cx="125.7" cy="237.7" r="0.45" fill="#626ab2" fill-opacity="0.8"/>
<circle cx="122.8" cy="239.6" r="0.45" fill="#626ab2" fill-opacity="0.8"/>
<circle cx="123.6" cy="239.1" r="0.45" fill="#626ab2" fill-opacity="0.8"/>
<circle cx="120.8" cy="240.1" r="0.45" fill="#626ab2" fill-opacity="0.8"/>
<circle cx="118.9" cy="239.9" r="0.45" fill="#626ab2" fill-opacity="0.8"/>
<circle cx="117.1" cy="238.8" r="0.45" fill="#626ab2" fill-opacity="0.8"/>
<circle cx="116.1" cy="238.2" r="0.45" fill="#626ab2" fill-opacity="0.8"/>
<circle cx="115.5" cy="236.3" r="0.45" fill="#626ab2" fill-opacity="0.8"/>
<circle cx="114.7" cy="235.6" r="0.45" fill="#626ab2" fill-opacity="0.8"/>
<circle cx="114.0" cy="234.4" r="0.45" fill="#626ab2" fill-opacity="0.8"/>
<circle cx="112.8" cy="235.3" r="0.45" fill="#626ab2" fill-opacity="0.8"/>
<circle cx="111.5" cy="234.3" r="0.45" fill="#626ab2" fill-opacity="0.8"/>
<circle cx="110.0" cy="234.2" r="0.45" fill="#626ab2" fill-opacity="0.8"/>
<circle cx="111.6" cy="234.7" r="0.45" fill="#626ab2" fill-opacity="0.8"/>
<circle cx="112.4" cy="232.5" r="0.45" fill="#626ab2" fill-opacity="0.8"/>
<circle cx="114.0" cy="231.9" r="0.45" fill="#626ab2" fill-opacity="0.8"/>
<circle cx="114.2" cy="229.9" r="0.45" fill="#626ab2" fill-opacity="0.8"/>
<circle cx="114.5" cy="228.5" r="0.45" fill="#626ab2" fill-opacity="0.8"/>
<circle cx="111.7" cy="223.7" r="0.4" fill="#626ab2" fill-opacity="0.8"/>
<circle cx="118.0" cy="220.2" r="0.4" fill="#626ab2" fill-opacity="0.8"/>
<circle cx="122.5" cy="223.4" r="0.4" fill="#626ab2" fill-opacity="0.8"/>
<circle cx="125.7" cy="222.9" r="0.4" fill="#626ab2" fill-opacity="0.8"/>
<circle cx="128.7" cy="228.7" r="0.4" fill="#626ab2" fill-opacity="0.8"/>
<circle cx="128.9" cy="231.8" r="0.4" fill="#626ab2" fill-opacity="0.8"/>
<circle cx="129.2" cy="232.8" r="0.4" fill="#626ab2" fill-opacity="0.8"/>
<circle cx="122.7" cy="238.7" r="0.4" fill="#626ab2" fill-opacity="0.8"/>
<circle cx="120.8" cy="238.7" r="0.4" fill="#626ab2" fill-opacity="0.8"/>
<circle cx="116.8" cy="236.3" r="0.4" fill="#626ab2" fill-opacity="0.8"/>
<circle cx="115.3" cy="238.8" r="0.4" fill="#626ab2" fill-opacity="0.8"/>
<circle cx="109.7" cy="235.4" r="0.4" fill="#626ab2" fill-opacity="0.8"/>
<circle cx="110.5" cy="235.0" r="0.4" fill="#626ab2" fill-opacity="0.8"/>
<circle cx="117.4" cy="229.4" r="0.4" fill="#626ab2" fill-opacity="0.8"/>
<circle cx="113.5" cy="247.5" r="0.45" fill="#626ab2" fill-opacity="0.8"/>
<circle cx="117.8" cy="247.0" r="0.45" fill="#626ab2" fill-opacity="0.8"/>
<circle cx="120.8" cy="244.6" r="0.45" fill="#626ab2" fill-opacity="0.8"/>
<circle cx="123.4" cy="246.9" r="0.45" fill="#626ab2" fill-opacity="0.8"/>
<circle cx="126.2" cy="247.5" r="0.45" fill="#626ab2" fill-opacity="0.8"/>
<circle cx="130.0" cy="248.1" r="0.45" fill="#626ab2" fill-opacity="0.8"/>
<circle cx="130.9" cy="248.8" r="0.45" fill="#626ab2" fill-opacity="0.8"/>
<circle cx="130.7" cy="251.5" r="0.45" fill="#626ab2" fill-opacity="0.8"/>
<circle cx="132.3" cy="254.5" r="0.45" fill="#626ab2" fill-opacity="0.8"/>
<circle cx="133.3" cy="257.2" r="0.45" fill="#626ab2" fill-opacity="0.8"/>
<circle cx="133.0" cy="260.3" r="0.45" fill="#626ab2" fill-opacity="0.8"/>
<circle cx="132.3" cy="263.5" r="0.45" fill="#626ab2" fill-opacity="0.8"/>
<circle cx="131.6" cy="264.5" r="0.45" fill="#626ab2" fill-opacity="0.8"/>
<circle cx="129.8" cy="265.3" r="0.45" fill="#626ab2" fill-opacity="0.8"/>
<circle cx="128.8" cy="266.7" r="0.45" fill="#626ab2" fill-opacity="0.8"/>
<circle cx="124.7" cy="267.0" r="0.45" fill="#626ab2" fill-opacity="0.8"/>
<circle cx="122.4" cy="267.4" r="0.45" fill="#626ab2" fill-opacity="0.8"/>
<circle cx="120.2" cy="267.2" r="0.45" fill="#626ab2" fill-opacity="0.8"/>
<circle cx="117.3" cy="267.8" r="0.45" fill="#626ab2" fill-opacity="0.8"/>
<circle cx="114.9" cy="267.0" r="0.45" fill="#626ab2" fill-opacity="0.8"/>
<circle cx="114.7" cy="265.8" r="0.45" fill="#626ab2" fill-opacity="0.8"/>
<circle cx="114.0" cy="263.0" r="0.45" fill="#626ab2" fill-opacity="0.8"/>
<circle cx="112.7" cy="259.3" r="0.45" fill="#626ab2" fill-opacity="0.8"/>
<circle cx="113.1" cy="258.8" r="0.45" fill="#626ab2" fill-opacity="0.8"/>
<circle cx="111.5" cy="256.3" r="0.45" fill="#626ab2" fill-opacity="0.8"/>
<circle cx="110.8" cy="253.9" r="0.45" fill="#626ab2" fill-opacity="0.8"/>
<circle cx="108.8" cy="253.8" r="0.45" fill="#626ab2" fill-opacity="0.8"/>
<circle cx="109.9" cy="250.5" r="0.45" fill="#626ab2" fill-opacity="0.8"/>
<circle cx="109.3" cy="249.9" r="0.45" fill="#626ab2" fill-opacity="0.8"/>
<circle cx="112.1" cy="247.4" r="0.45" fill="#626ab2" fill-opacity="0.8"/>
<circle cx="114.3" cy="249.3" r="0.4" fill="#626ab2" fill-opacity="0.8"/>
<circle cx="116.3" cy="248.2" r="0.4" fill="#626ab2" fill-opacity="0.8"/>
<circle cx="130.5" cy="243.0" r="0.4" fill="#626ab2" fill-opacity="0.8"/>
<circle cx="133.7" cy="249.1" r="0.4" fill="#626ab2" fill-opacity="0.8"/>
<circle cx="135.4" cy="260.9" r="0.4" fill="#626ab2" fill-opacity="0.8"/>
<circle cx="135.6" cy="263.8" r="0.4" fill="#626ab2" fill-opacity="0.8"/>
<circle cx="125.4" cy="269.6" r="0.4" fill="#626ab2" fill-opacity="0.8"/>
<circle cx="116.7" cy="266.3" r="0.4" fill="#626ab2" fill-opacity="0.8"/>
<circle cx="114.0" cy="265.3" r="0.4" fill="#626ab2" fill-opacity="0.8"/>
<circle cx="110.8" cy="260.1" r="0.4" fill="#626ab2" fill-opacity="0.8"/>
<circle cx="111.4" cy="255.3" r="0.4" fill="#626ab2" fill-opacity="0.8"/>
<circle cx="113.6" cy="249.2" r="0.4" fill="#626ab2" fill-opacity="0.8"/>
<circle cx="98.0" cy="263.0" r="0.45" fill="#626ab2" fill-opacity="0.8"/>
<circle cx="98.5" cy="260.4" r="0.45" fill="#626ab2" fill-opacity="0.8"/>
<circle cx="99.5" cy="259.9" r="0.45" fill="#626ab2" fill-opacity="0.8"/>
<circle cx="101.3" cy="258.0" r="0.45" fill="#626ab2" fill-opacity="0.8"/>
<circle cx="103.6" cy="256.3" r="0.45" fill="#626ab2" fill-opacity="0.8"/>
<circle cx="103.7" cy="254.4" r="0.45" fill="#626ab2" fill-opacity="0.8"/>
<circle cx="105.7" cy="253.1" r="0.45" fill="#626ab2" fill-opacity="0.8"/>
<circle cx="106.9" cy="253.2" r="0.45" fill="#626ab2" fill-opacity="0.8"/>
<circle cx="109.8" cy="254.3" r="0.45" fill="#626ab2" fill-opacity="0.8"/>
<circle cx="110.8" cy="258.4" r="0.45" fill="#626ab2" fill-opacity="0.8"/>
<circle cx="113.2" cy="261.7" r="0.45" fill="#626ab2" fill-opacity="0.8"/>
<circle cx="114.2" cy="263.2" r="0.45" fill="#626ab2" fill-opacity="0.8"/>
<circle cx="113.6" cy="266.2" r="0.45" fill="#626ab2" fill-opacity="0.8"/>
<circle cx="112.7" cy="267.8" r="0.45" fill="#626ab2" fill-opacity="0.8"/>
<circle cx="111.7" cy="270.1" r="0.45" fill="#626ab2" fill-opacity="0.8"/>
<circle cx="108.8" cy="271.4" r="0.45" fill="#626ab2" fill-opacity="0.8"/>
<circle cx="105.9" cy="271.4" r="0.45" fill="#626ab2" fill-opacity="0.8"/>
<circle cx="103.8" cy="271.1" r="0.45" fill="#626ab2" fill-opacity="0.8"/>
<circle cx="100.9" cy="269.2" r="0.45" fill="#626ab2" fill-opacity="0.8"/>
<circle cx="97.7" cy="268.6" r="0.45" fill="#626ab2" fill-opacity="0.8"/>
<circle cx="97.5" cy="268.6" r="0.45" fill="#626ab2" fill-opacity="0.8"/>
<circle cx="96.1" cy="265.8" r="0.45" fill="#626ab2" fill-opacity="0.8"/>
<circle cx="95.3" cy="261.7" r="0.4" fill="#626ab2" fill-opacity="0.8"/>
<circle cx="99.8" cy="260.7" r="0.4" fill="#626ab2" fill-opacity="0.8"/>
<circle cx="105.4" cy="257.4" r="0.4" fill="#626ab2" fill-opacity="0.8"/>
<circle cx="106.3" cy="255.7" r="0.4" fill="#626ab2" fill-opacity="0.8"/>
<circle cx="114.6" cy="261.3" r="0.4" fill="#626ab2" fill-opacity="0.8"/>
<circle cx="114.5" cy="265.4" r="0.4" fill="#626ab2" fill-opacity="0.8"/>
<circle cx="106.6" cy="269.9" r="0.4" fill="#626ab2" fill-opacity="0.8"/>
<circle cx="100.3" cy="276.7" r="0.4" fill="#626ab2" fill-opacity="0.8"/>
<circle cx="96.1" cy="271.3" r="0.4" fill="#626ab2" fill-opacity="0.8"/>
<circle cx="114.9" cy="271.2" r="0.45" fill="#626ab2" fill-opacity="0.8"/>
<circle cx="117.0" cy="269.7" r="0.45" fill="#626ab2" fill-opacity="0.8"/>
<circle cx="119.7" cy="270.1" r="0.45" fill="#626ab2" fill-opacity="0.8"/>
<circle cx="121.5" cy="270.5" r="0.45" fill="#626ab2" fill-opacity="0.8"/>
<circle cx="126.1" cy="270.7" r="0.45" fill="#626ab2" fill-opacity="0.8"/>
<circle cx="129.6" cy="269.9" r="0.45" fill="#626ab2" fill-opacity="0.8"/>
<circle cx="131.6" cy="270.3" r="0.45" fill="#626ab2" fill-opacity="0.8"/>
<circle cx="133.2" cy="270.9" r="0.45" fill="#626ab2" fill-opacity="0.8"/>
<circle cx="134.8" cy="270.2" r="0.45" fill="#626ab2" fill-opacity="0.8"/>
<circle cx="137.1" cy="271.8" r="0.45" fill="#626ab2" fill-opacity="0.8"/>
<circle cx="137.2" cy="273.3" r="0.45" fill="#626ab2" fill-opacity="0.8"/>
<circle cx="137.4" cy="275.8" r="0.45" fill="#626ab2" fill-opacity="0.8"/>
<circle cx="137.0" cy="277.8" r="0.45" fill="#626ab2" fill-opacity="0.8"/>
<circle cx="135.7" cy="280.3" r="0.45" fill="#626ab2" fill-opacity="0.8"/>
<circle cx="133.5" cy="282.0" r="0.45" fill="#626ab2" fill-opacity="0.8"/>
<circle cx="131.4" cy="282.6" r="0.45" fill="#626ab2" fill-opacity="0.8"/>
<circle cx="127.6" cy="284.2" r="0.45" fill="#626ab2" fill-opacity="0.8"/>
<circle cx="126.3" cy="283.7" r="0.45" fill="#626ab2" fill-opacity="0.8"/>
<circle cx="125.0" cy="281.9" r="0.45" fill="#626ab2" fill-opacity="0.8"/>
<circle cx="122.5" cy="281.2" r="0.45" fill="#626ab2" fill-opacity="0.8"/>
<circle cx="120.8" cy="280.0" r="0.45" fill="#626ab2" fill-opacity="0.8"/>
<circle cx="120.2" cy="278.1" r="0.45" fill="#626ab2" fill-opacity="0.8"/>
<circle cx="118.6" cy="278.1" r="0.45" fill="#626ab2" fill-opacity="0.8"/>
<circle cx="117.1" cy="277.0" r="0.45" fill="#626ab2" fill-opacity="0.8"/>
<circle cx="116.2" cy="274.3" r="0.45" fill="#626ab2" fill-opacity="0.8"/>
<circle cx="114.2" cy="273.1" r="0.45" fill="#626ab2" fill-opacity="0.8"/>
<circle cx="115.6" cy="272.7" r="0.4" fill="#626ab2" fill-opacity="0.8"/>
<circle cx="122.5" cy="272.2" r="0.4" fill="#626ab2" fill-opacity="0.8"/>
<circle cx="127.9" cy="269.6" r="0.4" fill="#626ab2" fill-opacity="0.8"/>
<circle cx="136.5" cy="269.6" r="0.4" fill="#626ab2" fill-opacity="0.8"/>
<circle cx="139.6" cy="270.8" r="0.4" fill="#626ab2" fill-opacity="0.8"/>
<circle cx="137.6" cy="279.2" r="0.4" fill="#626ab2" fill-opacity="0.8"/>
<circle cx="127.0" cy="285.5" r="0.4" fill="#626ab2" fill-opacity="0.8"/>
<circle cx="126.4" cy="283.7" r="0.4" fill="#626ab2" fill-opacity="0.8"/>
<circle cx="119.0" cy="278.8" r="0.4" fill="#626ab2" fill-opacity="0.8"/>
<circle cx="121.7" cy="275.3" r="0.4" fill="#626ab2" fill-opacity="0.8"/>
<circle cx="107.2" cy="271.2" r="0.4" fill="#626ab2" fill-opacity="0.8"/>
<circle cx="129.5" cy="247.8" r="0.45" fill="#626ab2" fill-opacity="0.8"/>
<circle cx="131.3" cy="245.2" r="0.45" fill="#626ab2" fill-opacity="0.8"/>
<circle cx="133.0" cy="244.1" r="0.45" fill="#626ab2" fill-opacity="0.8"/>
<circle cx="134.4" cy="243.2" r="0.45" fill="#626ab2" fill-opacity="0.8"/>
<circle cx="136.5" cy="240.6" r="0.45" fill="#626ab2" fill-opacity="0.8"/>
<circle cx="138.5" cy="241.8" r="0.45" fill="#626ab2" fill-opacity="0.8"/>
<circle cx="138.4" cy="242.8" r="0.45" fill="#626ab2" fill-opacity="0.8"/>
<circle cx="138.7" cy="244.0" r="0.45" fill="#626ab2" fill-opacity="0.8"/>
<circle cx="140.8" cy="246.6" r="0.45" fill="#626ab2" fill-opacity="0.8"/>
<circle cx="138.6" cy="248.4" r="0.45" fill="#626ab2" fill-opacity="0.8"/>
<circle cx="138.5" cy="249.0" r="0.45" fill="#626ab2" fill-opacity="0.8"/>
<circle cx="134.1" cy="249.6" r="0.45" fill="#626ab2" fill-opacity="0.8"/>
<circle cx="132.7" cy="250.6" r="0.45" fill="#626ab2" fill-opacity="0.8"/>
<circle cx="131.9" cy="249.2" r="0.45" fill="#626ab2" fill-opacity="0.8"/>
<circle cx="129.1" cy="247.8" r="0.4" fill="#626ab2" fill-opacity="0.8"/>
<circle cx="137.0" cy="240.6" r="0.4" fill="#626ab2" fill-opacity="0.8"/>
<circle cx="140.9" cy="235.4" r="0.4" fill="#626ab2" fill-opacity="0.8"/>
<circle cx="141.8" cy="244.3" r="0.4" fill="#626ab2" fill-opacity="0.8"/>
<circle cx="138.9" cy="250.5" r="0.4" fill="#626ab2" fill-opacity="0.8"/>
<circle cx="128.9" cy="249.6" r="0.4" fill="#626ab2" fill-opacity="0.8"/>
<circle cx="147.5" cy="253.5" r="0.45" fill="#626ab2" fill-opacity="0.8"/>
<circle cx="147.9" cy="251.2" r="0.45" fill="#626ab2" fill-opacity="0.8"/>
<circle cx="148.4" cy="252.5" r="0.45" fill="#626ab2" fill-opacity="0.8"/>
<circle cx="150.7" cy="250.2" r="0.45" fill="#626ab2" fill-opacity="0.8"/>
<circle cx="151.3" cy="250.7" r="0.45" fill="#626ab2" fill-opacity="0.8"/>
<circle cx="153.4" cy="251.4" r="0.45" fill="#626ab2" fill-opacity="0.8"/>
<circle cx="155.8" cy="251.4" r="0.45" fill="#626ab2" fill-opacity="0.8"/>
<circle cx="157.2" cy="251.9" r="0.45" fill="#626ab2" fill-opacity="0.8"/>
<circle cx="157.8" cy="253.7" r="0.45" fill="#626ab2" fill-opacity="0.8"/>
<circle cx="157.9" cy="255.5" r="0.45" fill="#626ab2" fill-opacity="0.8"/>
<circle cx="159.2" cy="258.0" r="0.45" fill="#626ab2" fill-opacity="0.8"/>
<circle cx="158.5" cy="258.3" r="0.45" fill="#626ab2" fill-opacity="0.8"/>
<circle cx="161.3" cy="260.0" r="0.45" fill="#626ab2" fill-opacity="0.8"/>
<circle cx="163.7" cy="262.2" r="0.45" fill="#626ab2" fill-opacity="0.8"/>
<circle cx="164.5" cy="263.5" r="0.45" fill="#626ab2" fill-opacity="0.8"/>
<circle cx="164.8" cy="266.3" r="0.45" fill="#626ab2" fill-opacity="0.8"/>
<circle cx="162.6" cy="268.0" r="0.45" fill="#626ab2" fill-opacity="0.8"/>
<circle cx="161.2" cy="269.0" r="0.45" fill="#626ab2" fill-opacity="0.8"/>
<circle cx="160.2" cy="270.8" r="0.45" fill="#626ab2" fill-opacity="0.8"/>
<circle cx="158.5" cy="271.2" r="0.45" fill="#626ab2" fill-opacity="0.8"/>
<circle cx="157.4" cy="272.1" r="0.45" fill="#626ab2" fill-opacity="0.8"/>
<circle cx="158.6" cy="274.3" r="0.45" fill="#626ab2" fill-opacity="0.8"/>
<circle cx="160.4" cy="276.0" r="0.45" fill="#626ab2" fill-opacity="0.8"/>
<circle cx="158.3" cy="275.8" r="0.45" fill="#626ab2" fill-opacity="0.8"/>
<circle cx="156.9" cy="276.7" r="0.45" fill="#626ab2" fill-opacity="0.8"/>
<circle cx="156.6" cy="276.9" r="0.45" fill="#626ab2" fill-opacity="0.8"/>
<circle cx="151.8" cy="275.3" r="0.45" fill="#626ab2" fill-opacity="0.8"/>
<circle cx="150.6" cy="276.0" r="0.45" fill="#626ab2" fill-opacity="0.8"/>
<circle cx="149.6" cy="275.4" r="0.45" fill="#626ab2" fill-opacity="0.8"/>
<circle cx="148.0" cy="274.3" r="0.45" fill="#626ab2" fill-opacity="0.8"/>
<circle cx="143.8" cy="275.5" r="0.45" fill="#626ab2" fill-opacity="0.8"/>
<circle cx="142.5" cy="273.1" r="0.45" fill="#626ab2" fill-opacity="0.8"/>
<circle cx="139.6" cy="271.7" r="0.45" fill="#626ab2" fill-opacity="0.8"/>
<circle cx="138.4" cy="271.0" r="0.45" fill="#626ab2" fill-opacity="0.8"/>
<circle cx="139.5" cy="269.7" r="0.45" fill="#626ab2" fill-opacity="0.8"/>
<circle cx="139.8" cy="266.9" r="0.45" fill="#626ab2" fill-opacity="0.8"/>
<circle cx="140.4" cy="266.6" r="0.45" fill="#626ab2" fill-opacity="0.8"/>
<circle cx="141.0" cy="263.8" r="0.45" fill="#626ab2" fill-opacity="0.8"/>
<circle cx="143.5" cy="262.4" r="0.45" fill="#626ab2" fill-opacity="0.8"/>
<circle cx="144.6" cy="260.7" r="0.45" fill="#626ab2" fill-opacity="0.8"/>
<circle cx="146.6" cy="258.4" r="0.45" fill="#626ab2" fill-opacity="0.8"/>
<circle cx="146.5" cy="255.6" r="0.45" fill="#626ab2" fill-opacity="0.8"/>
<circle cx="145.3" cy="252.6" r="0.4" fill="#626ab2" fill-opacity="0.8"/>
<circle cx="149.5" cy="251.1" r="0.4" fill="#626ab2" fill-opacity="0.8"/>
<circle cx="156.7" cy="253.4" r="0.4" fill="#626ab2" fill-opacity="0.8"/>
<circle cx="156.5" cy="254.6" r="0.4" fill="#626ab2" fill-opacity="0.8"/>
<circle cx="159.9" cy="258.8" r="0.4" fill="#626ab2" fill-opacity="0.8"/>
<circle cx="162.7" cy="261.7" r="0.4" fill="#626ab2" fill-opacity="0.8"/>
<circle cx="163.5" cy="264.3" r="0.4" fill="#626ab2" fill-opacity="0.8"/>
<circle cx="162.9" cy="273.1" r="0.4" fill="#626ab2" fill-opacity="0.8"/>
<circle cx="159.0" cy="273.6" r="0.4" fill="#626ab2" fill-opacity="0.8"/>
<circle cx="159.7" cy="274.7" r="0.4" fill="#626ab2" fill-opacity="0.8"/>
<circle cx="151.5" cy="277.9" r="0.4" fill="#626ab2" fill-opacity="0.8"/>
<circle cx="151.0" cy="274.2" r="0.4" fill="#626ab2" fill-opacity="0.8"/>
<circle cx="142.2" cy="277.1" r="0.4" fill="#626ab2" fill-opacity="0.8"/>
<circle cx="136.3" cy="275.7" r="0.4" fill="#626ab2" fill-opacity="0.8"/>
<circle cx="141.3" cy="272.5" r="0.4" fill="#626ab2" fill-opacity="0.8"/>
<circle cx="141.2" cy="262.8" r="0.4" fill="#626ab2" fill-opacity="0.8"/>
<circle cx="145.0" cy="258.8" r="0.4" fill="#626ab2" fill-opacity="0.8"/>
<circle cx="142.5" cy="281.0" r="0.45" fill="#626ab2" fill-opacity="0.8"/>
<circle cx="143.6" cy="280.0" r="0.45" fill="#626ab2" fill-opacity="0.8"/>
<circle cx="143.2" cy="280.3" r="0.45" fill="#626ab2" fill-opacity="0.8"/>
<circle cx="144.0" cy="279.7" r="0.45" fill="#626ab2" fill-opacity="0.8"/>
<circle cx="145.4" cy="280.3" r="0.45" fill="#626ab2" fill-opacity="0.8"/>
<circle cx="145.3" cy="281.6" r="0.45" fill="#626ab2" fill-opacity="0.8"/>
<circle cx="146.9" cy="284.1" r="0.45" fill="#626ab2" fill-opacity="0.8"/>
<circle cx="147.6" cy="285.4" r="0.45" fill="#626ab2" fill-opacity="0.8"/>
<circle cx="149.1" cy="286.4" r="0.45" fill="#626ab2" fill-opacity="0.8"/>
<circle cx="150.4" cy="288.5" r="0.45" fill="#626ab2" fill-opacity="0.8"/>
<circle cx="151.9" cy="291.1" r="0.45" fill="#626ab2" fill-opacity="0.8"/>
<circle cx="151.4" cy="292.7" r="0.45" fill="#626ab2" fill-opacity="0.8"/>
<circle cx="152.4" cy="294.0" r="0.45" fill="#626ab2" fill-opacity="0.8"/>
<circle cx="151.0" cy="295.3" r="0.45" fill="#626ab2" fill-opacity="0.8"/>
<circle cx="150.4" cy="295.9" r="0.45" fill="#626ab2" fill-opacity="0.8"/>
<circle cx="148.3" cy="296.5" r="0.45" fill="#626ab2" fill-opacity="0.8"/>
<circle cx="146.8" cy="296.9" r="0.45" fill="#626ab2" fill-opacity="0.8"/>
<circle cx="144.1" cy="297.1" r="0.45" fill="#626ab2" fill-opacity="0.8"/>
<circle cx="143.5" cy="296.0" r="0.45" fill="#626ab2" fill-opacity="0.8"/>
<circle cx="141.8" cy="295.8" r="0.45" fill="#626ab2" fill-opacity="0.8"/>
<circle cx="139.8" cy="296.6" r="0.45" fill="#626ab2" fill-opacity="0.8"/>
<circle cx="139.5" cy="295.2" r="0.45" fill="#626ab2" fill-opacity="0.8"/>
<circle cx="137.9" cy="293.0" r="0.45" fill="#626ab2" fill-opacity="0.8"/>
<circle cx="137.2" cy="292.3" r="0.45" fill="#626ab2" fill-opacity="0.8"/>
<circle cx="138.1" cy="289.7" r="0.45" fill="#626ab2" fill-opacity="0.8"/>
<circle cx="139.7" cy="287.8" r="0.45" fill="#626ab2" fill-opacity="0.8"/>
<circle cx="140.5" cy="286.3" r="0.45" fill="#626ab2" fill-opacity="0.8"/>
<circle cx="142.6" cy="286.1" r="0.45" fill="#626ab2" fill-opacity="0.8"/>
<circle cx="142.0" cy="283.1" r="0.45" fill="#626ab2" fill-opacity="0.8"/>
<circle cx="142.5" cy="282.7" r="0.45" fill="#626ab2" fill-opacity="0.8"/>
<circle cx="143.4" cy="282.6" r="0.4" fill="#626ab2" fill-opacity="0.8"/>
<circle cx="143.2" cy="282.0" r="0.4" fill="#626ab2" fill-opacity="0.8"/>
<circle cx="147.9" cy="282.1" r="0.4" fill="#626ab2" fill-opacity="0.8"/>
<circle cx="148.1" cy="284.6" r="0.4" fill="#626ab2" fill-opacity="0.8"/>
<circle cx="152.9" cy="287.7" r="0.4" fill="#626ab2" fill-opacity="0.8"/>
<circle cx="151.3" cy="292.5" r="0.4" fill="#626ab2" fill-opacity="0.8"/>
<circle cx="145.4" cy="297.4" r="0.4" fill="#626ab2" fill-opacity="0.8"/>
<circle cx="143.4" cy="296.6" r="0.4" fill="#626ab2" fill-opacity="0.8"/>
<circle cx="141.4" cy="292.9" r="0.4" fill="#626ab2" fill-opacity="0.8"/>
<circle cx="137.9" cy="293.3" r="0.4" fill="#626ab2" fill-opacity="0.8"/>
<circle cx="141.2" cy="285.9" r="0.4" fill="#626ab2" fill-opacity="0.8"/>
<circle cx="143.4" cy="285.1" r="0.4" fill="#626ab2" fill-opacity="0.8"/>
<circle cx="162.7" cy="287.3" r="0.45" fill="#626ab2" fill-opacity="0.8"/>
<circle cx="163.2" cy="286.8" r="0.45" fill="#626ab2" fill-opacity="0.8"/>
<circle cx="164.5" cy="284.6" r="0.45" fill="#626ab2" fill-opacity="0.8"/>
<circle cx="166.1" cy="284.1" r="0.45" fill="#626ab2" fill-opacity="0.8"/>
<circle cx="168.1" cy="283.8" r="0.45" fill="#626ab2" fill-opacity="0.8"/>
<circle cx="169.6" cy="286.2" r="0.45" fill="#626ab2" fill-opacity="0.8"/>
<circle cx="171.3" cy="287.3" r="0.45" fill="#626ab2" fill-opacity="0.8"/>
<circle cx="171.9" cy="288.9" r="0.45" fill="#626ab2" fill-opacity="0.8"/>
<circle cx="170.6" cy="289.9" r="0.45" fill="#626ab2" fill-opacity="0.8"/>
<circle cx="169.2" cy="291.8" r="0.45" fill="#626ab2" fill-opacity="0.8"/>
<circle cx="169.0" cy="293.5" r="0.45" fill="#626ab2" fill-opacity="0.8"/>
<circle cx="165.6" cy="294.1" r="0.45" fill="#626ab2" fill-opacity="0.8"/>
<circle cx="164.8" cy="293.6" r="0.45" fill="#626ab2" fill-opacity="0.8"/>
<circle cx="163.5" cy="292.5" r="0.45" fill="#626ab2" fill-opacity="0.8"/>
<circle cx="162.5" cy="290.0" r="0.45" fill="#626ab2" fill-opacity="0.8"/>
<circle cx="162.0" cy="289.5" r="0.45" fill="#626ab2" fill-opacity="0.8"/>
<circle cx="165.0" cy="286.0" r="0.4" fill="#626ab2" fill-opacity="0.8"/>
<circle cx="163.7" cy="284.3" r="0.4" fill="#626ab2" fill-opacity="0.8"/>
<circle cx="171.6" cy="286.7" r="0.4" fill="#626ab2" fill-opacity="0.8"/>
<circle cx="169.7" cy="291.0" r="0.4" fill="#626ab2" fill-opacity="0.8"/>
<circle cx="167.7" cy="294.3" r="0.4" fill="#626ab2" fill-opacity="0.8"/>
<circle cx="163.0" cy="290.1" r="0.4" fill="#626ab2" fill-opacity="0.8"/>
<circle cx="162.2" cy="290.4" r="0.4" fill="#626ab2" fill-opacity="0.8"/>
<circle cx="142.9" cy="304.8" r="0.45" fill="#626ab2" fill-opacity="0.8"/>
<circle cx="144.3" cy="303.6" r="0.45" fill="#626ab2" fill-opacity="0.8"/>
<circle cx="143.9" cy="304.4" r="0.45" fill="#626ab2" fill-opacity="0.8"/>
<circle cx="146.1" cy="303.6" r="0.45" fill="#626ab2" fill-opacity="0.8"/>
<circle cx="146.4" cy="304.2" r="0.45" fill="#626ab2" fill-opacity="0.8"/>
<circle cx="146.9" cy="303.4" r="0.45" fill="#626ab2" fill-opacity="0.8"/>
<circle cx="149.1" cy="305.3" r="0.45" fill="#626ab2" fill-opacity="0.8"/>
<circle cx="149.1" cy="305.5" r="0.45" fill="#626ab2" fill-opacity="0.8"/>
<circle cx="150.6" cy="306.5" r="0.45" fill="#626ab2" fill-opacity="0.8"/>
<circle cx="151.7" cy="309.8" r="0.45" fill="#626ab2" fill-opacity="0.8"/>
<circle cx="151.9" cy="311.4" r="0.45" fill="#626ab2" fill-opacity="0.8"/>
<circle cx="154.1" cy="312.2" r="0.45" fill="#626ab2" fill-opacity="0.8"/>
<circle cx="155.2" cy="313.7" r="0.45" fill="#626ab2" fill-opacity="0.8"/>
<circle cx="155.0" cy="314.3" r="0.45" fill="#626ab2" fill-opacity="0.8"/>
<circle cx="154.6" cy="316.1" r="0.45" fill="#626ab2" fill-opacity="0.8"/>
<circle cx="153.1" cy="316.1" r="0.45" fill="#626ab2" fill-opacity="0.8"/>
<circle cx="151.5" cy="315.9" r="0.45" fill="#626ab2" fill-opacity="0.8"/>
<circle cx="150.5" cy="316.2" r="0.45" fill="#626ab2" fill-opacity="0.8"/>
<circle cx="148.6" cy="316.9" r="0.45" fill="#626ab2" fill-opacity="0.8"/>
<circle cx="147.3" cy="315.6" r="0.45" fill="#626ab2" fill-opacity="0.8"/>
<circle cx="145.7" cy="315.0" r="0.45" fill="#626ab2" fill-opacity="0.8"/>
<circle cx="142.9" cy="313.3" r="0.45" fill="#626ab2" fill-opacity="0.8"/>
<circle cx="141.6" cy="311.5" r="0.45" fill="#626ab2" fill-opacity="0.8"/>
<circle cx="142.6" cy="309.6" r="0.45" fill="#626ab2" fill-opacity="0.8"/>
<circle cx="141.6" cy="307.5" r="0.45" fill="#626ab2" fill-opacity="0.8"/>
<circle cx="142.8" cy="306.2" r="0.45" fill="#626ab2" fill-opacity="0.8"/>
<circle cx="143.5" cy="306.1" r="0.4" fill="#626ab2" fill-opacity="0.8"/>
<circle cx="148.6" cy="303.7" r="0.4" fill="#626ab2" fill-opacity="0.8"/>
<circle cx="148.9" cy="302.1" r="0.4" fill="#626ab2" fill-opacity="0.8"/>
<circle cx="151.3" cy="309.6" r="0.4" fill="#626ab2" fill-opacity="0.8"/>
<circle cx="155.0" cy="307.0" r="0.4" fill="#626ab2" fill-opacity="0.8"/>
<circle cx="157.1" cy="316.8" r="0.4" fill="#626ab2" fill-opacity="0.8"/>
<circle cx="155.1" cy="312.7" r="0.4" fill="#626ab2" fill-opacity="0.8"/>
<circle cx="148.0" cy="317.7" r="0.4" fill="#626ab2" fill-opacity="0.8"/>
<circle cx="146.1" cy="312.9" r="0.4" fill="#626ab2" fill-opacity="0.8"/>
<circle cx="139.7" cy="312.8" r="0.4" fill="#626ab2" fill-opacity="0.8"/>
<circle cx="140.2" cy="309.7" r="0.4" fill="#626ab2" fill-opacity="0.8"/>
</g>
<text x="24.50" y="340.80" font-size="8.3" text-anchor="middle" fill="#2e2e2e" font-style="italic">Ground-truth</text>
<text x="24.50" y="349.60" font-size="8.3" text-anchor="middle" fill="#2e2e2e" font-style="italic">class</text>
<text x="27.10" y="363.60" font-size="8.3" text-anchor="end" fill="#2e2e2e">Sch</text>
<circle cx="32.6" cy="360.60" r="1.9" fill="#6cd870"/>
<text x="27.10" y="388.10" font-size="8.3" text-anchor="end" fill="#2e2e2e">Mets</text>
<circle cx="32.6" cy="385.10" r="1.9" fill="#626ab2"/>
<text x="27.10" y="413.50" font-size="8.3" text-anchor="end" fill="#2e2e2e">Men</text>
<circle cx="32.6" cy="410.50" r="1.9" fill="#b9ed3b"/>
<text x="27.10" y="438.50" font-size="8.3" text-anchor="end" fill="#2e2e2e">Epen</text>
<circle cx="32.6" cy="435.50" r="1.9" fill="#56b4a6"/>
<text x="86.50" y="452.50" font-size="8.3" text-anchor="middle" fill="#2e2e2e">Distribution</text>
<line x1="69.0" y1="345" x2="69.0" y2="440" stroke="#efefef" stroke-width="0.5"/>
<line x1="100.5" y1="345" x2="100.5" y2="440" stroke="#efefef" stroke-width="0.5"/>
<line x1="131.8" y1="345" x2="131.8" y2="440" stroke="#efefef" stroke-width="0.5"/>
<linearGradient id="g_sch" x1="58.10" y1="0" x2="131.30" y2="0" gradientUnits="userSpaceOnUse"><stop offset="0.000" stop-color="#590457"/><stop offset="0.011" stop-color="#660762"/><stop offset="0.027" stop-color="#760c72"/><stop offset="0.042" stop-color="#821680"/><stop offset="0.054" stop-color="#84278c"/><stop offset="0.064" stop-color="#873998"/><stop offset="0.075" stop-color="#894ba2"/><stop offset="0.086" stop-color="#8b5eab"/><stop offset="0.098" stop-color="#8c73b5"/><stop offset="0.109" stop-color="#8c88bf"/><stop offset="0.121" stop-color="#8f9cc9"/><stop offset="0.132" stop-color="#98b0d3"/><stop offset="0.143" stop-color="#a3c0dc"/><stop offset="0.155" stop-color="#b2cae1"/><stop offset="0.166" stop-color="#c0d4e6"/><stop offset="0.178" stop-color="#cddeec"/><stop offset="0.189" stop-color="#d9e7f1"/><stop offset="0.200" stop-color="#e3eef5"/><stop offset="0.212" stop-color="#eaf3f8"/><stop offset="0.225" stop-color="#f1f8fb"/><stop offset="0.240" stop-color="#f6fbfd"/><stop offset="0.254" stop-color="#f7fcfd"/><stop offset="0.269" stop-color="#f7fcfd"/><stop offset="0.283" stop-color="#f3fafc"/><stop offset="0.296" stop-color="#eef6fa"/><stop offset="0.308" stop-color="#e8f1f7"/><stop offset="0.320" stop-color="#dfecf4"/><stop offset="0.331" stop-color="#d2e2ee"/><stop offset="0.342" stop-color="#c4d6e8"/><stop offset="0.352" stop-color="#b3cbe2"/><stop offset="0.363" stop-color="#a3c0dc"/><stop offset="0.375" stop-color="#99b1d4"/><stop offset="0.386" stop-color="#91a0cb"/><stop offset="0.398" stop-color="#8c90c3"/><stop offset="0.409" stop-color="#8c80bb"/><stop offset="0.421" stop-color="#8c72b4"/><stop offset="0.432" stop-color="#8c66af"/><stop offset="0.441" stop-color="#8b5caa"/><stop offset="0.449" stop-color="#8a56a7"/><stop offset="0.458" stop-color="#8a54a6"/><stop offset="0.468" stop-color="#8a59a9"/><stop offset="0.479" stop-color="#8b64ae"/><stop offset="0.490" stop-color="#8c6eb2"/><stop offset="0.503" stop-color="#8c77b7"/><stop offset="0.517" stop-color="#8c80bb"/><stop offset="0.530" stop-color="#8c84bd"/><stop offset="0.542" stop-color="#8c80bb"/><stop offset="0.554" stop-color="#8c78b7"/><stop offset="0.567" stop-color="#8c6eb2"/><stop offset="0.581" stop-color="#8b64ae"/><stop offset="0.595" stop-color="#8a58a8"/><stop offset="0.609" stop-color="#894fa4"/><stop offset="0.622" stop-color="#894ba2"/><stop offset="0.634" stop-color="#8949a1"/><stop offset="0.652" stop-color="#8948a0"/><stop offset="0.678" stop-color="#8947a0"/><stop offset="0.710" stop-color="#8947a0"/><stop offset="0.736" stop-color="#8948a0"/><stop offset="0.754" stop-color="#894ba2"/><stop offset="0.766" stop-color="#894ea3"/><stop offset="0.779" stop-color="#8a54a6"/><stop offset="0.793" stop-color="#8b5caa"/><stop offset="0.807" stop-color="#8c66af"/><stop offset="0.821" stop-color="#8c6eb2"/><stop offset="0.834" stop-color="#8c74b5"/><stop offset="0.847" stop-color="#8c79b8"/><stop offset="0.859" stop-color="#8c7ab8"/><stop offset="0.872" stop-color="#8c78b7"/><stop offset="0.885" stop-color="#8c73b5"/><stop offset="0.898" stop-color="#8c6bb1"/><stop offset="0.909" stop-color="#8b60ac"/><stop offset="0.920" stop-color="#8a51a5"/><stop offset="0.932" stop-color="#88439e"/><stop offset="0.943" stop-color="#863293"/><stop offset="0.954" stop-color="#832087"/><stop offset="0.966" stop-color="#81107c"/><stop offset="0.978" stop-color="#720b6e"/><stop offset="0.991" stop-color="#640761"/><stop offset="1.000" stop-color="#590457"/></linearGradient>
<polygon points="58.10,364.2 58.10,363.80 58.45,363.58 58.93,363.29 59.50,362.94 60.10,362.55 60.69,362.13 61.20,361.70 61.64,361.26 62.05,360.79 62.44,360.29 62.82,359.77 63.20,359.20 63.60,358.60 64.01,357.95 64.43,357.25 64.84,356.51 65.26,355.75 65.68,354.98 66.10,354.20 66.52,353.41 66.93,352.59 67.35,351.75 67.77,350.91 68.18,350.09 68.60,349.30 69.02,348.53 69.43,347.77 69.85,347.03 70.27,346.30 70.68,345.59 71.10,344.90 71.51,344.23 71.91,343.56 72.31,342.91 72.72,342.30 73.15,341.72 73.60,341.20 74.08,340.70 74.59,340.21 75.11,339.77 75.64,339.40 76.18,339.13 76.70,339.00 77.22,339.02 77.76,339.17 78.29,339.43 78.81,339.77 79.32,340.17 79.80,340.60 80.25,341.08 80.68,341.63 81.09,342.24 81.50,342.89 81.90,343.58 82.30,344.30 82.70,345.07 83.10,345.90 83.50,346.76 83.90,347.64 84.30,348.49 84.70,349.30 85.11,350.07 85.53,350.83 85.94,351.57 86.36,352.28 86.78,352.96 87.20,353.60 87.62,354.21 88.06,354.79 88.49,355.34 88.91,355.84 89.32,356.30 89.70,356.70 90.05,357.06 90.36,357.39 90.66,357.66 90.95,357.87 91.26,357.99 91.60,358.00 91.97,357.87 92.34,357.59 92.74,357.23 93.14,356.83 93.57,356.44 94.00,356.10 94.46,355.78 94.94,355.43 95.43,355.08 95.93,354.79 96.42,354.58 96.90,354.50 97.36,354.57 97.80,354.77 98.24,355.06 98.68,355.40 99.13,355.76 99.60,356.10 100.09,356.45 100.60,356.85 101.12,357.27 101.65,357.67 102.18,358.02 102.70,358.30 103.18,358.49 103.62,358.61 104.06,358.69 104.54,358.73 105.10,358.77 105.80,358.80 106.69,358.84 107.75,358.87 108.90,358.88 110.05,358.88 111.11,358.85 112.00,358.80 112.70,358.73 113.26,358.63 113.74,358.52 114.18,358.38 114.62,358.21 115.10,358.00 115.62,357.74 116.14,357.41 116.67,357.06 117.19,356.70 117.70,356.37 118.20,356.10 118.68,355.87 119.16,355.65 119.62,355.46 120.08,355.31 120.54,355.22 121.00,355.20 121.47,355.25 121.94,355.35 122.42,355.51 122.89,355.73 123.35,355.99 123.80,356.30 124.23,356.68 124.66,357.14 125.07,357.64 125.48,358.17 125.89,358.70 126.30,359.20 126.72,359.68 127.13,360.18 127.55,360.67 127.97,361.14 128.38,361.59 128.80,362.00 129.25,362.38 129.73,362.74 130.21,363.07 130.65,363.37 131.03,363.62 131.30,363.80 131.30,364.2" fill="url(#g_sch)" fill-opacity="0.8"/>
<polyline points="58.10,363.80 58.45,363.58 58.93,363.29 59.50,362.94 60.10,362.55 60.69,362.13 61.20,361.70 61.64,361.26 62.05,360.79 62.44,360.29 62.82,359.77 63.20,359.20 63.60,358.60 64.01,357.95 64.43,357.25 64.84,356.51 65.26,355.75 65.68,354.98 66.10,354.20 66.52,353.41 66.93,352.59 67.35,351.75 67.77,350.91 68.18,350.09 68.60,349.30 69.02,348.53 69.43,347.77 69.85,347.03 70.27,346.30 70.68,345.59 71.10,344.90 71.51,344.23 71.91,343.56 72.31,342.91 72.72,342.30 73.15,341.72 73.60,341.20 74.08,340.70 74.59,340.21 75.11,339.77 75.64,339.40 76.18,339.13 76.70,339.00 77.22,339.02 77.76,339.17 78.29,339.43 78.81,339.77 79.32,340.17 79.80,340.60 80.25,341.08 80.68,341.63 81.09,342.24 81.50,342.89 81.90,343.58 82.30,344.30 82.70,345.07 83.10,345.90 83.50,346.76 83.90,347.64 84.30,348.49 84.70,349.30 85.11,350.07 85.53,350.83 85.94,351.57 86.36,352.28 86.78,352.96 87.20,353.60 87.62,354.21 88.06,354.79 88.49,355.34 88.91,355.84 89.32,356.30 89.70,356.70 90.05,357.06 90.36,357.39 90.66,357.66 90.95,357.87 91.26,357.99 91.60,358.00 91.97,357.87 92.34,357.59 92.74,357.23 93.14,356.83 93.57,356.44 94.00,356.10 94.46,355.78 94.94,355.43 95.43,355.08 95.93,354.79 96.42,354.58 96.90,354.50 97.36,354.57 97.80,354.77 98.24,355.06 98.68,355.40 99.13,355.76 99.60,356.10 100.09,356.45 100.60,356.85 101.12,357.27 101.65,357.67 102.18,358.02 102.70,358.30 103.18,358.49 103.62,358.61 104.06,358.69 104.54,358.73 105.10,358.77 105.80,358.80 106.69,358.84 107.75,358.87 108.90,358.88 110.05,358.88 111.11,358.85 112.00,358.80 112.70,358.73 113.26,358.63 113.74,358.52 114.18,358.38 114.62,358.21 115.10,358.00 115.62,357.74 116.14,357.41 116.67,357.06 117.19,356.70 117.70,356.37 118.20,356.10 118.68,355.87 119.16,355.65 119.62,355.46 120.08,355.31 120.54,355.22 121.00,355.20 121.47,355.25 121.94,355.35 122.42,355.51 122.89,355.73 123.35,355.99 123.80,356.30 124.23,356.68 124.66,357.14 125.07,357.64 125.48,358.17 125.89,358.70 126.30,359.20 126.72,359.68 127.13,360.18 127.55,360.67 127.97,361.14 128.38,361.59 128.80,362.00 129.25,362.38 129.73,362.74 130.21,363.07 130.65,363.37 131.03,363.62 131.30,363.80" fill="none" stroke="#5a5a5a" stroke-width="0.5"/>
<line x1="37.7" y1="364.2" x2="169.5" y2="364.2" stroke="#888" stroke-width="0.6"/>
<linearGradient id="g_mets" x1="91.70" y1="0" x2="169.50" y2="0" gradientUnits="userSpaceOnUse"><stop offset="0.000" stop-color="#4d004b"/><stop offset="0.012" stop-color="#5b0458"/><stop offset="0.030" stop-color="#6a0967"/><stop offset="0.048" stop-color="#790d75"/><stop offset="0.064" stop-color="#821680"/><stop offset="0.080" stop-color="#842389"/><stop offset="0.096" stop-color="#862f91"/><stop offset="0.112" stop-color="#873998"/><stop offset="0.128" stop-color="#88419d"/><stop offset="0.144" stop-color="#8948a0"/><stop offset="0.160" stop-color="#894fa4"/><stop offset="0.176" stop-color="#8a57a7"/><stop offset="0.192" stop-color="#8b5fab"/><stop offset="0.206" stop-color="#8c68af"/><stop offset="0.219" stop-color="#8c72b4"/><stop offset="0.231" stop-color="#8c80bb"/><stop offset="0.243" stop-color="#8c93c5"/><stop offset="0.253" stop-color="#94a7cf"/><stop offset="0.263" stop-color="#9ebcda"/><stop offset="0.274" stop-color="#b2cae1"/><stop offset="0.284" stop-color="#c7d9e9"/><stop offset="0.296" stop-color="#d9e7f1"/><stop offset="0.308" stop-color="#e6f0f7"/><stop offset="0.322" stop-color="#f0f7fa"/><stop offset="0.335" stop-color="#f6fcfd"/><stop offset="0.349" stop-color="#f7fcfd"/><stop offset="0.362" stop-color="#f4fafc"/><stop offset="0.375" stop-color="#eff6fa"/><stop offset="0.388" stop-color="#e8f2f7"/><stop offset="0.401" stop-color="#e0ecf4"/><stop offset="0.415" stop-color="#d3e2ef"/><stop offset="0.430" stop-color="#c8daea"/><stop offset="0.447" stop-color="#bdd1e5"/><stop offset="0.463" stop-color="#b1c9e1"/><stop offset="0.479" stop-color="#a2bfdc"/><stop offset="0.494" stop-color="#98afd3"/><stop offset="0.510" stop-color="#91a0cb"/><stop offset="0.527" stop-color="#8c92c4"/><stop offset="0.543" stop-color="#8c85be"/><stop offset="0.558" stop-color="#8c7dba"/><stop offset="0.569" stop-color="#8c7bb9"/><stop offset="0.579" stop-color="#8c7fbb"/><stop offset="0.590" stop-color="#8c89c0"/><stop offset="0.603" stop-color="#8f9cc9"/><stop offset="0.616" stop-color="#9ab3d5"/><stop offset="0.630" stop-color="#abc5df"/><stop offset="0.643" stop-color="#bfd3e6"/><stop offset="0.656" stop-color="#d4e3ef"/><stop offset="0.670" stop-color="#e3eef5"/><stop offset="0.685" stop-color="#ecf5f9"/><stop offset="0.700" stop-color="#f3f9fb"/><stop offset="0.715" stop-color="#f5fbfc"/><stop offset="0.727" stop-color="#f3f9fb"/><stop offset="0.738" stop-color="#ecf5f9"/><stop offset="0.749" stop-color="#e3eef5"/><stop offset="0.762" stop-color="#d4e3ef"/><stop offset="0.776" stop-color="#c0d4e6"/><stop offset="0.789" stop-color="#abc5df"/><stop offset="0.802" stop-color="#98b0d4"/><stop offset="0.816" stop-color="#8c95c5"/><stop offset="0.829" stop-color="#8c7dba"/><stop offset="0.842" stop-color="#8c72b5"/><stop offset="0.855" stop-color="#8c70b4"/><stop offset="0.869" stop-color="#8c6fb3"/><stop offset="0.885" stop-color="#8c70b3"/><stop offset="0.902" stop-color="#8c71b4"/><stop offset="0.918" stop-color="#8c6fb3"/><stop offset="0.932" stop-color="#8c67af"/><stop offset="0.944" stop-color="#8a5aa9"/><stop offset="0.958" stop-color="#894da3"/><stop offset="0.973" stop-color="#873c9a"/><stop offset="0.989" stop-color="#85288d"/><stop offset="1.000" stop-color="#821983"/></linearGradient>
<polygon points="91.70,389.3 91.70,389.30 92.10,389.11 92.66,388.84 93.31,388.53 94.02,388.19 94.73,387.84 95.40,387.50 96.03,387.16 96.66,386.80 97.30,386.43 97.94,386.07 98.57,385.72 99.20,385.40 99.82,385.12 100.44,384.86 101.06,384.62 101.67,384.39 102.28,384.15 102.90,383.90 103.52,383.65 104.16,383.40 104.79,383.16 105.41,382.90 106.02,382.61 106.60,382.30 107.16,381.98 107.70,381.66 108.22,381.31 108.73,380.92 109.22,380.46 109.70,379.90 110.15,379.23 110.58,378.47 110.99,377.64 111.39,376.75 111.79,375.83 112.20,374.90 112.61,373.91 113.01,372.85 113.41,371.76 113.82,370.67 114.25,369.64 114.70,368.70 115.18,367.81 115.69,366.92 116.21,366.09 116.74,365.36 117.28,364.78 117.80,364.40 118.32,364.25 118.83,364.30 119.35,364.50 119.87,364.81 120.38,365.19 120.90,365.60 121.41,366.07 121.91,366.65 122.41,367.29 122.92,367.97 123.45,368.65 124.00,369.30 124.58,369.91 125.19,370.51 125.81,371.11 126.44,371.71 127.08,372.34 127.70,373.00 128.32,373.71 128.93,374.48 129.55,375.26 130.17,376.03 130.78,376.76 131.40,377.40 132.03,377.99 132.68,378.56 133.33,379.08 133.96,379.53 134.55,379.88 135.10,380.10 135.58,380.21 136.00,380.24 136.39,380.17 136.77,379.98 137.16,379.66 137.60,379.20 138.08,378.55 138.59,377.70 139.11,376.73 139.64,375.69 140.18,374.62 140.70,373.60 141.21,372.56 141.72,371.45 142.22,370.33 142.74,369.24 143.26,368.24 143.80,367.40 144.37,366.67 144.97,366.01 145.58,365.44 146.18,364.99 146.76,364.70 147.30,364.60 147.79,364.70 148.24,364.99 148.68,365.44 149.10,366.01 149.54,366.67 150.00,367.40 150.49,368.23 151.00,369.20 151.52,370.27 152.05,371.39 152.58,372.51 153.10,373.60 153.62,374.73 154.13,375.95 154.65,377.18 155.17,378.33 155.68,379.33 156.20,380.10 156.71,380.60 157.21,380.88 157.71,381.01 158.21,381.04 158.74,381.05 159.30,381.10 159.90,381.13 160.54,381.08 161.20,381.01 161.86,380.95 162.50,380.97 163.10,381.10 163.65,381.37 164.18,381.73 164.68,382.16 165.18,382.64 165.68,383.13 166.20,383.60 166.78,384.11 167.41,384.67 168.04,385.26 168.64,385.80 169.14,386.27 169.50,386.60 169.50,389.3" fill="url(#g_mets)" fill-opacity="0.8"/>
<polyline points="91.70,389.30 92.10,389.11 92.66,388.84 93.31,388.53 94.02,388.19 94.73,387.84 95.40,387.50 96.03,387.16 96.66,386.80 97.30,386.43 97.94,386.07 98.57,385.72 99.20,385.40 99.82,385.12 100.44,384.86 101.06,384.62 101.67,384.39 102.28,384.15 102.90,383.90 103.52,383.65 104.16,383.40 104.79,383.16 105.41,382.90 106.02,382.61 106.60,382.30 107.16,381.98 107.70,381.66 108.22,381.31 108.73,380.92 109.22,380.46 109.70,379.90 110.15,379.23 110.58,378.47 110.99,377.64 111.39,376.75 111.79,375.83 112.20,374.90 112.61,373.91 113.01,372.85 113.41,371.76 113.82,370.67 114.25,369.64 114.70,368.70 115.18,367.81 115.69,366.92 116.21,366.09 116.74,365.36 117.28,364.78 117.80,364.40 118.32,364.25 118.83,364.30 119.35,364.50 119.87,364.81 120.38,365.19 120.90,365.60 121.41,366.07 121.91,366.65 122.41,367.29 122.92,367.97 123.45,368.65 124.00,369.30 124.58,369.91 125.19,370.51 125.81,371.11 126.44,371.71 127.08,372.34 127.70,373.00 128.32,373.71 128.93,374.48 129.55,375.26 130.17,376.03 130.78,376.76 131.40,377.40 132.03,377.99 132.68,378.56 133.33,379.08 133.96,379.53 134.55,379.88 135.10,380.10 135.58,380.21 136.00,380.24 136.39,380.17 136.77,379.98 137.16,379.66 137.60,379.20 138.08,378.55 138.59,377.70 139.11,376.73 139.64,375.69 140.18,374.62 140.70,373.60 141.21,372.56 141.72,371.45 142.22,370.33 142.74,369.24 143.26,368.24 143.80,367.40 144.37,366.67 144.97,366.01 145.58,365.44 146.18,364.99 146.76,364.70 147.30,364.60 147.79,364.70 148.24,364.99 148.68,365.44 149.10,366.01 149.54,366.67 150.00,367.40 150.49,368.23 151.00,369.20 151.52,370.27 152.05,371.39 152.58,372.51 153.10,373.60 153.62,374.73 154.13,375.95 154.65,377.18 155.17,378.33 155.68,379.33 156.20,380.10 156.71,380.60 157.21,380.88 157.71,381.01 158.21,381.04 158.74,381.05 159.30,381.10 159.90,381.13 160.54,381.08 161.20,381.01 161.86,380.95 162.50,380.97 163.10,381.10 163.65,381.37 164.18,381.73 164.68,382.16 165.18,382.64 165.68,383.13 166.20,383.60 166.78,384.11 167.41,384.67 168.04,385.26 168.64,385.80 169.14,386.27 169.50,386.60" fill="none" stroke="#5a5a5a" stroke-width="0.5"/>
<line x1="37.7" y1="389.3" x2="169.5" y2="389.3" stroke="#888" stroke-width="0.6"/>
<linearGradient id="g_men" x1="46.80" y1="0" x2="96.40" y2="0" gradientUnits="userSpaceOnUse"><stop offset="0.000" stop-color="#4d004b"/><stop offset="0.014" stop-color="#5a0458"/><stop offset="0.033" stop-color="#6a0867"/><stop offset="0.050" stop-color="#800f7b"/><stop offset="0.063" stop-color="#85298d"/><stop offset="0.075" stop-color="#8947a0"/><stop offset="0.087" stop-color="#8b60ac"/><stop offset="0.099" stop-color="#8c78b7"/><stop offset="0.112" stop-color="#8c8fc3"/><stop offset="0.125" stop-color="#91a1cc"/><stop offset="0.139" stop-color="#97add2"/><stop offset="0.153" stop-color="#9bb6d7"/><stop offset="0.167" stop-color="#9ebbda"/><stop offset="0.181" stop-color="#9dbbd9"/><stop offset="0.195" stop-color="#9bb6d7"/><stop offset="0.212" stop-color="#98b0d4"/><stop offset="0.232" stop-color="#94a6cf"/><stop offset="0.254" stop-color="#8e9bc8"/><stop offset="0.274" stop-color="#8c93c4"/><stop offset="0.292" stop-color="#8c90c3"/><stop offset="0.308" stop-color="#8c93c4"/><stop offset="0.325" stop-color="#8e9ac8"/><stop offset="0.341" stop-color="#94a7cf"/><stop offset="0.358" stop-color="#9db9d8"/><stop offset="0.375" stop-color="#acc6df"/><stop offset="0.391" stop-color="#bdd2e5"/><stop offset="0.408" stop-color="#cfdfed"/><stop offset="0.425" stop-color="#dfecf4"/><stop offset="0.446" stop-color="#e9f2f8"/><stop offset="0.468" stop-color="#f2f8fb"/><stop offset="0.488" stop-color="#f6fbfd"/><stop offset="0.506" stop-color="#f5fafc"/><stop offset="0.522" stop-color="#eff7fa"/><stop offset="0.538" stop-color="#e8f1f7"/><stop offset="0.555" stop-color="#ddeaf3"/><stop offset="0.570" stop-color="#cadceb"/><stop offset="0.587" stop-color="#b7cee3"/><stop offset="0.603" stop-color="#a3bfdc"/><stop offset="0.621" stop-color="#95a9d0"/><stop offset="0.637" stop-color="#8c93c4"/><stop offset="0.653" stop-color="#8c7dba"/><stop offset="0.668" stop-color="#8c6bb1"/><stop offset="0.683" stop-color="#8b60ac"/><stop offset="0.698" stop-color="#8b5fac"/><stop offset="0.711" stop-color="#8c66af"/><stop offset="0.726" stop-color="#8c71b4"/><stop offset="0.741" stop-color="#8c80bb"/><stop offset="0.757" stop-color="#8c92c4"/><stop offset="0.774" stop-color="#91a1cc"/><stop offset="0.794" stop-color="#98aed3"/><stop offset="0.816" stop-color="#9dbbd9"/><stop offset="0.837" stop-color="#a2bfdb"/><stop offset="0.855" stop-color="#a0bddb"/><stop offset="0.872" stop-color="#9bb6d7"/><stop offset="0.887" stop-color="#95a9d0"/><stop offset="0.901" stop-color="#8c96c6"/><stop offset="0.913" stop-color="#8c7bb9"/><stop offset="0.925" stop-color="#8b60ac"/><stop offset="0.938" stop-color="#88469f"/><stop offset="0.951" stop-color="#84268b"/><stop offset="0.964" stop-color="#7c0d77"/><stop offset="0.977" stop-color="#670763"/><stop offset="0.991" stop-color="#590356"/><stop offset="1.000" stop-color="#4d004b"/></linearGradient>
<polygon points="46.80,414.4 46.80,414.40 47.08,414.21 47.47,413.96 47.94,413.66 48.43,413.29 48.89,412.84 49.30,412.30 49.64,411.63 49.95,410.84 50.24,409.98 50.52,409.07 50.80,408.16 51.10,407.30 51.41,406.45 51.72,405.56 52.03,404.68 52.35,403.84 52.67,403.07 53.00,402.40 53.34,401.83 53.68,401.32 54.03,400.88 54.39,400.53 54.74,400.26 55.10,400.10 55.45,400.06 55.79,400.13 56.14,400.30 56.50,400.53 56.88,400.81 57.30,401.10 57.77,401.47 58.29,401.94 58.83,402.45 59.38,402.94 59.91,403.35 60.40,403.60 60.85,403.72 61.28,403.77 61.69,403.73 62.09,403.60 62.49,403.36 62.90,403.00 63.32,402.50 63.73,401.86 64.15,401.11 64.57,400.29 64.98,399.44 65.40,398.60 65.81,397.72 66.21,396.77 66.61,395.79 67.02,394.83 67.45,393.91 67.90,393.10 68.39,392.33 68.91,391.57 69.45,390.87 69.99,390.27 70.51,389.83 71.00,389.60 71.45,389.60 71.88,389.79 72.29,390.13 72.70,390.60 73.10,391.17 73.50,391.80 73.90,392.53 74.30,393.39 74.70,394.35 75.10,395.36 75.50,396.39 75.90,397.40 76.31,398.43 76.73,399.51 77.16,400.62 77.58,401.70 77.99,402.70 78.40,403.60 78.80,404.42 79.19,405.20 79.58,405.91 79.96,406.52 80.33,407.00 80.70,407.30 81.06,407.41 81.40,407.36 81.74,407.16 82.09,406.87 82.43,406.50 82.80,406.10 83.17,405.62 83.55,405.02 83.94,404.35 84.34,403.66 84.76,402.99 85.20,402.40 85.68,401.82 86.20,401.22 86.74,400.64 87.29,400.14 87.81,399.77 88.30,399.60 88.76,399.63 89.20,399.81 89.62,400.12 90.03,400.56 90.42,401.09 90.80,401.70 91.15,402.44 91.48,403.32 91.79,404.31 92.09,405.33 92.39,406.35 92.70,407.30 93.02,408.23 93.34,409.19 93.66,410.13 93.97,411.03 94.29,411.83 94.60,412.50 94.93,413.03 95.27,413.45 95.62,413.77 95.94,414.03 96.21,414.23 96.40,414.40 96.40,414.4" fill="url(#g_men)" fill-opacity="0.8"/>
<polyline points="46.80,414.40 47.08,414.21 47.47,413.96 47.94,413.66 48.43,413.29 48.89,412.84 49.30,412.30 49.64,411.63 49.95,410.84 50.24,409.98 50.52,409.07 50.80,408.16 51.10,407.30 51.41,406.45 51.72,405.56 52.03,404.68 52.35,403.84 52.67,403.07 53.00,402.40 53.34,401.83 53.68,401.32 54.03,400.88 54.39,400.53 54.74,400.26 55.10,400.10 55.45,400.06 55.79,400.13 56.14,400.30 56.50,400.53 56.88,400.81 57.30,401.10 57.77,401.47 58.29,401.94 58.83,402.45 59.38,402.94 59.91,403.35 60.40,403.60 60.85,403.72 61.28,403.77 61.69,403.73 62.09,403.60 62.49,403.36 62.90,403.00 63.32,402.50 63.73,401.86 64.15,401.11 64.57,400.29 64.98,399.44 65.40,398.60 65.81,397.72 66.21,396.77 66.61,395.79 67.02,394.83 67.45,393.91 67.90,393.10 68.39,392.33 68.91,391.57 69.45,390.87 69.99,390.27 70.51,389.83 71.00,389.60 71.45,389.60 71.88,389.79 72.29,390.13 72.70,390.60 73.10,391.17 73.50,391.80 73.90,392.53 74.30,393.39 74.70,394.35 75.10,395.36 75.50,396.39 75.90,397.40 76.31,398.43 76.73,399.51 77.16,400.62 77.58,401.70 77.99,402.70 78.40,403.60 78.80,404.42 79.19,405.20 79.58,405.91 79.96,406.52 80.33,407.00 80.70,407.30 81.06,407.41 81.40,407.36 81.74,407.16 82.09,406.87 82.43,406.50 82.80,406.10 83.17,405.62 83.55,405.02 83.94,404.35 84.34,403.66 84.76,402.99 85.20,402.40 85.68,401.82 86.20,401.22 86.74,400.64 87.29,400.14 87.81,399.77 88.30,399.60 88.76,399.63 89.20,399.81 89.62,400.12 90.03,400.56 90.42,401.09 90.80,401.70 91.15,402.44 91.48,403.32 91.79,404.31 92.09,405.33 92.39,406.35 92.70,407.30 93.02,408.23 93.34,409.19 93.66,410.13 93.97,411.03 94.29,411.83 94.60,412.50 94.93,413.03 95.27,413.45 95.62,413.77 95.94,414.03 96.21,414.23 96.40,414.40" fill="none" stroke="#5a5a5a" stroke-width="0.5"/>
<line x1="37.7" y1="414.4" x2="169.5" y2="414.4" stroke="#888" stroke-width="0.6"/>
<linearGradient id="g_epen" x1="37.70" y1="0" x2="146.60" y2="0" gradientUnits="userSpaceOnUse"><stop offset="0.000" stop-color="#8c71b4"/><stop offset="0.008" stop-color="#8c7fbb"/><stop offset="0.018" stop-color="#8c93c5"/><stop offset="0.029" stop-color="#93a4ce"/><stop offset="0.039" stop-color="#9ab4d6"/><stop offset="0.049" stop-color="#a4c0dc"/><stop offset="0.060" stop-color="#afc8e0"/><stop offset="0.072" stop-color="#b8cee3"/><stop offset="0.085" stop-color="#bfd3e6"/><stop offset="0.098" stop-color="#c2d5e7"/><stop offset="0.111" stop-color="#bed2e6"/><stop offset="0.124" stop-color="#b5cce2"/><stop offset="0.137" stop-color="#aac4de"/><stop offset="0.149" stop-color="#9db9d8"/><stop offset="0.162" stop-color="#93a5ce"/><stop offset="0.175" stop-color="#8c90c3"/><stop offset="0.190" stop-color="#8c77b7"/><stop offset="0.206" stop-color="#8b5eab"/><stop offset="0.222" stop-color="#894ba2"/><stop offset="0.237" stop-color="#88419d"/><stop offset="0.252" stop-color="#873d9b"/><stop offset="0.268" stop-color="#883e9b"/><stop offset="0.288" stop-color="#88449e"/><stop offset="0.309" stop-color="#894da3"/><stop offset="0.330" stop-color="#8a52a5"/><stop offset="0.349" stop-color="#894ea3"/><stop offset="0.367" stop-color="#88459f"/><stop offset="0.384" stop-color="#883e9b"/><stop offset="0.400" stop-color="#873b99"/><stop offset="0.415" stop-color="#873d9a"/><stop offset="0.430" stop-color="#88449e"/><stop offset="0.443" stop-color="#8951a4"/><stop offset="0.456" stop-color="#8b62ad"/><stop offset="0.468" stop-color="#8c79b8"/><stop offset="0.481" stop-color="#8d98c7"/><stop offset="0.494" stop-color="#9cb7d7"/><stop offset="0.507" stop-color="#b2cae1"/><stop offset="0.519" stop-color="#c7d9e9"/><stop offset="0.532" stop-color="#dae7f1"/><stop offset="0.545" stop-color="#e6f0f6"/><stop offset="0.560" stop-color="#eef6f9"/><stop offset="0.576" stop-color="#f4fafc"/><stop offset="0.591" stop-color="#f6fcfd"/><stop offset="0.604" stop-color="#f6fbfc"/><stop offset="0.617" stop-color="#f2f8fb"/><stop offset="0.630" stop-color="#ecf4f9"/><stop offset="0.645" stop-color="#e3eef5"/><stop offset="0.660" stop-color="#d4e3ef"/><stop offset="0.677" stop-color="#c2d5e7"/><stop offset="0.695" stop-color="#acc6df"/><stop offset="0.713" stop-color="#98b0d4"/><stop offset="0.731" stop-color="#8e9ac8"/><stop offset="0.747" stop-color="#8c8cc1"/><stop offset="0.762" stop-color="#8c86be"/><stop offset="0.777" stop-color="#8c85be"/><stop offset="0.790" stop-color="#8c8dc2"/><stop offset="0.803" stop-color="#8e9ac8"/><stop offset="0.815" stop-color="#93a4ce"/><stop offset="0.828" stop-color="#96abd1"/><stop offset="0.841" stop-color="#98afd3"/><stop offset="0.854" stop-color="#97aed2"/><stop offset="0.867" stop-color="#92a2cd"/><stop offset="0.880" stop-color="#8c90c3"/><stop offset="0.893" stop-color="#8c79b8"/><stop offset="0.905" stop-color="#8b5eab"/><stop offset="0.918" stop-color="#883f9c"/><stop offset="0.931" stop-color="#831f87"/><stop offset="0.944" stop-color="#780c74"/><stop offset="0.957" stop-color="#640761"/><stop offset="0.970" stop-color="#540251"/><stop offset="0.982" stop-color="#4d004b"/><stop offset="0.992" stop-color="#4d004b"/><stop offset="1.000" stop-color="#4d004b"/></linearGradient>
<polygon points="37.70,439.9 37.70,431.60 38.05,431.16 38.53,430.56 39.09,429.84 39.71,429.07 40.32,428.30 40.90,427.60 41.43,426.93 41.96,426.25 42.49,425.58 43.03,424.93 43.60,424.33 44.20,423.80 44.85,423.31 45.53,422.83 46.24,422.41 46.97,422.07 47.69,421.85 48.40,421.80 49.10,421.93 49.80,422.21 50.50,422.61 51.20,423.11 51.90,423.69 52.60,424.30 53.29,424.99 53.97,425.78 54.64,426.64 55.33,427.54 56.05,428.44 56.80,429.30 57.60,430.18 58.44,431.12 59.30,432.06 60.17,432.94 61.05,433.70 61.90,434.30 62.72,434.71 63.51,434.99 64.30,435.15 65.11,435.22 65.97,435.23 66.90,435.20 67.93,435.07 69.04,434.80 70.19,434.47 71.36,434.14 72.51,433.90 73.60,433.80 74.64,433.89 75.66,434.13 76.66,434.44 77.63,434.76 78.58,435.04 79.50,435.20 80.39,435.28 81.26,435.33 82.11,435.32 82.93,435.25 83.72,435.08 84.50,434.80 85.25,434.41 85.96,433.93 86.65,433.35 87.33,432.67 88.01,431.89 88.70,431.00 89.40,429.93 90.10,428.68 90.80,427.32 91.50,425.94 92.20,424.61 92.90,423.40 93.59,422.29 94.27,421.21 94.95,420.19 95.64,419.23 96.35,418.36 97.10,417.60 97.90,416.93 98.74,416.34 99.60,415.83 100.46,415.43 101.30,415.15 102.10,415.00 102.84,415.00 103.53,415.12 104.19,415.37 104.86,415.72 105.56,416.17 106.30,416.70 107.09,417.33 107.90,418.09 108.74,418.94 109.61,419.86 110.49,420.82 111.40,421.80 112.35,422.88 113.34,424.10 114.36,425.37 115.37,426.59 116.36,427.66 117.30,428.50 118.19,429.11 119.06,429.56 119.91,429.88 120.73,430.06 121.52,430.13 122.30,430.10 123.05,429.90 123.76,429.51 124.45,429.00 125.13,428.46 125.81,427.97 126.50,427.60 127.20,427.31 127.90,427.02 128.60,426.78 129.30,426.63 130.00,426.62 130.70,426.80 131.40,427.19 132.10,427.77 132.80,428.48 133.50,429.29 134.20,430.14 134.90,431.00 135.60,431.92 136.30,432.96 137.00,434.04 137.70,435.10 138.40,436.08 139.10,436.90 139.81,437.58 140.53,438.16 141.26,438.66 141.97,439.07 142.65,439.42 143.30,439.70 143.94,439.89 144.59,439.97 145.21,439.98 145.78,439.94 146.25,439.91 146.60,439.90 146.60,439.9" fill="url(#g_epen)" fill-opacity="0.8"/>
<polyline points="37.70,431.60 38.05,431.16 38.53,430.56 39.09,429.84 39.71,429.07 40.32,428.30 40.90,427.60 41.43,426.93 41.96,426.25 42.49,425.58 43.03,424.93 43.60,424.33 44.20,423.80 44.85,423.31 45.53,422.83 46.24,422.41 46.97,422.07 47.69,421.85 48.40,421.80 49.10,421.93 49.80,422.21 50.50,422.61 51.20,423.11 51.90,423.69 52.60,424.30 53.29,424.99 53.97,425.78 54.64,426.64 55.33,427.54 56.05,428.44 56.80,429.30 57.60,430.18 58.44,431.12 59.30,432.06 60.17,432.94 61.05,433.70 61.90,434.30 62.72,434.71 63.51,434.99 64.30,435.15 65.11,435.22 65.97,435.23 66.90,435.20 67.93,435.07 69.04,434.80 70.19,434.47 71.36,434.14 72.51,433.90 73.60,433.80 74.64,433.89 75.66,434.13 76.66,434.44 77.63,434.76 78.58,435.04 79.50,435.20 80.39,435.28 81.26,435.33 82.11,435.32 82.93,435.25 83.72,435.08 84.50,434.80 85.25,434.41 85.96,433.93 86.65,433.35 87.33,432.67 88.01,431.89 88.70,431.00 89.40,429.93 90.10,428.68 90.80,427.32 91.50,425.94 92.20,424.61 92.90,423.40 93.59,422.29 94.27,421.21 94.95,420.19 95.64,419.23 96.35,418.36 97.10,417.60 97.90,416.93 98.74,416.34 99.60,415.83 100.46,415.43 101.30,415.15 102.10,415.00 102.84,415.00 103.53,415.12 104.19,415.37 104.86,415.72 105.56,416.17 106.30,416.70 107.09,417.33 107.90,418.09 108.74,418.94 109.61,419.86 110.49,420.82 111.40,421.80 112.35,422.88 113.34,424.10 114.36,425.37 115.37,426.59 116.36,427.66 117.30,428.50 118.19,429.11 119.06,429.56 119.91,429.88 120.73,430.06 121.52,430.13 122.30,430.10 123.05,429.90 123.76,429.51 124.45,429.00 125.13,428.46 125.81,427.97 126.50,427.60 127.20,427.31 127.90,427.02 128.60,426.78 129.30,426.63 130.00,426.62 130.70,426.80 131.40,427.19 132.10,427.77 132.80,428.48 133.50,429.29 134.20,430.14 134.90,431.00 135.60,431.92 136.30,432.96 137.00,434.04 137.70,435.10 138.40,436.08 139.10,436.90 139.81,437.58 140.53,438.16 141.26,438.66 141.97,439.07 142.65,439.42 143.30,439.70 143.94,439.89 144.59,439.97 145.21,439.98 145.78,439.94 146.25,439.91 146.60,439.90" fill="none" stroke="#5a5a5a" stroke-width="0.5"/>
<line x1="37.7" y1="439.9" x2="169.5" y2="439.9" stroke="#888" stroke-width="0.6"/>
<linearGradient id="cbar" x1="0" y1="0" x2="0" y2="1"><stop offset="0.00" stop-color="#f7fcfd"/><stop offset="0.05" stop-color="#eef6f9"/><stop offset="0.10" stop-color="#e5eff6"/><stop offset="0.15" stop-color="#d9e7f1"/><stop offset="0.20" stop-color="#ccddec"/><stop offset="0.25" stop-color="#bfd3e6"/><stop offset="0.30" stop-color="#b2cae1"/><stop offset="0.35" stop-color="#a5c1dc"/><stop offset="0.40" stop-color="#9ab4d6"/><stop offset="0.45" stop-color="#93a5ce"/><stop offset="0.50" stop-color="#8c96c6"/><stop offset="0.55" stop-color="#8c85be"/><stop offset="0.60" stop-color="#8c74b5"/><stop offset="0.65" stop-color="#8b63ad"/><stop offset="0.70" stop-color="#8a52a5"/><stop offset="0.75" stop-color="#88419d"/><stop offset="0.80" stop-color="#852d90"/><stop offset="0.85" stop-color="#821983"/><stop offset="0.90" stop-color="#770c72"/><stop offset="0.95" stop-color="#62065f"/><stop offset="1.00" stop-color="#4d004b"/></linearGradient>
<rect x="181.9" y="367.4" width="6.5" height="63.7" fill="url(#cbar)" stroke="#ddd" stroke-width="0.4"/>
<text x="201.2" y="399.5" font-size="8.4" text-anchor="middle" fill="#2b2b2b" transform="rotate(-90 201.2 399.5)">Density</text>
<text x="237.40" y="219.80" font-size="13.5" text-anchor="start" fill="#000" font-weight="bold">e</text>
<text x="301.85" y="217.60" font-size="8.2" text-anchor="middle" fill="#2e2e2e">Meningioma</text>
<text x="301.85" y="225.70" font-size="8.2" text-anchor="middle" fill="#2e2e2e">CNS WHO Grade 1</text>
<text x="410.75" y="217.60" font-size="8.2" text-anchor="middle" fill="#2e2e2e">Schwannoma</text>
<text x="410.75" y="225.70" font-size="8.2" text-anchor="middle" fill="#2e2e2e">CNS WHO Grade 1</text>
<text x="519.75" y="217.60" font-size="8.2" text-anchor="middle" fill="#2e2e2e">SP/MYP Ependymoma</text>
<text x="519.75" y="225.70" font-size="8.2" text-anchor="middle" fill="#2e2e2e">CNS WHO Grade 2</text>
<text x="631.85" y="217.60" font-size="8.2" text-anchor="middle" fill="#2e2e2e">Metastasis</text>
<text x="631.85" y="225.70" font-size="8.2" text-anchor="middle" fill="#2e2e2e">various primary origin</text>
<polygon points="257.00,326.50 257.00,237.84 258.10,235.10 348.30,235.10 348.30,235.10 284.39,235.37 264.30,237.66 258.83,239.67 257.55,253.38 257.18,326.50" fill="#9a9a9a" stroke="none" stroke-width="1" fill-opacity="0.3"/>
<polygon points="257.00,326.50 257.00,237.84 258.10,235.10 348.30,235.10 348.30,235.10 297.17,235.10 264.67,240.58 258.83,257.95 257.91,299.08 257.46,326.50" fill="#b9ed3b" stroke="none" stroke-width="1" fill-opacity="0.48"/>
<polygon points="365.90,326.50 365.90,237.84 367.00,235.10 457.20,235.10 457.20,235.10 457.20,236.01 367.73,236.47 366.81,299.08 366.17,326.50" fill="#9a9a9a" stroke="none" stroke-width="1" fill-opacity="0.3"/>
<polygon points="365.90,326.50 365.90,237.84 367.00,235.10 457.20,235.10 457.20,235.10 457.20,236.01 367.73,236.47 366.81,299.08 366.36,326.50" fill="#6cd870" stroke="none" stroke-width="1" fill-opacity="0.35"/>
<polygon points="474.90,326.50 474.90,237.84 476.00,235.10 566.20,235.10 566.20,235.10 517.81,243.33 489.51,247.90 483.57,253.65 481.29,271.66 479.01,299.08 476.27,326.50" fill="#9a9a9a" stroke="none" stroke-width="1" fill-opacity="0.3"/>
<polygon points="474.90,326.50 474.90,237.84 476.00,235.10 566.20,235.10 566.20,235.10 523.02,244.70 482.57,261.97 479.47,271.66 477.64,289.94 475.81,326.50" fill="#56b4a6" stroke="none" stroke-width="1" fill-opacity="0.47"/>
<polygon points="587.00,326.50 587.00,237.84 588.10,235.10 678.30,235.10 678.30,235.10 641.78,240.13 627.17,245.52 606.72,246.98 597.96,255.21 594.30,280.80 591.11,326.50" fill="#9a9a9a" stroke="none" stroke-width="1" fill-opacity="0.3"/>
<polygon points="587.00,326.50 587.00,237.84 588.10,235.10 678.30,235.10 678.30,235.10 634.48,235.10 627.17,245.52 594.76,281.71 591.11,326.50" fill="#626ab2" stroke="none" stroke-width="1" fill-opacity="0.37"/>
<line x1="257.00" y1="326.50" x2="348.30" y2="235.10" stroke="#7a7a7a" stroke-width="0.5"/>
<line x1="365.90" y1="326.50" x2="457.20" y2="235.10" stroke="#7a7a7a" stroke-width="0.5"/>
<line x1="474.90" y1="326.50" x2="566.20" y2="235.10" stroke="#7a7a7a" stroke-width="0.5"/>
<line x1="587.00" y1="326.50" x2="678.30" y2="235.10" stroke="#7a7a7a" stroke-width="0.5"/>
<polyline points="257.00,326.50 257.46,244.24 258.83,238.76 262.48,236.47 284.39,235.37 348.30,235.10" fill="none" stroke="#9acb3a" stroke-width="0.9" stroke-linejoin="round"/>
<polyline points="257.00,326.50 257.27,239.67 258.83,236.01 284.39,235.10 348.30,235.10" fill="none" stroke="#aee02c" stroke-width="0.9" stroke-linejoin="round" stroke-opacity="0.7"/>
<polyline points="365.90,326.50 366.81,235.10 457.20,235.10" fill="none" stroke="#6cd870" stroke-width="0.9" stroke-linejoin="round" stroke-opacity="0.55"/>
<polyline points="474.90,326.50 478.55,280.80 480.38,253.38 484.03,246.07 502.29,242.41 525.12,237.84 566.20,235.10" fill="none" stroke="#6f8f8a" stroke-width="0.7" stroke-linejoin="round"/>
<polyline points="474.90,326.50 477.64,280.80 480.38,248.81 483.39,242.41 502.29,240.58 525.12,236.93 566.20,235.10" fill="none" stroke="#3fa395" stroke-width="0.9" stroke-linejoin="round"/>
<polyline points="587.91,326.50 591.57,280.80 596.13,253.38 597.04,245.15 614.39,241.50 641.78,236.93 678.30,235.10" fill="none" stroke="#8d8da0" stroke-width="0.6" stroke-linejoin="round"/>
<polyline points="587.00,326.50 590.65,271.66 593.03,254.29 595.40,242.41 634.48,235.10 678.30,235.10" fill="none" stroke="#5258ad" stroke-width="0.9" stroke-linejoin="round"/>
<rect x="255.40" y="230.50" width="92.90" height="96.00" fill="none" stroke="#555" stroke-width="0.8"/>
<text x="252.60" y="237.70" font-size="7.2" text-anchor="end" fill="#2e2e2e">1.0</text>
<text x="252.60" y="283.60" font-size="7.2" text-anchor="end" fill="#2e2e2e">0.5</text>
<text x="250.10" y="330.60" font-size="7.2" text-anchor="middle" fill="#2e2e2e">0</text>
<text x="301.40" y="335.10" font-size="7.2" text-anchor="middle" fill="#2e2e2e">0.5</text>
<text x="347.80" y="335.10" font-size="7.2" text-anchor="middle" fill="#2e2e2e">1.0</text>
<text x="301.85" y="342.80" font-size="8.2" text-anchor="middle" fill="#2e2e2e">False positive rate</text>
<rect x="299.50" y="308.90" width="5.30" height="5.10" fill="#b9ed3b" stroke="none" stroke-width="0.8"/>
<rect x="299.50" y="319.30" width="5.30" height="5.30" fill="#c4c4c4" stroke="none" stroke-width="0.8"/>
<text x="307.80" y="313.80" font-size="7.26" text-anchor="start" fill="#2e2e2e">99.5% ± 0.7</text>
<text x="307.80" y="324.20" font-size="7.26" text-anchor="start" fill="#2e2e2e">99.8% ± 0.2</text>
<rect x="364.30" y="230.50" width="92.90" height="96.00" fill="none" stroke="#555" stroke-width="0.8"/>
<text x="361.50" y="237.70" font-size="7.2" text-anchor="end" fill="#2e2e2e">1.0</text>
<text x="361.50" y="283.60" font-size="7.2" text-anchor="end" fill="#2e2e2e">0.5</text>
<text x="359.00" y="330.60" font-size="7.2" text-anchor="middle" fill="#2e2e2e">0</text>
<text x="410.30" y="335.10" font-size="7.2" text-anchor="middle" fill="#2e2e2e">0.5</text>
<text x="456.70" y="335.10" font-size="7.2" text-anchor="middle" fill="#2e2e2e">1.0</text>
<text x="410.75" y="342.80" font-size="8.2" text-anchor="middle" fill="#2e2e2e">False positive rate</text>
<rect x="408.40" y="308.90" width="5.30" height="5.10" fill="#6cd870" stroke="none" stroke-width="0.8"/>
<rect x="408.40" y="319.30" width="5.30" height="5.30" fill="#c4c4c4" stroke="none" stroke-width="0.8"/>
<text x="416.70" y="313.80" font-size="7.26" text-anchor="start" fill="#2e2e2e">100% ± 0.0</text>
<text x="416.70" y="324.20" font-size="7.26" text-anchor="start" fill="#2e2e2e">99.9% ± 0.1</text>
<rect x="473.30" y="230.50" width="92.90" height="96.00" fill="none" stroke="#555" stroke-width="0.8"/>
<text x="470.50" y="237.70" font-size="7.2" text-anchor="end" fill="#2e2e2e">1.0</text>
<text x="470.50" y="283.60" font-size="7.2" text-anchor="end" fill="#2e2e2e">0.5</text>
<text x="468.00" y="330.60" font-size="7.2" text-anchor="middle" fill="#2e2e2e">0</text>
<text x="519.30" y="335.10" font-size="7.2" text-anchor="middle" fill="#2e2e2e">0.5</text>
<text x="565.70" y="335.10" font-size="7.2" text-anchor="middle" fill="#2e2e2e">1.0</text>
<text x="519.75" y="342.80" font-size="8.2" text-anchor="middle" fill="#2e2e2e">False positive rate</text>
<rect x="517.40" y="308.90" width="5.30" height="5.10" fill="#56b4a6" stroke="none" stroke-width="0.8"/>
<rect x="517.40" y="319.30" width="5.30" height="5.30" fill="#c4c4c4" stroke="none" stroke-width="0.8"/>
<text x="525.70" y="313.80" font-size="7.26" text-anchor="start" fill="#2e2e2e">95.9% ± 3.1</text>
<text x="525.70" y="324.20" font-size="7.26" text-anchor="start" fill="#2e2e2e">93.4% ± 3.8</text>
<rect x="585.40" y="230.50" width="92.90" height="96.00" fill="none" stroke="#555" stroke-width="0.8"/>
<text x="582.60" y="237.70" font-size="7.2" text-anchor="end" fill="#2e2e2e">1.0</text>
<text x="582.60" y="283.60" font-size="7.2" text-anchor="end" fill="#2e2e2e">0.5</text>
<text x="580.10" y="330.60" font-size="7.2" text-anchor="middle" fill="#2e2e2e">0</text>
<text x="631.40" y="335.10" font-size="7.2" text-anchor="middle" fill="#2e2e2e">0.5</text>
<text x="677.80" y="335.10" font-size="7.2" text-anchor="middle" fill="#2e2e2e">1.0</text>
<text x="631.85" y="342.80" font-size="8.2" text-anchor="middle" fill="#2e2e2e">False positive rate</text>
<rect x="629.50" y="308.90" width="5.30" height="5.10" fill="#626ab2" stroke="none" stroke-width="0.8"/>
<rect x="629.50" y="319.30" width="5.30" height="5.30" fill="#c4c4c4" stroke="none" stroke-width="0.8"/>
<text x="637.80" y="313.80" font-size="7.26" text-anchor="start" fill="#2e2e2e">96.3% ± 2.9</text>
<text x="637.80" y="324.20" font-size="7.26" text-anchor="start" fill="#2e2e2e">92.2% ± 4.3</text>
<text x="236.40" y="278.50" font-size="8.3" text-anchor="middle" fill="#2e2e2e" transform="rotate(-90 236.40 278.50)">True positive rate</text>
<text x="232.60" y="368.00" font-size="13.5" text-anchor="start" fill="#000" font-weight="bold">f</text>
<text x="464.90" y="364.00" font-size="9.6" text-anchor="middle" fill="#2e2e2e">Ablation study, subset <tspan font-style="italic">patients</tspan>=36</text>
<rect x="247.40" y="369.40" width="436.10" height="68.50" fill="none" stroke="#555" stroke-width="0.8"/>
<line x1="272.20" y1="377.30" x2="272.20" y2="432.30" stroke="#bbb" stroke-width="0.5" stroke-dasharray="1.5,0.8"/>
<line x1="272.20" y1="432.30" x2="334.90" y2="432.30" stroke="#ccc" stroke-width="0.5"/>
<text x="270.20" y="379.70" font-size="7.0" text-anchor="end" fill="#2e2e2e">100</text>
<text x="270.20" y="407.50" font-size="7.0" text-anchor="end" fill="#2e2e2e">50</text>
<text x="270.20" y="434.80" font-size="7.0" text-anchor="end" fill="#2e2e2e">0</text>
<rect x="281.30" y="385.00" width="8.40" height="47.30" fill="#b89ad3" stroke="none" stroke-width="0.8"/>
<text x="288.00" y="386.60" font-size="7.0" text-anchor="end" fill="#fff" transform="rotate(-90 288.00 386.60)" fill-opacity="0.92" class="ns">81.0</text>
<rect x="300.10" y="378.60" width="8.40" height="53.70" fill="#b8bbba" stroke="none" stroke-width="0.8"/>
<text x="306.80" y="380.20" font-size="7.0" text-anchor="end" fill="#fff" transform="rotate(-90 306.80 380.20)" fill-opacity="0.92" class="ns">97.6</text>
<rect x="318.80" y="378.60" width="8.40" height="53.70" fill="#5073a3" stroke="none" stroke-width="0.8"/>
<text x="325.50" y="380.20" font-size="7.0" text-anchor="end" fill="#fff" transform="rotate(-90 325.50 380.20)" fill-opacity="0.92" class="ns">98.3</text>
<line x1="380.80" y1="377.30" x2="380.80" y2="432.30" stroke="#bbb" stroke-width="0.5" stroke-dasharray="1.5,0.8"/>
<line x1="380.80" y1="432.30" x2="443.50" y2="432.30" stroke="#ccc" stroke-width="0.5"/>
<text x="378.80" y="379.70" font-size="7.0" text-anchor="end" fill="#2e2e2e">100</text>
<text x="378.80" y="407.50" font-size="7.0" text-anchor="end" fill="#2e2e2e">50</text>
<text x="378.80" y="434.80" font-size="7.0" text-anchor="end" fill="#2e2e2e">0</text>
<rect x="389.90" y="380.80" width="8.40" height="51.50" fill="#b89ad3" stroke="none" stroke-width="0.8"/>
<text x="396.60" y="382.40" font-size="7.0" text-anchor="end" fill="#fff" transform="rotate(-90 396.60 382.40)" fill-opacity="0.92" class="ns">94.6</text>
<rect x="408.70" y="384.30" width="8.40" height="48.00" fill="#b8bbba" stroke="none" stroke-width="0.8"/>
<text x="415.40" y="385.90" font-size="7.0" text-anchor="end" fill="#fff" transform="rotate(-90 415.40 385.90)" fill-opacity="0.92" class="ns">86.1</text>
<rect x="427.40" y="378.20" width="8.40" height="54.10" fill="#5073a3" stroke="none" stroke-width="0.8"/>
<text x="434.10" y="379.80" font-size="7.0" text-anchor="end" fill="#fff" transform="rotate(-90 434.10 379.80)" fill-opacity="0.92" class="ns">98.6</text>
<line x1="490.70" y1="377.30" x2="490.70" y2="432.30" stroke="#bbb" stroke-width="0.5" stroke-dasharray="1.5,0.8"/>
<line x1="490.70" y1="432.30" x2="553.40" y2="432.30" stroke="#ccc" stroke-width="0.5"/>
<text x="488.70" y="379.70" font-size="7.0" text-anchor="end" fill="#2e2e2e">100</text>
<text x="488.70" y="407.50" font-size="7.0" text-anchor="end" fill="#2e2e2e">50</text>
<text x="488.70" y="434.80" font-size="7.0" text-anchor="end" fill="#2e2e2e">0</text>
<rect x="499.80" y="404.90" width="8.40" height="27.40" fill="#b89ad3" stroke="none" stroke-width="0.8"/>
<text x="506.50" y="406.50" font-size="7.0" text-anchor="end" fill="#fff" transform="rotate(-90 506.50 406.50)" fill-opacity="0.92" class="ns">50.0</text>
<rect x="518.60" y="396.30" width="8.40" height="36.00" fill="#b8bbba" stroke="none" stroke-width="0.8"/>
<text x="525.30" y="397.90" font-size="7.0" text-anchor="end" fill="#fff" transform="rotate(-90 525.30 397.90)" fill-opacity="0.92" class="ns">65.8</text>
<rect x="537.30" y="386.10" width="8.40" height="46.20" fill="#5073a3" stroke="none" stroke-width="0.8"/>
<text x="544.00" y="387.70" font-size="7.0" text-anchor="end" fill="#fff" transform="rotate(-90 544.00 387.70)" fill-opacity="0.92" class="ns">80.8</text>
<line x1="601.70" y1="377.30" x2="601.70" y2="432.30" stroke="#bbb" stroke-width="0.5" stroke-dasharray="1.5,0.8"/>
<line x1="601.70" y1="432.30" x2="664.40" y2="432.30" stroke="#ccc" stroke-width="0.5"/>
<text x="599.70" y="379.70" font-size="7.0" text-anchor="end" fill="#2e2e2e">100</text>
<text x="599.70" y="407.50" font-size="7.0" text-anchor="end" fill="#2e2e2e">50</text>
<text x="599.70" y="434.80" font-size="7.0" text-anchor="end" fill="#2e2e2e">0</text>
<rect x="610.80" y="387.80" width="8.40" height="44.50" fill="#b89ad3" stroke="none" stroke-width="0.8"/>
<text x="617.50" y="389.40" font-size="7.0" text-anchor="end" fill="#fff" transform="rotate(-90 617.50 389.40)" fill-opacity="0.92" class="ns">81.4</text>
<rect x="629.60" y="386.80" width="8.40" height="45.50" fill="#b8bbba" stroke="none" stroke-width="0.8"/>
<text x="636.30" y="388.40" font-size="7.0" text-anchor="end" fill="#fff" transform="rotate(-90 636.30 388.40)" fill-opacity="0.92" class="ns">83.4</text>
<rect x="648.30" y="381.70" width="8.40" height="50.60" fill="#5073a3" stroke="none" stroke-width="0.8"/>
<text x="655.00" y="383.30" font-size="7.0" text-anchor="end" fill="#fff" transform="rotate(-90 655.00 383.30)" fill-opacity="0.92" class="ns">92.1</text>
<text x="258.00" y="404.50" font-size="7.27" text-anchor="middle" fill="#2e2e2e" transform="rotate(-90 258.00 404.50)">Balanced acc.</text>
<rect x="254.60" y="445.00" width="8.40" height="8.40" fill="#b89ad3" stroke="none" stroke-width="0.8"/>
<text x="269.50" y="452.00" font-size="8.25" text-anchor="start" fill="#2e2e2e">state-of-the-art SRH-CNS classifier</text>
<rect x="431.00" y="445.00" width="8.70" height="8.40" fill="#bdbdbd" stroke="none" stroke-width="0.8"/>
<text x="445.80" y="452.00" font-size="8.4" text-anchor="start" fill="#2e2e2e">Foundation model</text>
<rect x="546.00" y="445.00" width="8.40" height="8.40" fill="#5073a3" stroke="none" stroke-width="0.8"/>
<text x="561.60" y="452.00" font-size="8.4" text-anchor="start" fill="#2e2e2e" font-style="italic">SpineXtract</text>
</svg>
</body></html>
